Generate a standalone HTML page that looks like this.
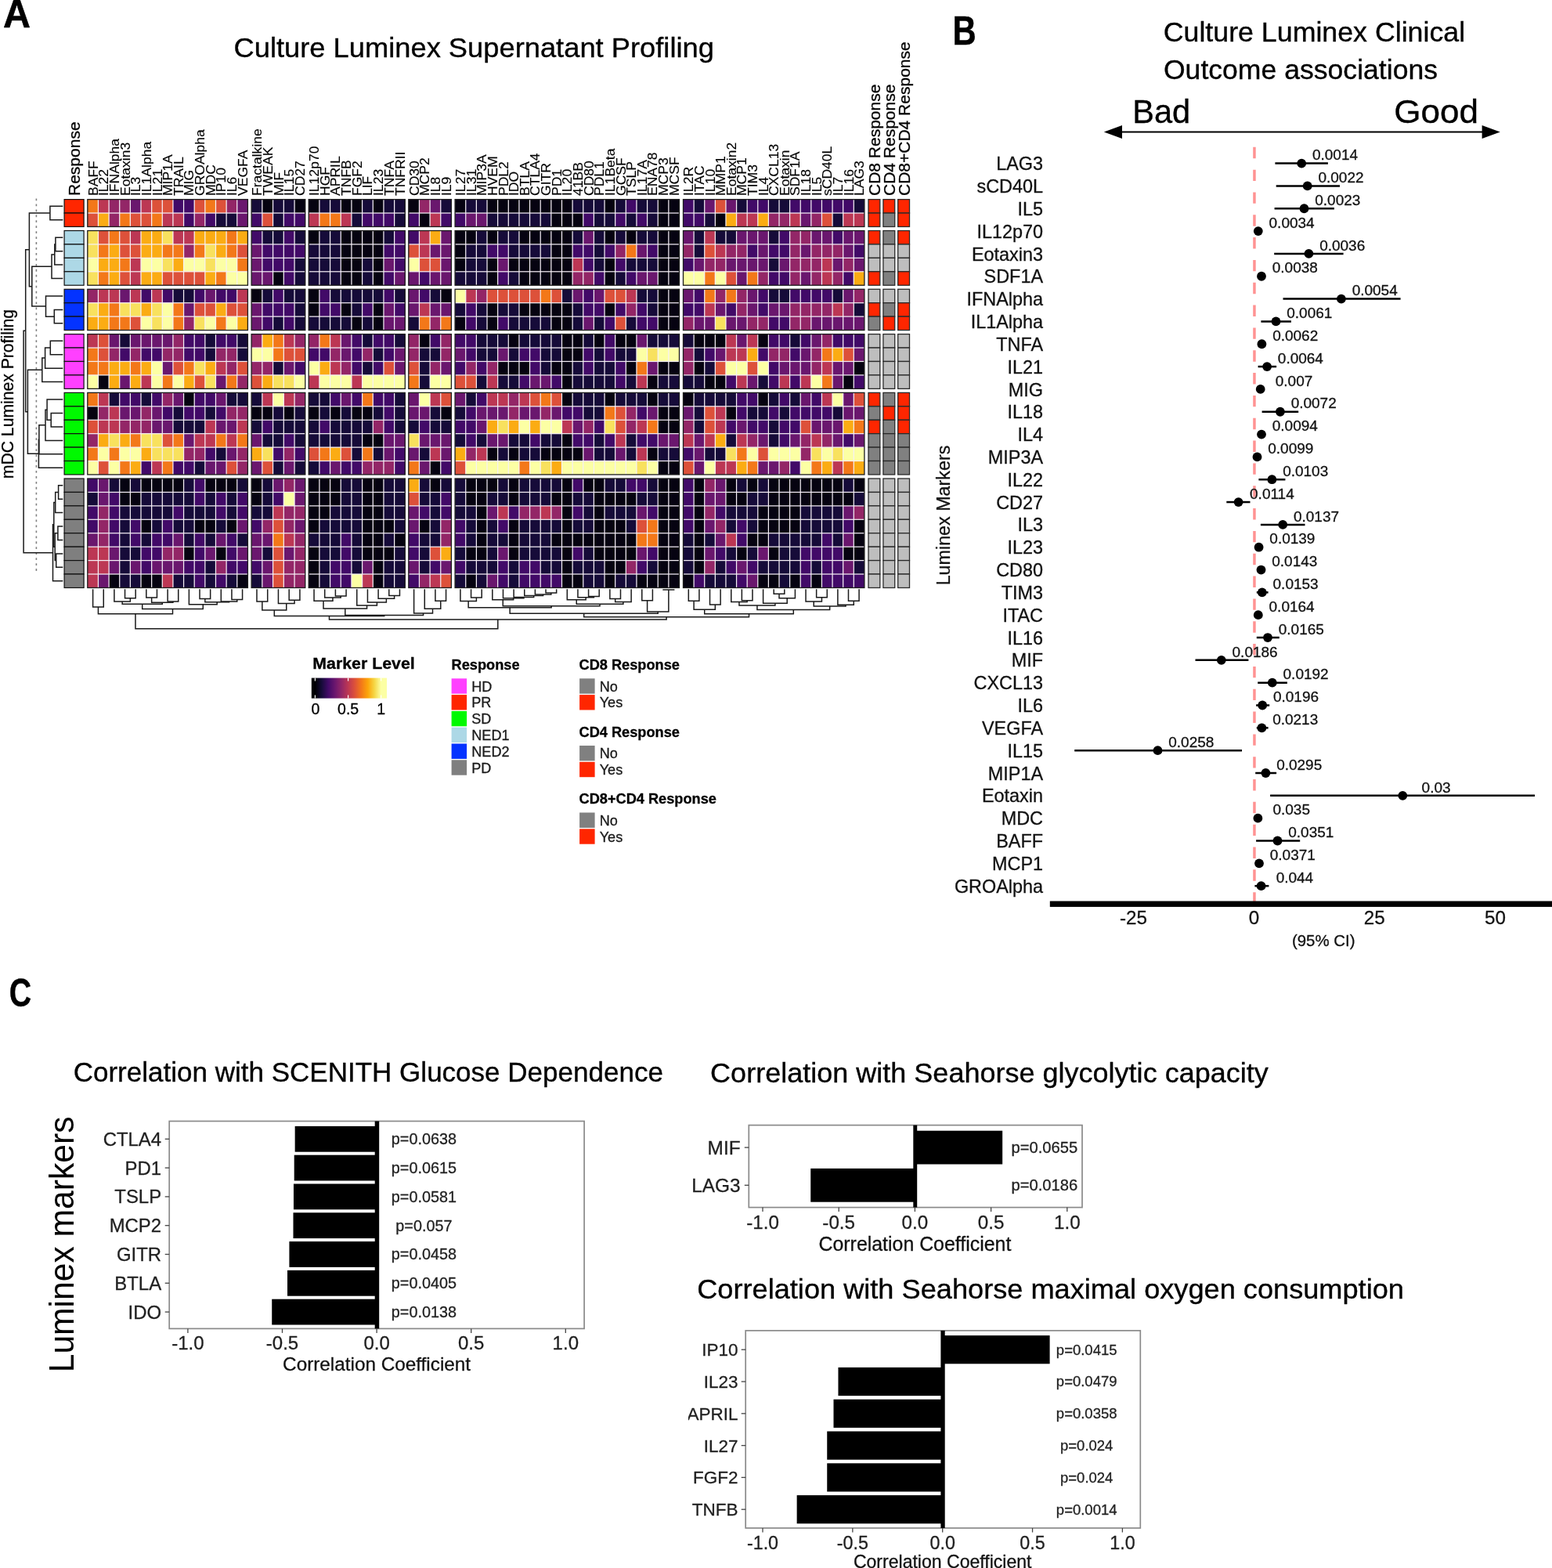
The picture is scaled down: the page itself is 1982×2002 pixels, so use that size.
<!DOCTYPE html>
<html lang="en">
<head>
<meta charset="utf-8">
<title>Culture Luminex Profiling Figure</title>
<style>
html,body{margin:0;padding:0;background:#fff;}
body{width:1982px;height:2002px;overflow:hidden;}
svg{display:block;font-family:"Liberation Sans", Arial, Helvetica, sans-serif;}
.t{font-family:"Liberation Sans", Arial, Helvetica, sans-serif;}
</style>
</head>
<body>
<svg width="1982" height="2002" viewBox="0 0 1982 2002">
<rect x="0" y="0" width="1982" height="2002" fill="#ffffff"/>
<g id="panelA">
<text font-size="50.5" transform="translate(3.99 34.8) scale(0.9605 1)" font-weight="bold" stroke="#000" stroke-width="0.5">A</text>
<text font-size="35.3" transform="translate(298.48 73) scale(1.0287 1)" stroke="#000" stroke-width="0.35">Culture Luminex Supernatant Profiling</text>
<text font-size="21.3" transform="rotate(-90 16.8 609.8) translate(15.42 609.8) scale(0.9938 1)" stroke="#000" stroke-width="0.3">mDC Luminex Profiling</text>
<g id="heatmap" shape-rendering="auto">
<rect x="111.8" y="254.6" width="204.6" height="34.86" fill="#f6f0f6"/>
<rect x="111.8" y="254.6" width="13.02" height="16.81" fill="#f37819"/>
<rect x="126.06" y="254.6" width="12.4" height="16.81" fill="#bc3754"/>
<rect x="139.7" y="254.6" width="12.4" height="16.81" fill="#932667"/>
<rect x="153.34" y="254.6" width="12.4" height="16.81" fill="#932667"/>
<rect x="166.98" y="254.6" width="12.4" height="16.81" fill="#6a176e"/>
<rect x="180.62" y="254.6" width="12.4" height="16.81" fill="#bc3754"/>
<rect x="194.26" y="254.6" width="12.4" height="16.81" fill="#dd513a"/>
<rect x="207.9" y="254.6" width="12.4" height="16.81" fill="#dd513a"/>
<rect x="221.54" y="254.6" width="12.4" height="16.81" fill="#420a68"/>
<rect x="235.18" y="254.6" width="12.4" height="16.81" fill="#420a68"/>
<rect x="248.82" y="254.6" width="12.4" height="16.81" fill="#dd513a"/>
<rect x="262.46" y="254.6" width="12.4" height="16.81" fill="#f37819"/>
<rect x="276.1" y="254.6" width="12.4" height="16.81" fill="#dd513a"/>
<rect x="289.74" y="254.6" width="12.4" height="16.81" fill="#932667"/>
<rect x="303.38" y="254.6" width="13.02" height="16.81" fill="#6a176e"/>
<rect x="111.8" y="272.65" width="13.02" height="16.81" fill="#dd513a"/>
<rect x="126.06" y="272.65" width="12.4" height="16.81" fill="#fbac13"/>
<rect x="139.7" y="272.65" width="12.4" height="16.81" fill="#932667"/>
<rect x="153.34" y="272.65" width="12.4" height="16.81" fill="#f37819"/>
<rect x="166.98" y="272.65" width="12.4" height="16.81" fill="#dd513a"/>
<rect x="180.62" y="272.65" width="12.4" height="16.81" fill="#dd513a"/>
<rect x="194.26" y="272.65" width="12.4" height="16.81" fill="#f37819"/>
<rect x="207.9" y="272.65" width="12.4" height="16.81" fill="#bc3754"/>
<rect x="221.54" y="272.65" width="12.4" height="16.81" fill="#bc3754"/>
<rect x="235.18" y="272.65" width="12.4" height="16.81" fill="#420a68"/>
<rect x="248.82" y="272.65" width="12.4" height="16.81" fill="#932667"/>
<rect x="262.46" y="272.65" width="12.4" height="16.81" fill="#420a68"/>
<rect x="276.1" y="272.65" width="12.4" height="16.81" fill="#160b39"/>
<rect x="289.74" y="272.65" width="12.4" height="16.81" fill="#160b39"/>
<rect x="303.38" y="272.65" width="13.02" height="16.81" fill="#6a176e"/>
<rect x="111.8" y="254.6" width="204.6" height="34.86" fill="none" stroke="#1c1c1c" stroke-width="1.3"/>
<rect x="321.1" y="254.6" width="68.7" height="34.86" fill="#f6f0f6"/>
<rect x="321.1" y="254.6" width="13.12" height="16.81" fill="#160b39"/>
<rect x="335.46" y="254.6" width="12.5" height="16.81" fill="#060311"/>
<rect x="349.2" y="254.6" width="12.5" height="16.81" fill="#160b39"/>
<rect x="362.94" y="254.6" width="12.5" height="16.81" fill="#160b39"/>
<rect x="376.68" y="254.6" width="13.12" height="16.81" fill="#060311"/>
<rect x="321.1" y="272.65" width="13.12" height="16.81" fill="#420a68"/>
<rect x="335.46" y="272.65" width="12.5" height="16.81" fill="#dd513a"/>
<rect x="349.2" y="272.65" width="12.5" height="16.81" fill="#160b39"/>
<rect x="362.94" y="272.65" width="12.5" height="16.81" fill="#420a68"/>
<rect x="376.68" y="272.65" width="13.12" height="16.81" fill="#420a68"/>
<rect x="321.1" y="254.6" width="68.7" height="34.86" fill="none" stroke="#1c1c1c" stroke-width="1.3"/>
<rect x="394.2" y="254.6" width="123.1" height="34.86" fill="#f6f0f6"/>
<rect x="394.2" y="254.6" width="13.06" height="16.81" fill="#060311"/>
<rect x="408.5" y="254.6" width="12.44" height="16.81" fill="#160b39"/>
<rect x="422.18" y="254.6" width="12.44" height="16.81" fill="#160b39"/>
<rect x="435.85" y="254.6" width="12.44" height="16.81" fill="#060311"/>
<rect x="449.53" y="254.6" width="12.44" height="16.81" fill="#060311"/>
<rect x="463.21" y="254.6" width="12.44" height="16.81" fill="#160b39"/>
<rect x="476.89" y="254.6" width="12.44" height="16.81" fill="#060311"/>
<rect x="490.56" y="254.6" width="12.44" height="16.81" fill="#160b39"/>
<rect x="504.24" y="254.6" width="13.06" height="16.81" fill="#160b39"/>
<rect x="394.2" y="272.65" width="13.06" height="16.81" fill="#bc3754"/>
<rect x="408.5" y="272.65" width="12.44" height="16.81" fill="#f37819"/>
<rect x="422.18" y="272.65" width="12.44" height="16.81" fill="#f37819"/>
<rect x="435.85" y="272.65" width="12.44" height="16.81" fill="#bc3754"/>
<rect x="449.53" y="272.65" width="12.44" height="16.81" fill="#160b39"/>
<rect x="463.21" y="272.65" width="12.44" height="16.81" fill="#420a68"/>
<rect x="476.89" y="272.65" width="12.44" height="16.81" fill="#420a68"/>
<rect x="490.56" y="272.65" width="12.44" height="16.81" fill="#420a68"/>
<rect x="504.24" y="272.65" width="13.06" height="16.81" fill="#160b39"/>
<rect x="394.2" y="254.6" width="123.1" height="34.86" fill="none" stroke="#1c1c1c" stroke-width="1.3"/>
<rect x="521.8" y="254.6" width="54.6" height="34.86" fill="#f6f0f6"/>
<rect x="521.8" y="254.6" width="13.03" height="16.81" fill="#060311"/>
<rect x="536.07" y="254.6" width="12.41" height="16.81" fill="#932667"/>
<rect x="549.72" y="254.6" width="12.41" height="16.81" fill="#6a176e"/>
<rect x="563.37" y="254.6" width="13.03" height="16.81" fill="#160b39"/>
<rect x="521.8" y="272.65" width="13.03" height="16.81" fill="#420a68"/>
<rect x="536.07" y="272.65" width="12.41" height="16.81" fill="#060311"/>
<rect x="549.72" y="272.65" width="12.41" height="16.81" fill="#bc3754"/>
<rect x="563.37" y="272.65" width="13.03" height="16.81" fill="#420a68"/>
<rect x="521.8" y="254.6" width="54.6" height="34.86" fill="none" stroke="#1c1c1c" stroke-width="1.3"/>
<rect x="581.1" y="254.6" width="286.4" height="34.86" fill="#f6f0f6"/>
<rect x="581.1" y="254.6" width="13.02" height="16.81" fill="#060311"/>
<rect x="595.36" y="254.6" width="12.4" height="16.81" fill="#160b39"/>
<rect x="609" y="254.6" width="12.4" height="16.81" fill="#160b39"/>
<rect x="622.63" y="254.6" width="12.4" height="16.81" fill="#060311"/>
<rect x="636.27" y="254.6" width="12.4" height="16.81" fill="#060311"/>
<rect x="649.91" y="254.6" width="12.4" height="16.81" fill="#060311"/>
<rect x="663.55" y="254.6" width="12.4" height="16.81" fill="#060311"/>
<rect x="677.19" y="254.6" width="12.4" height="16.81" fill="#060311"/>
<rect x="690.82" y="254.6" width="12.4" height="16.81" fill="#060311"/>
<rect x="704.46" y="254.6" width="12.4" height="16.81" fill="#060311"/>
<rect x="718.1" y="254.6" width="12.4" height="16.81" fill="#060311"/>
<rect x="731.74" y="254.6" width="12.4" height="16.81" fill="#160b39"/>
<rect x="745.38" y="254.6" width="12.4" height="16.81" fill="#160b39"/>
<rect x="759.02" y="254.6" width="12.4" height="16.81" fill="#160b39"/>
<rect x="772.65" y="254.6" width="12.4" height="16.81" fill="#060311"/>
<rect x="786.29" y="254.6" width="12.4" height="16.81" fill="#160b39"/>
<rect x="799.93" y="254.6" width="12.4" height="16.81" fill="#420a68"/>
<rect x="813.57" y="254.6" width="12.4" height="16.81" fill="#160b39"/>
<rect x="827.21" y="254.6" width="12.4" height="16.81" fill="#160b39"/>
<rect x="840.84" y="254.6" width="12.4" height="16.81" fill="#060311"/>
<rect x="854.48" y="254.6" width="13.02" height="16.81" fill="#060311"/>
<rect x="581.1" y="272.65" width="13.02" height="16.81" fill="#420a68"/>
<rect x="595.36" y="272.65" width="12.4" height="16.81" fill="#6a176e"/>
<rect x="609" y="272.65" width="12.4" height="16.81" fill="#6a176e"/>
<rect x="622.63" y="272.65" width="12.4" height="16.81" fill="#160b39"/>
<rect x="636.27" y="272.65" width="12.4" height="16.81" fill="#160b39"/>
<rect x="649.91" y="272.65" width="12.4" height="16.81" fill="#160b39"/>
<rect x="663.55" y="272.65" width="12.4" height="16.81" fill="#160b39"/>
<rect x="677.19" y="272.65" width="12.4" height="16.81" fill="#160b39"/>
<rect x="690.82" y="272.65" width="12.4" height="16.81" fill="#160b39"/>
<rect x="704.46" y="272.65" width="12.4" height="16.81" fill="#060311"/>
<rect x="718.1" y="272.65" width="12.4" height="16.81" fill="#060311"/>
<rect x="731.74" y="272.65" width="12.4" height="16.81" fill="#060311"/>
<rect x="745.38" y="272.65" width="12.4" height="16.81" fill="#420a68"/>
<rect x="759.02" y="272.65" width="12.4" height="16.81" fill="#160b39"/>
<rect x="772.65" y="272.65" width="12.4" height="16.81" fill="#160b39"/>
<rect x="786.29" y="272.65" width="12.4" height="16.81" fill="#420a68"/>
<rect x="799.93" y="272.65" width="12.4" height="16.81" fill="#160b39"/>
<rect x="813.57" y="272.65" width="12.4" height="16.81" fill="#420a68"/>
<rect x="827.21" y="272.65" width="12.4" height="16.81" fill="#160b39"/>
<rect x="840.84" y="272.65" width="12.4" height="16.81" fill="#060311"/>
<rect x="854.48" y="272.65" width="13.02" height="16.81" fill="#060311"/>
<rect x="581.1" y="254.6" width="286.4" height="34.86" fill="none" stroke="#1c1c1c" stroke-width="1.3"/>
<rect x="872.5" y="254.6" width="231.4" height="34.86" fill="#f6f0f6"/>
<rect x="872.5" y="254.6" width="12.99" height="16.81" fill="#420a68"/>
<rect x="886.73" y="254.6" width="12.37" height="16.81" fill="#160b39"/>
<rect x="900.34" y="254.6" width="12.37" height="16.81" fill="#6a176e"/>
<rect x="913.96" y="254.6" width="12.37" height="16.81" fill="#dd513a"/>
<rect x="927.57" y="254.6" width="12.37" height="16.81" fill="#6a176e"/>
<rect x="941.18" y="254.6" width="12.37" height="16.81" fill="#160b39"/>
<rect x="954.79" y="254.6" width="12.37" height="16.81" fill="#420a68"/>
<rect x="968.4" y="254.6" width="12.37" height="16.81" fill="#420a68"/>
<rect x="982.01" y="254.6" width="12.37" height="16.81" fill="#160b39"/>
<rect x="995.63" y="254.6" width="12.37" height="16.81" fill="#160b39"/>
<rect x="1009.24" y="254.6" width="12.37" height="16.81" fill="#420a68"/>
<rect x="1022.85" y="254.6" width="12.37" height="16.81" fill="#420a68"/>
<rect x="1036.46" y="254.6" width="12.37" height="16.81" fill="#420a68"/>
<rect x="1050.07" y="254.6" width="12.37" height="16.81" fill="#420a68"/>
<rect x="1063.68" y="254.6" width="12.37" height="16.81" fill="#420a68"/>
<rect x="1077.3" y="254.6" width="12.37" height="16.81" fill="#420a68"/>
<rect x="1090.91" y="254.6" width="12.99" height="16.81" fill="#160b39"/>
<rect x="872.5" y="272.65" width="12.99" height="16.81" fill="#420a68"/>
<rect x="886.73" y="272.65" width="12.37" height="16.81" fill="#420a68"/>
<rect x="900.34" y="272.65" width="12.37" height="16.81" fill="#160b39"/>
<rect x="913.96" y="272.65" width="12.37" height="16.81" fill="#060311"/>
<rect x="927.57" y="272.65" width="12.37" height="16.81" fill="#fbac13"/>
<rect x="941.18" y="272.65" width="12.37" height="16.81" fill="#bc3754"/>
<rect x="954.79" y="272.65" width="12.37" height="16.81" fill="#bc3754"/>
<rect x="968.4" y="272.65" width="12.37" height="16.81" fill="#fbac13"/>
<rect x="982.01" y="272.65" width="12.37" height="16.81" fill="#932667"/>
<rect x="995.63" y="272.65" width="12.37" height="16.81" fill="#932667"/>
<rect x="1009.24" y="272.65" width="12.37" height="16.81" fill="#bc3754"/>
<rect x="1022.85" y="272.65" width="12.37" height="16.81" fill="#6a176e"/>
<rect x="1036.46" y="272.65" width="12.37" height="16.81" fill="#932667"/>
<rect x="1050.07" y="272.65" width="12.37" height="16.81" fill="#dd513a"/>
<rect x="1063.68" y="272.65" width="12.37" height="16.81" fill="#160b39"/>
<rect x="1077.3" y="272.65" width="12.37" height="16.81" fill="#bc3754"/>
<rect x="1090.91" y="272.65" width="12.99" height="16.81" fill="#bc3754"/>
<rect x="872.5" y="254.6" width="231.4" height="34.86" fill="none" stroke="#1c1c1c" stroke-width="1.3"/>
<rect x="111.8" y="294.51" width="204.6" height="69.72" fill="#f6f0f6"/>
<rect x="111.8" y="294.51" width="13.02" height="16.81" fill="#f8e15e"/>
<rect x="126.06" y="294.51" width="12.4" height="16.81" fill="#dd513a"/>
<rect x="139.7" y="294.51" width="12.4" height="16.81" fill="#f37819"/>
<rect x="153.34" y="294.51" width="12.4" height="16.81" fill="#dd513a"/>
<rect x="166.98" y="294.51" width="12.4" height="16.81" fill="#bc3754"/>
<rect x="180.62" y="294.51" width="12.4" height="16.81" fill="#fbac13"/>
<rect x="194.26" y="294.51" width="12.4" height="16.81" fill="#fbac13"/>
<rect x="207.9" y="294.51" width="12.4" height="16.81" fill="#f8e15e"/>
<rect x="221.54" y="294.51" width="12.4" height="16.81" fill="#bc3754"/>
<rect x="235.18" y="294.51" width="12.4" height="16.81" fill="#bc3754"/>
<rect x="248.82" y="294.51" width="12.4" height="16.81" fill="#fbac13"/>
<rect x="262.46" y="294.51" width="12.4" height="16.81" fill="#fbac13"/>
<rect x="276.1" y="294.51" width="12.4" height="16.81" fill="#fbac13"/>
<rect x="289.74" y="294.51" width="12.4" height="16.81" fill="#f37819"/>
<rect x="303.38" y="294.51" width="13.02" height="16.81" fill="#fbac13"/>
<rect x="111.8" y="312.56" width="13.02" height="16.19" fill="#f8e15e"/>
<rect x="126.06" y="312.56" width="12.4" height="16.19" fill="#f37819"/>
<rect x="139.7" y="312.56" width="12.4" height="16.19" fill="#fbac13"/>
<rect x="153.34" y="312.56" width="12.4" height="16.19" fill="#dd513a"/>
<rect x="166.98" y="312.56" width="12.4" height="16.19" fill="#dd513a"/>
<rect x="180.62" y="312.56" width="12.4" height="16.19" fill="#fbac13"/>
<rect x="194.26" y="312.56" width="12.4" height="16.19" fill="#fbac13"/>
<rect x="207.9" y="312.56" width="12.4" height="16.19" fill="#f37819"/>
<rect x="221.54" y="312.56" width="12.4" height="16.19" fill="#f37819"/>
<rect x="235.18" y="312.56" width="12.4" height="16.19" fill="#932667"/>
<rect x="248.82" y="312.56" width="12.4" height="16.19" fill="#f37819"/>
<rect x="262.46" y="312.56" width="12.4" height="16.19" fill="#f8e15e"/>
<rect x="276.1" y="312.56" width="12.4" height="16.19" fill="#fbac13"/>
<rect x="289.74" y="312.56" width="12.4" height="16.19" fill="#f37819"/>
<rect x="303.38" y="312.56" width="13.02" height="16.19" fill="#dd513a"/>
<rect x="111.8" y="329.99" width="13.02" height="16.19" fill="#fcffa4"/>
<rect x="126.06" y="329.99" width="12.4" height="16.19" fill="#fbac13"/>
<rect x="139.7" y="329.99" width="12.4" height="16.19" fill="#fbac13"/>
<rect x="153.34" y="329.99" width="12.4" height="16.19" fill="#f37819"/>
<rect x="166.98" y="329.99" width="12.4" height="16.19" fill="#bc3754"/>
<rect x="180.62" y="329.99" width="12.4" height="16.19" fill="#fcffa4"/>
<rect x="194.26" y="329.99" width="12.4" height="16.19" fill="#fcffa4"/>
<rect x="207.9" y="329.99" width="12.4" height="16.19" fill="#f8e15e"/>
<rect x="221.54" y="329.99" width="12.4" height="16.19" fill="#fbac13"/>
<rect x="235.18" y="329.99" width="12.4" height="16.19" fill="#fcffa4"/>
<rect x="248.82" y="329.99" width="12.4" height="16.19" fill="#fcffa4"/>
<rect x="262.46" y="329.99" width="12.4" height="16.19" fill="#f8e15e"/>
<rect x="276.1" y="329.99" width="12.4" height="16.19" fill="#fcffa4"/>
<rect x="289.74" y="329.99" width="12.4" height="16.19" fill="#fcffa4"/>
<rect x="303.38" y="329.99" width="13.02" height="16.19" fill="#f37819"/>
<rect x="111.8" y="347.42" width="13.02" height="16.81" fill="#f8e15e"/>
<rect x="126.06" y="347.42" width="12.4" height="16.81" fill="#f37819"/>
<rect x="139.7" y="347.42" width="12.4" height="16.81" fill="#fbac13"/>
<rect x="153.34" y="347.42" width="12.4" height="16.81" fill="#dd513a"/>
<rect x="166.98" y="347.42" width="12.4" height="16.81" fill="#bc3754"/>
<rect x="180.62" y="347.42" width="12.4" height="16.81" fill="#fbac13"/>
<rect x="194.26" y="347.42" width="12.4" height="16.81" fill="#fbac13"/>
<rect x="207.9" y="347.42" width="12.4" height="16.81" fill="#dd513a"/>
<rect x="221.54" y="347.42" width="12.4" height="16.81" fill="#dd513a"/>
<rect x="235.18" y="347.42" width="12.4" height="16.81" fill="#dd513a"/>
<rect x="248.82" y="347.42" width="12.4" height="16.81" fill="#dd513a"/>
<rect x="262.46" y="347.42" width="12.4" height="16.81" fill="#fbac13"/>
<rect x="276.1" y="347.42" width="12.4" height="16.81" fill="#f37819"/>
<rect x="289.74" y="347.42" width="12.4" height="16.81" fill="#fcffa4"/>
<rect x="303.38" y="347.42" width="13.02" height="16.81" fill="#fcffa4"/>
<rect x="111.8" y="294.51" width="204.6" height="69.72" fill="none" stroke="#1c1c1c" stroke-width="1.3"/>
<rect x="321.1" y="294.51" width="68.7" height="69.72" fill="#f6f0f6"/>
<rect x="321.1" y="294.51" width="13.12" height="16.81" fill="#420a68"/>
<rect x="335.46" y="294.51" width="12.5" height="16.81" fill="#160b39"/>
<rect x="349.2" y="294.51" width="12.5" height="16.81" fill="#160b39"/>
<rect x="362.94" y="294.51" width="12.5" height="16.81" fill="#420a68"/>
<rect x="376.68" y="294.51" width="13.12" height="16.81" fill="#160b39"/>
<rect x="321.1" y="312.56" width="13.12" height="16.19" fill="#6a176e"/>
<rect x="335.46" y="312.56" width="12.5" height="16.19" fill="#420a68"/>
<rect x="349.2" y="312.56" width="12.5" height="16.19" fill="#420a68"/>
<rect x="362.94" y="312.56" width="12.5" height="16.19" fill="#420a68"/>
<rect x="376.68" y="312.56" width="13.12" height="16.19" fill="#420a68"/>
<rect x="321.1" y="329.99" width="13.12" height="16.19" fill="#6a176e"/>
<rect x="335.46" y="329.99" width="12.5" height="16.19" fill="#420a68"/>
<rect x="349.2" y="329.99" width="12.5" height="16.19" fill="#420a68"/>
<rect x="362.94" y="329.99" width="12.5" height="16.19" fill="#420a68"/>
<rect x="376.68" y="329.99" width="13.12" height="16.19" fill="#160b39"/>
<rect x="321.1" y="347.42" width="13.12" height="16.81" fill="#6a176e"/>
<rect x="335.46" y="347.42" width="12.5" height="16.81" fill="#6a176e"/>
<rect x="349.2" y="347.42" width="12.5" height="16.81" fill="#060311"/>
<rect x="362.94" y="347.42" width="12.5" height="16.81" fill="#420a68"/>
<rect x="376.68" y="347.42" width="13.12" height="16.81" fill="#160b39"/>
<rect x="321.1" y="294.51" width="68.7" height="69.72" fill="none" stroke="#1c1c1c" stroke-width="1.3"/>
<rect x="394.2" y="294.51" width="123.1" height="69.72" fill="#f6f0f6"/>
<rect x="394.2" y="294.51" width="13.06" height="16.81" fill="#060311"/>
<rect x="408.5" y="294.51" width="12.44" height="16.81" fill="#160b39"/>
<rect x="422.18" y="294.51" width="12.44" height="16.81" fill="#160b39"/>
<rect x="435.85" y="294.51" width="12.44" height="16.81" fill="#060311"/>
<rect x="449.53" y="294.51" width="12.44" height="16.81" fill="#060311"/>
<rect x="463.21" y="294.51" width="12.44" height="16.81" fill="#060311"/>
<rect x="476.89" y="294.51" width="12.44" height="16.81" fill="#060311"/>
<rect x="490.56" y="294.51" width="12.44" height="16.81" fill="#160b39"/>
<rect x="504.24" y="294.51" width="13.06" height="16.81" fill="#420a68"/>
<rect x="394.2" y="312.56" width="13.06" height="16.19" fill="#160b39"/>
<rect x="408.5" y="312.56" width="12.44" height="16.19" fill="#160b39"/>
<rect x="422.18" y="312.56" width="12.44" height="16.19" fill="#160b39"/>
<rect x="435.85" y="312.56" width="12.44" height="16.19" fill="#060311"/>
<rect x="449.53" y="312.56" width="12.44" height="16.19" fill="#060311"/>
<rect x="463.21" y="312.56" width="12.44" height="16.19" fill="#060311"/>
<rect x="476.89" y="312.56" width="12.44" height="16.19" fill="#060311"/>
<rect x="490.56" y="312.56" width="12.44" height="16.19" fill="#420a68"/>
<rect x="504.24" y="312.56" width="13.06" height="16.19" fill="#420a68"/>
<rect x="394.2" y="329.99" width="13.06" height="16.19" fill="#160b39"/>
<rect x="408.5" y="329.99" width="12.44" height="16.19" fill="#160b39"/>
<rect x="422.18" y="329.99" width="12.44" height="16.19" fill="#160b39"/>
<rect x="435.85" y="329.99" width="12.44" height="16.19" fill="#060311"/>
<rect x="449.53" y="329.99" width="12.44" height="16.19" fill="#060311"/>
<rect x="463.21" y="329.99" width="12.44" height="16.19" fill="#160b39"/>
<rect x="476.89" y="329.99" width="12.44" height="16.19" fill="#060311"/>
<rect x="490.56" y="329.99" width="12.44" height="16.19" fill="#6a176e"/>
<rect x="504.24" y="329.99" width="13.06" height="16.19" fill="#420a68"/>
<rect x="394.2" y="347.42" width="13.06" height="16.81" fill="#160b39"/>
<rect x="408.5" y="347.42" width="12.44" height="16.81" fill="#160b39"/>
<rect x="422.18" y="347.42" width="12.44" height="16.81" fill="#160b39"/>
<rect x="435.85" y="347.42" width="12.44" height="16.81" fill="#060311"/>
<rect x="449.53" y="347.42" width="12.44" height="16.81" fill="#060311"/>
<rect x="463.21" y="347.42" width="12.44" height="16.81" fill="#160b39"/>
<rect x="476.89" y="347.42" width="12.44" height="16.81" fill="#060311"/>
<rect x="490.56" y="347.42" width="12.44" height="16.81" fill="#420a68"/>
<rect x="504.24" y="347.42" width="13.06" height="16.81" fill="#6a176e"/>
<rect x="394.2" y="294.51" width="123.1" height="69.72" fill="none" stroke="#1c1c1c" stroke-width="1.3"/>
<rect x="521.8" y="294.51" width="54.6" height="69.72" fill="#f6f0f6"/>
<rect x="521.8" y="294.51" width="13.03" height="16.81" fill="#420a68"/>
<rect x="536.07" y="294.51" width="12.41" height="16.81" fill="#bc3754"/>
<rect x="549.72" y="294.51" width="12.41" height="16.81" fill="#fbac13"/>
<rect x="563.37" y="294.51" width="13.03" height="16.81" fill="#6a176e"/>
<rect x="521.8" y="312.56" width="13.03" height="16.19" fill="#dd513a"/>
<rect x="536.07" y="312.56" width="12.41" height="16.19" fill="#bc3754"/>
<rect x="549.72" y="312.56" width="12.41" height="16.19" fill="#6a176e"/>
<rect x="563.37" y="312.56" width="13.03" height="16.19" fill="#6a176e"/>
<rect x="521.8" y="329.99" width="13.03" height="16.19" fill="#fcffa4"/>
<rect x="536.07" y="329.99" width="12.41" height="16.19" fill="#dd513a"/>
<rect x="549.72" y="329.99" width="12.41" height="16.19" fill="#dd513a"/>
<rect x="563.37" y="329.99" width="13.03" height="16.19" fill="#6a176e"/>
<rect x="521.8" y="347.42" width="13.03" height="16.81" fill="#6a176e"/>
<rect x="536.07" y="347.42" width="12.41" height="16.81" fill="#420a68"/>
<rect x="549.72" y="347.42" width="12.41" height="16.81" fill="#6a176e"/>
<rect x="563.37" y="347.42" width="13.03" height="16.81" fill="#6a176e"/>
<rect x="521.8" y="294.51" width="54.6" height="69.72" fill="none" stroke="#1c1c1c" stroke-width="1.3"/>
<rect x="581.1" y="294.51" width="286.4" height="69.72" fill="#f6f0f6"/>
<rect x="581.1" y="294.51" width="13.02" height="16.81" fill="#060311"/>
<rect x="595.36" y="294.51" width="12.4" height="16.81" fill="#060311"/>
<rect x="609" y="294.51" width="12.4" height="16.81" fill="#160b39"/>
<rect x="622.63" y="294.51" width="12.4" height="16.81" fill="#060311"/>
<rect x="636.27" y="294.51" width="12.4" height="16.81" fill="#160b39"/>
<rect x="649.91" y="294.51" width="12.4" height="16.81" fill="#160b39"/>
<rect x="663.55" y="294.51" width="12.4" height="16.81" fill="#060311"/>
<rect x="677.19" y="294.51" width="12.4" height="16.81" fill="#060311"/>
<rect x="690.82" y="294.51" width="12.4" height="16.81" fill="#060311"/>
<rect x="704.46" y="294.51" width="12.4" height="16.81" fill="#060311"/>
<rect x="718.1" y="294.51" width="12.4" height="16.81" fill="#060311"/>
<rect x="731.74" y="294.51" width="12.4" height="16.81" fill="#160b39"/>
<rect x="745.38" y="294.51" width="12.4" height="16.81" fill="#6a176e"/>
<rect x="759.02" y="294.51" width="12.4" height="16.81" fill="#160b39"/>
<rect x="772.65" y="294.51" width="12.4" height="16.81" fill="#060311"/>
<rect x="786.29" y="294.51" width="12.4" height="16.81" fill="#160b39"/>
<rect x="799.93" y="294.51" width="12.4" height="16.81" fill="#060311"/>
<rect x="813.57" y="294.51" width="12.4" height="16.81" fill="#160b39"/>
<rect x="827.21" y="294.51" width="12.4" height="16.81" fill="#160b39"/>
<rect x="840.84" y="294.51" width="12.4" height="16.81" fill="#060311"/>
<rect x="854.48" y="294.51" width="13.02" height="16.81" fill="#060311"/>
<rect x="581.1" y="312.56" width="13.02" height="16.19" fill="#060311"/>
<rect x="595.36" y="312.56" width="12.4" height="16.19" fill="#160b39"/>
<rect x="609" y="312.56" width="12.4" height="16.19" fill="#160b39"/>
<rect x="622.63" y="312.56" width="12.4" height="16.19" fill="#420a68"/>
<rect x="636.27" y="312.56" width="12.4" height="16.19" fill="#420a68"/>
<rect x="649.91" y="312.56" width="12.4" height="16.19" fill="#160b39"/>
<rect x="663.55" y="312.56" width="12.4" height="16.19" fill="#160b39"/>
<rect x="677.19" y="312.56" width="12.4" height="16.19" fill="#160b39"/>
<rect x="690.82" y="312.56" width="12.4" height="16.19" fill="#160b39"/>
<rect x="704.46" y="312.56" width="12.4" height="16.19" fill="#060311"/>
<rect x="718.1" y="312.56" width="12.4" height="16.19" fill="#060311"/>
<rect x="731.74" y="312.56" width="12.4" height="16.19" fill="#420a68"/>
<rect x="745.38" y="312.56" width="12.4" height="16.19" fill="#420a68"/>
<rect x="759.02" y="312.56" width="12.4" height="16.19" fill="#160b39"/>
<rect x="772.65" y="312.56" width="12.4" height="16.19" fill="#420a68"/>
<rect x="786.29" y="312.56" width="12.4" height="16.19" fill="#932667"/>
<rect x="799.93" y="312.56" width="12.4" height="16.19" fill="#f37819"/>
<rect x="813.57" y="312.56" width="12.4" height="16.19" fill="#6a176e"/>
<rect x="827.21" y="312.56" width="12.4" height="16.19" fill="#420a68"/>
<rect x="840.84" y="312.56" width="12.4" height="16.19" fill="#060311"/>
<rect x="854.48" y="312.56" width="13.02" height="16.19" fill="#060311"/>
<rect x="581.1" y="329.99" width="13.02" height="16.19" fill="#060311"/>
<rect x="595.36" y="329.99" width="12.4" height="16.19" fill="#160b39"/>
<rect x="609" y="329.99" width="12.4" height="16.19" fill="#160b39"/>
<rect x="622.63" y="329.99" width="12.4" height="16.19" fill="#060311"/>
<rect x="636.27" y="329.99" width="12.4" height="16.19" fill="#6a176e"/>
<rect x="649.91" y="329.99" width="12.4" height="16.19" fill="#060311"/>
<rect x="663.55" y="329.99" width="12.4" height="16.19" fill="#060311"/>
<rect x="677.19" y="329.99" width="12.4" height="16.19" fill="#060311"/>
<rect x="690.82" y="329.99" width="12.4" height="16.19" fill="#060311"/>
<rect x="704.46" y="329.99" width="12.4" height="16.19" fill="#060311"/>
<rect x="718.1" y="329.99" width="12.4" height="16.19" fill="#060311"/>
<rect x="731.74" y="329.99" width="12.4" height="16.19" fill="#bc3754"/>
<rect x="745.38" y="329.99" width="12.4" height="16.19" fill="#420a68"/>
<rect x="759.02" y="329.99" width="12.4" height="16.19" fill="#160b39"/>
<rect x="772.65" y="329.99" width="12.4" height="16.19" fill="#060311"/>
<rect x="786.29" y="329.99" width="12.4" height="16.19" fill="#420a68"/>
<rect x="799.93" y="329.99" width="12.4" height="16.19" fill="#160b39"/>
<rect x="813.57" y="329.99" width="12.4" height="16.19" fill="#160b39"/>
<rect x="827.21" y="329.99" width="12.4" height="16.19" fill="#160b39"/>
<rect x="840.84" y="329.99" width="12.4" height="16.19" fill="#060311"/>
<rect x="854.48" y="329.99" width="13.02" height="16.19" fill="#060311"/>
<rect x="581.1" y="347.42" width="13.02" height="16.81" fill="#160b39"/>
<rect x="595.36" y="347.42" width="12.4" height="16.81" fill="#160b39"/>
<rect x="609" y="347.42" width="12.4" height="16.81" fill="#160b39"/>
<rect x="622.63" y="347.42" width="12.4" height="16.81" fill="#060311"/>
<rect x="636.27" y="347.42" width="12.4" height="16.81" fill="#420a68"/>
<rect x="649.91" y="347.42" width="12.4" height="16.81" fill="#160b39"/>
<rect x="663.55" y="347.42" width="12.4" height="16.81" fill="#060311"/>
<rect x="677.19" y="347.42" width="12.4" height="16.81" fill="#060311"/>
<rect x="690.82" y="347.42" width="12.4" height="16.81" fill="#060311"/>
<rect x="704.46" y="347.42" width="12.4" height="16.81" fill="#060311"/>
<rect x="718.1" y="347.42" width="12.4" height="16.81" fill="#060311"/>
<rect x="731.74" y="347.42" width="12.4" height="16.81" fill="#932667"/>
<rect x="745.38" y="347.42" width="12.4" height="16.81" fill="#932667"/>
<rect x="759.02" y="347.42" width="12.4" height="16.81" fill="#420a68"/>
<rect x="772.65" y="347.42" width="12.4" height="16.81" fill="#060311"/>
<rect x="786.29" y="347.42" width="12.4" height="16.81" fill="#160b39"/>
<rect x="799.93" y="347.42" width="12.4" height="16.81" fill="#420a68"/>
<rect x="813.57" y="347.42" width="12.4" height="16.81" fill="#6a176e"/>
<rect x="827.21" y="347.42" width="12.4" height="16.81" fill="#6a176e"/>
<rect x="840.84" y="347.42" width="12.4" height="16.81" fill="#060311"/>
<rect x="854.48" y="347.42" width="13.02" height="16.81" fill="#060311"/>
<rect x="581.1" y="294.51" width="286.4" height="69.72" fill="none" stroke="#1c1c1c" stroke-width="1.3"/>
<rect x="872.5" y="294.51" width="231.4" height="69.72" fill="#f6f0f6"/>
<rect x="872.5" y="294.51" width="12.99" height="16.81" fill="#6a176e"/>
<rect x="886.73" y="294.51" width="12.37" height="16.81" fill="#160b39"/>
<rect x="900.34" y="294.51" width="12.37" height="16.81" fill="#bc3754"/>
<rect x="913.96" y="294.51" width="12.37" height="16.81" fill="#160b39"/>
<rect x="927.57" y="294.51" width="12.37" height="16.81" fill="#160b39"/>
<rect x="941.18" y="294.51" width="12.37" height="16.81" fill="#6a176e"/>
<rect x="954.79" y="294.51" width="12.37" height="16.81" fill="#6a176e"/>
<rect x="968.4" y="294.51" width="12.37" height="16.81" fill="#6a176e"/>
<rect x="982.01" y="294.51" width="12.37" height="16.81" fill="#160b39"/>
<rect x="995.63" y="294.51" width="12.37" height="16.81" fill="#420a68"/>
<rect x="1009.24" y="294.51" width="12.37" height="16.81" fill="#932667"/>
<rect x="1022.85" y="294.51" width="12.37" height="16.81" fill="#932667"/>
<rect x="1036.46" y="294.51" width="12.37" height="16.81" fill="#6a176e"/>
<rect x="1050.07" y="294.51" width="12.37" height="16.81" fill="#6a176e"/>
<rect x="1063.68" y="294.51" width="12.37" height="16.81" fill="#420a68"/>
<rect x="1077.3" y="294.51" width="12.37" height="16.81" fill="#6a176e"/>
<rect x="1090.91" y="294.51" width="12.99" height="16.81" fill="#6a176e"/>
<rect x="872.5" y="312.56" width="12.99" height="16.19" fill="#932667"/>
<rect x="886.73" y="312.56" width="12.37" height="16.19" fill="#160b39"/>
<rect x="900.34" y="312.56" width="12.37" height="16.19" fill="#dd513a"/>
<rect x="913.96" y="312.56" width="12.37" height="16.19" fill="#bc3754"/>
<rect x="927.57" y="312.56" width="12.37" height="16.19" fill="#932667"/>
<rect x="941.18" y="312.56" width="12.37" height="16.19" fill="#932667"/>
<rect x="954.79" y="312.56" width="12.37" height="16.19" fill="#420a68"/>
<rect x="968.4" y="312.56" width="12.37" height="16.19" fill="#6a176e"/>
<rect x="982.01" y="312.56" width="12.37" height="16.19" fill="#420a68"/>
<rect x="995.63" y="312.56" width="12.37" height="16.19" fill="#420a68"/>
<rect x="1009.24" y="312.56" width="12.37" height="16.19" fill="#932667"/>
<rect x="1022.85" y="312.56" width="12.37" height="16.19" fill="#6a176e"/>
<rect x="1036.46" y="312.56" width="12.37" height="16.19" fill="#932667"/>
<rect x="1050.07" y="312.56" width="12.37" height="16.19" fill="#932667"/>
<rect x="1063.68" y="312.56" width="12.37" height="16.19" fill="#932667"/>
<rect x="1077.3" y="312.56" width="12.37" height="16.19" fill="#6a176e"/>
<rect x="1090.91" y="312.56" width="12.99" height="16.19" fill="#420a68"/>
<rect x="872.5" y="329.99" width="12.99" height="16.19" fill="#420a68"/>
<rect x="886.73" y="329.99" width="12.37" height="16.19" fill="#6a176e"/>
<rect x="900.34" y="329.99" width="12.37" height="16.19" fill="#932667"/>
<rect x="913.96" y="329.99" width="12.37" height="16.19" fill="#932667"/>
<rect x="927.57" y="329.99" width="12.37" height="16.19" fill="#6a176e"/>
<rect x="941.18" y="329.99" width="12.37" height="16.19" fill="#6a176e"/>
<rect x="954.79" y="329.99" width="12.37" height="16.19" fill="#6a176e"/>
<rect x="968.4" y="329.99" width="12.37" height="16.19" fill="#6a176e"/>
<rect x="982.01" y="329.99" width="12.37" height="16.19" fill="#160b39"/>
<rect x="995.63" y="329.99" width="12.37" height="16.19" fill="#6a176e"/>
<rect x="1009.24" y="329.99" width="12.37" height="16.19" fill="#932667"/>
<rect x="1022.85" y="329.99" width="12.37" height="16.19" fill="#932667"/>
<rect x="1036.46" y="329.99" width="12.37" height="16.19" fill="#932667"/>
<rect x="1050.07" y="329.99" width="12.37" height="16.19" fill="#bc3754"/>
<rect x="1063.68" y="329.99" width="12.37" height="16.19" fill="#6a176e"/>
<rect x="1077.3" y="329.99" width="12.37" height="16.19" fill="#932667"/>
<rect x="1090.91" y="329.99" width="12.99" height="16.19" fill="#6a176e"/>
<rect x="872.5" y="347.42" width="12.99" height="16.81" fill="#fcffa4"/>
<rect x="886.73" y="347.42" width="12.37" height="16.81" fill="#fcffa4"/>
<rect x="900.34" y="347.42" width="12.37" height="16.81" fill="#f37819"/>
<rect x="913.96" y="347.42" width="12.37" height="16.81" fill="#fcffa4"/>
<rect x="927.57" y="347.42" width="12.37" height="16.81" fill="#dd513a"/>
<rect x="941.18" y="347.42" width="12.37" height="16.81" fill="#6a176e"/>
<rect x="954.79" y="347.42" width="12.37" height="16.81" fill="#f37819"/>
<rect x="968.4" y="347.42" width="12.37" height="16.81" fill="#932667"/>
<rect x="982.01" y="347.42" width="12.37" height="16.81" fill="#420a68"/>
<rect x="995.63" y="347.42" width="12.37" height="16.81" fill="#420a68"/>
<rect x="1009.24" y="347.42" width="12.37" height="16.81" fill="#932667"/>
<rect x="1022.85" y="347.42" width="12.37" height="16.81" fill="#6a176e"/>
<rect x="1036.46" y="347.42" width="12.37" height="16.81" fill="#932667"/>
<rect x="1050.07" y="347.42" width="12.37" height="16.81" fill="#bc3754"/>
<rect x="1063.68" y="347.42" width="12.37" height="16.81" fill="#932667"/>
<rect x="1077.3" y="347.42" width="12.37" height="16.81" fill="#420a68"/>
<rect x="1090.91" y="347.42" width="12.99" height="16.81" fill="#fbac13"/>
<rect x="872.5" y="294.51" width="231.4" height="69.72" fill="none" stroke="#1c1c1c" stroke-width="1.3"/>
<rect x="111.8" y="369.28" width="204.6" height="52.29" fill="#f6f0f6"/>
<rect x="111.8" y="369.28" width="13.02" height="16.81" fill="#932667"/>
<rect x="126.06" y="369.28" width="12.4" height="16.81" fill="#bc3754"/>
<rect x="139.7" y="369.28" width="12.4" height="16.81" fill="#bc3754"/>
<rect x="153.34" y="369.28" width="12.4" height="16.81" fill="#6a176e"/>
<rect x="166.98" y="369.28" width="12.4" height="16.81" fill="#bc3754"/>
<rect x="180.62" y="369.28" width="12.4" height="16.81" fill="#420a68"/>
<rect x="194.26" y="369.28" width="12.4" height="16.81" fill="#bc3754"/>
<rect x="207.9" y="369.28" width="12.4" height="16.81" fill="#420a68"/>
<rect x="221.54" y="369.28" width="12.4" height="16.81" fill="#160b39"/>
<rect x="235.18" y="369.28" width="12.4" height="16.81" fill="#160b39"/>
<rect x="248.82" y="369.28" width="12.4" height="16.81" fill="#420a68"/>
<rect x="262.46" y="369.28" width="12.4" height="16.81" fill="#6a176e"/>
<rect x="276.1" y="369.28" width="12.4" height="16.81" fill="#420a68"/>
<rect x="289.74" y="369.28" width="12.4" height="16.81" fill="#420a68"/>
<rect x="303.38" y="369.28" width="13.02" height="16.81" fill="#bc3754"/>
<rect x="111.8" y="387.33" width="13.02" height="16.19" fill="#f8e15e"/>
<rect x="126.06" y="387.33" width="12.4" height="16.19" fill="#fbac13"/>
<rect x="139.7" y="387.33" width="12.4" height="16.19" fill="#f37819"/>
<rect x="153.34" y="387.33" width="12.4" height="16.19" fill="#f8e15e"/>
<rect x="166.98" y="387.33" width="12.4" height="16.19" fill="#f8e15e"/>
<rect x="180.62" y="387.33" width="12.4" height="16.19" fill="#fbac13"/>
<rect x="194.26" y="387.33" width="12.4" height="16.19" fill="#f8e15e"/>
<rect x="207.9" y="387.33" width="12.4" height="16.19" fill="#fcffa4"/>
<rect x="221.54" y="387.33" width="12.4" height="16.19" fill="#f37819"/>
<rect x="235.18" y="387.33" width="12.4" height="16.19" fill="#6a176e"/>
<rect x="248.82" y="387.33" width="12.4" height="16.19" fill="#dd513a"/>
<rect x="262.46" y="387.33" width="12.4" height="16.19" fill="#dd513a"/>
<rect x="276.1" y="387.33" width="12.4" height="16.19" fill="#fbac13"/>
<rect x="289.74" y="387.33" width="12.4" height="16.19" fill="#dd513a"/>
<rect x="303.38" y="387.33" width="13.02" height="16.19" fill="#dd513a"/>
<rect x="111.8" y="404.76" width="13.02" height="16.81" fill="#fbac13"/>
<rect x="126.06" y="404.76" width="12.4" height="16.81" fill="#fbac13"/>
<rect x="139.7" y="404.76" width="12.4" height="16.81" fill="#f37819"/>
<rect x="153.34" y="404.76" width="12.4" height="16.81" fill="#f37819"/>
<rect x="166.98" y="404.76" width="12.4" height="16.81" fill="#dd513a"/>
<rect x="180.62" y="404.76" width="12.4" height="16.81" fill="#fcffa4"/>
<rect x="194.26" y="404.76" width="12.4" height="16.81" fill="#f8e15e"/>
<rect x="207.9" y="404.76" width="12.4" height="16.81" fill="#fcffa4"/>
<rect x="221.54" y="404.76" width="12.4" height="16.81" fill="#f37819"/>
<rect x="235.18" y="404.76" width="12.4" height="16.81" fill="#932667"/>
<rect x="248.82" y="404.76" width="12.4" height="16.81" fill="#f8e15e"/>
<rect x="262.46" y="404.76" width="12.4" height="16.81" fill="#fcffa4"/>
<rect x="276.1" y="404.76" width="12.4" height="16.81" fill="#f37819"/>
<rect x="289.74" y="404.76" width="12.4" height="16.81" fill="#fcffa4"/>
<rect x="303.38" y="404.76" width="13.02" height="16.81" fill="#fbac13"/>
<rect x="111.8" y="369.28" width="204.6" height="52.29" fill="none" stroke="#1c1c1c" stroke-width="1.3"/>
<rect x="321.1" y="369.28" width="68.7" height="52.29" fill="#f6f0f6"/>
<rect x="321.1" y="369.28" width="13.12" height="16.81" fill="#060311"/>
<rect x="335.46" y="369.28" width="12.5" height="16.81" fill="#160b39"/>
<rect x="349.2" y="369.28" width="12.5" height="16.81" fill="#420a68"/>
<rect x="362.94" y="369.28" width="12.5" height="16.81" fill="#160b39"/>
<rect x="376.68" y="369.28" width="13.12" height="16.81" fill="#160b39"/>
<rect x="321.1" y="387.33" width="13.12" height="16.19" fill="#6a176e"/>
<rect x="335.46" y="387.33" width="12.5" height="16.19" fill="#420a68"/>
<rect x="349.2" y="387.33" width="12.5" height="16.19" fill="#420a68"/>
<rect x="362.94" y="387.33" width="12.5" height="16.19" fill="#420a68"/>
<rect x="376.68" y="387.33" width="13.12" height="16.19" fill="#160b39"/>
<rect x="321.1" y="404.76" width="13.12" height="16.81" fill="#6a176e"/>
<rect x="335.46" y="404.76" width="12.5" height="16.81" fill="#420a68"/>
<rect x="349.2" y="404.76" width="12.5" height="16.81" fill="#160b39"/>
<rect x="362.94" y="404.76" width="12.5" height="16.81" fill="#420a68"/>
<rect x="376.68" y="404.76" width="13.12" height="16.81" fill="#160b39"/>
<rect x="321.1" y="369.28" width="68.7" height="52.29" fill="none" stroke="#1c1c1c" stroke-width="1.3"/>
<rect x="394.2" y="369.28" width="123.1" height="52.29" fill="#f6f0f6"/>
<rect x="394.2" y="369.28" width="13.06" height="16.81" fill="#060311"/>
<rect x="408.5" y="369.28" width="12.44" height="16.81" fill="#420a68"/>
<rect x="422.18" y="369.28" width="12.44" height="16.81" fill="#160b39"/>
<rect x="435.85" y="369.28" width="12.44" height="16.81" fill="#160b39"/>
<rect x="449.53" y="369.28" width="12.44" height="16.81" fill="#160b39"/>
<rect x="463.21" y="369.28" width="12.44" height="16.81" fill="#160b39"/>
<rect x="476.89" y="369.28" width="12.44" height="16.81" fill="#160b39"/>
<rect x="490.56" y="369.28" width="12.44" height="16.81" fill="#420a68"/>
<rect x="504.24" y="369.28" width="13.06" height="16.81" fill="#160b39"/>
<rect x="394.2" y="387.33" width="13.06" height="16.19" fill="#060311"/>
<rect x="408.5" y="387.33" width="12.44" height="16.19" fill="#420a68"/>
<rect x="422.18" y="387.33" width="12.44" height="16.19" fill="#420a68"/>
<rect x="435.85" y="387.33" width="12.44" height="16.19" fill="#060311"/>
<rect x="449.53" y="387.33" width="12.44" height="16.19" fill="#160b39"/>
<rect x="463.21" y="387.33" width="12.44" height="16.19" fill="#420a68"/>
<rect x="476.89" y="387.33" width="12.44" height="16.19" fill="#060311"/>
<rect x="490.56" y="387.33" width="12.44" height="16.19" fill="#6a176e"/>
<rect x="504.24" y="387.33" width="13.06" height="16.19" fill="#420a68"/>
<rect x="394.2" y="404.76" width="13.06" height="16.81" fill="#160b39"/>
<rect x="408.5" y="404.76" width="12.44" height="16.81" fill="#160b39"/>
<rect x="422.18" y="404.76" width="12.44" height="16.81" fill="#160b39"/>
<rect x="435.85" y="404.76" width="12.44" height="16.81" fill="#160b39"/>
<rect x="449.53" y="404.76" width="12.44" height="16.81" fill="#060311"/>
<rect x="463.21" y="404.76" width="12.44" height="16.81" fill="#160b39"/>
<rect x="476.89" y="404.76" width="12.44" height="16.81" fill="#060311"/>
<rect x="490.56" y="404.76" width="12.44" height="16.81" fill="#6a176e"/>
<rect x="504.24" y="404.76" width="13.06" height="16.81" fill="#6a176e"/>
<rect x="394.2" y="369.28" width="123.1" height="52.29" fill="none" stroke="#1c1c1c" stroke-width="1.3"/>
<rect x="521.8" y="369.28" width="54.6" height="52.29" fill="#f6f0f6"/>
<rect x="521.8" y="369.28" width="13.03" height="16.81" fill="#6a176e"/>
<rect x="536.07" y="369.28" width="12.41" height="16.81" fill="#420a68"/>
<rect x="549.72" y="369.28" width="12.41" height="16.81" fill="#160b39"/>
<rect x="563.37" y="369.28" width="13.03" height="16.81" fill="#060311"/>
<rect x="521.8" y="387.33" width="13.03" height="16.19" fill="#6a176e"/>
<rect x="536.07" y="387.33" width="12.41" height="16.19" fill="#bc3754"/>
<rect x="549.72" y="387.33" width="12.41" height="16.19" fill="#6a176e"/>
<rect x="563.37" y="387.33" width="13.03" height="16.19" fill="#6a176e"/>
<rect x="521.8" y="404.76" width="13.03" height="16.81" fill="#160b39"/>
<rect x="536.07" y="404.76" width="12.41" height="16.81" fill="#f37819"/>
<rect x="549.72" y="404.76" width="12.41" height="16.81" fill="#932667"/>
<rect x="563.37" y="404.76" width="13.03" height="16.81" fill="#f37819"/>
<rect x="521.8" y="369.28" width="54.6" height="52.29" fill="none" stroke="#1c1c1c" stroke-width="1.3"/>
<rect x="581.1" y="369.28" width="286.4" height="52.29" fill="#f6f0f6"/>
<rect x="581.1" y="369.28" width="13.02" height="16.81" fill="#fcffa4"/>
<rect x="595.36" y="369.28" width="12.4" height="16.81" fill="#bc3754"/>
<rect x="609" y="369.28" width="12.4" height="16.81" fill="#932667"/>
<rect x="622.63" y="369.28" width="12.4" height="16.81" fill="#dd513a"/>
<rect x="636.27" y="369.28" width="12.4" height="16.81" fill="#dd513a"/>
<rect x="649.91" y="369.28" width="12.4" height="16.81" fill="#dd513a"/>
<rect x="663.55" y="369.28" width="12.4" height="16.81" fill="#dd513a"/>
<rect x="677.19" y="369.28" width="12.4" height="16.81" fill="#dd513a"/>
<rect x="690.82" y="369.28" width="12.4" height="16.81" fill="#f37819"/>
<rect x="704.46" y="369.28" width="12.4" height="16.81" fill="#dd513a"/>
<rect x="718.1" y="369.28" width="12.4" height="16.81" fill="#160b39"/>
<rect x="731.74" y="369.28" width="12.4" height="16.81" fill="#6a176e"/>
<rect x="745.38" y="369.28" width="12.4" height="16.81" fill="#420a68"/>
<rect x="759.02" y="369.28" width="12.4" height="16.81" fill="#6a176e"/>
<rect x="772.65" y="369.28" width="12.4" height="16.81" fill="#dd513a"/>
<rect x="786.29" y="369.28" width="12.4" height="16.81" fill="#dd513a"/>
<rect x="799.93" y="369.28" width="12.4" height="16.81" fill="#bc3754"/>
<rect x="813.57" y="369.28" width="12.4" height="16.81" fill="#160b39"/>
<rect x="827.21" y="369.28" width="12.4" height="16.81" fill="#160b39"/>
<rect x="840.84" y="369.28" width="12.4" height="16.81" fill="#060311"/>
<rect x="854.48" y="369.28" width="13.02" height="16.81" fill="#060311"/>
<rect x="581.1" y="387.33" width="13.02" height="16.19" fill="#160b39"/>
<rect x="595.36" y="387.33" width="12.4" height="16.19" fill="#420a68"/>
<rect x="609" y="387.33" width="12.4" height="16.19" fill="#160b39"/>
<rect x="622.63" y="387.33" width="12.4" height="16.19" fill="#060311"/>
<rect x="636.27" y="387.33" width="12.4" height="16.19" fill="#160b39"/>
<rect x="649.91" y="387.33" width="12.4" height="16.19" fill="#160b39"/>
<rect x="663.55" y="387.33" width="12.4" height="16.19" fill="#060311"/>
<rect x="677.19" y="387.33" width="12.4" height="16.19" fill="#060311"/>
<rect x="690.82" y="387.33" width="12.4" height="16.19" fill="#060311"/>
<rect x="704.46" y="387.33" width="12.4" height="16.19" fill="#060311"/>
<rect x="718.1" y="387.33" width="12.4" height="16.19" fill="#060311"/>
<rect x="731.74" y="387.33" width="12.4" height="16.19" fill="#160b39"/>
<rect x="745.38" y="387.33" width="12.4" height="16.19" fill="#420a68"/>
<rect x="759.02" y="387.33" width="12.4" height="16.19" fill="#420a68"/>
<rect x="772.65" y="387.33" width="12.4" height="16.19" fill="#060311"/>
<rect x="786.29" y="387.33" width="12.4" height="16.19" fill="#420a68"/>
<rect x="799.93" y="387.33" width="12.4" height="16.19" fill="#932667"/>
<rect x="813.57" y="387.33" width="12.4" height="16.19" fill="#420a68"/>
<rect x="827.21" y="387.33" width="12.4" height="16.19" fill="#160b39"/>
<rect x="840.84" y="387.33" width="12.4" height="16.19" fill="#060311"/>
<rect x="854.48" y="387.33" width="13.02" height="16.19" fill="#060311"/>
<rect x="581.1" y="404.76" width="13.02" height="16.81" fill="#060311"/>
<rect x="595.36" y="404.76" width="12.4" height="16.81" fill="#420a68"/>
<rect x="609" y="404.76" width="12.4" height="16.81" fill="#160b39"/>
<rect x="622.63" y="404.76" width="12.4" height="16.81" fill="#060311"/>
<rect x="636.27" y="404.76" width="12.4" height="16.81" fill="#420a68"/>
<rect x="649.91" y="404.76" width="12.4" height="16.81" fill="#160b39"/>
<rect x="663.55" y="404.76" width="12.4" height="16.81" fill="#160b39"/>
<rect x="677.19" y="404.76" width="12.4" height="16.81" fill="#160b39"/>
<rect x="690.82" y="404.76" width="12.4" height="16.81" fill="#160b39"/>
<rect x="704.46" y="404.76" width="12.4" height="16.81" fill="#060311"/>
<rect x="718.1" y="404.76" width="12.4" height="16.81" fill="#060311"/>
<rect x="731.74" y="404.76" width="12.4" height="16.81" fill="#160b39"/>
<rect x="745.38" y="404.76" width="12.4" height="16.81" fill="#6a176e"/>
<rect x="759.02" y="404.76" width="12.4" height="16.81" fill="#160b39"/>
<rect x="772.65" y="404.76" width="12.4" height="16.81" fill="#420a68"/>
<rect x="786.29" y="404.76" width="12.4" height="16.81" fill="#dd513a"/>
<rect x="799.93" y="404.76" width="12.4" height="16.81" fill="#160b39"/>
<rect x="813.57" y="404.76" width="12.4" height="16.81" fill="#420a68"/>
<rect x="827.21" y="404.76" width="12.4" height="16.81" fill="#420a68"/>
<rect x="840.84" y="404.76" width="12.4" height="16.81" fill="#060311"/>
<rect x="854.48" y="404.76" width="13.02" height="16.81" fill="#060311"/>
<rect x="581.1" y="369.28" width="286.4" height="52.29" fill="none" stroke="#1c1c1c" stroke-width="1.3"/>
<rect x="872.5" y="369.28" width="231.4" height="52.29" fill="#f6f0f6"/>
<rect x="872.5" y="369.28" width="12.99" height="16.81" fill="#6a176e"/>
<rect x="886.73" y="369.28" width="12.37" height="16.81" fill="#420a68"/>
<rect x="900.34" y="369.28" width="12.37" height="16.81" fill="#f37819"/>
<rect x="913.96" y="369.28" width="12.37" height="16.81" fill="#932667"/>
<rect x="927.57" y="369.28" width="12.37" height="16.81" fill="#f37819"/>
<rect x="941.18" y="369.28" width="12.37" height="16.81" fill="#932667"/>
<rect x="954.79" y="369.28" width="12.37" height="16.81" fill="#6a176e"/>
<rect x="968.4" y="369.28" width="12.37" height="16.81" fill="#420a68"/>
<rect x="982.01" y="369.28" width="12.37" height="16.81" fill="#160b39"/>
<rect x="995.63" y="369.28" width="12.37" height="16.81" fill="#160b39"/>
<rect x="1009.24" y="369.28" width="12.37" height="16.81" fill="#420a68"/>
<rect x="1022.85" y="369.28" width="12.37" height="16.81" fill="#420a68"/>
<rect x="1036.46" y="369.28" width="12.37" height="16.81" fill="#420a68"/>
<rect x="1050.07" y="369.28" width="12.37" height="16.81" fill="#420a68"/>
<rect x="1063.68" y="369.28" width="12.37" height="16.81" fill="#160b39"/>
<rect x="1077.3" y="369.28" width="12.37" height="16.81" fill="#6a176e"/>
<rect x="1090.91" y="369.28" width="12.99" height="16.81" fill="#932667"/>
<rect x="872.5" y="387.33" width="12.99" height="16.19" fill="#420a68"/>
<rect x="886.73" y="387.33" width="12.37" height="16.19" fill="#420a68"/>
<rect x="900.34" y="387.33" width="12.37" height="16.19" fill="#bc3754"/>
<rect x="913.96" y="387.33" width="12.37" height="16.19" fill="#6a176e"/>
<rect x="927.57" y="387.33" width="12.37" height="16.19" fill="#420a68"/>
<rect x="941.18" y="387.33" width="12.37" height="16.19" fill="#932667"/>
<rect x="954.79" y="387.33" width="12.37" height="16.19" fill="#6a176e"/>
<rect x="968.4" y="387.33" width="12.37" height="16.19" fill="#420a68"/>
<rect x="982.01" y="387.33" width="12.37" height="16.19" fill="#6a176e"/>
<rect x="995.63" y="387.33" width="12.37" height="16.19" fill="#6a176e"/>
<rect x="1009.24" y="387.33" width="12.37" height="16.19" fill="#932667"/>
<rect x="1022.85" y="387.33" width="12.37" height="16.19" fill="#932667"/>
<rect x="1036.46" y="387.33" width="12.37" height="16.19" fill="#932667"/>
<rect x="1050.07" y="387.33" width="12.37" height="16.19" fill="#932667"/>
<rect x="1063.68" y="387.33" width="12.37" height="16.19" fill="#bc3754"/>
<rect x="1077.3" y="387.33" width="12.37" height="16.19" fill="#932667"/>
<rect x="1090.91" y="387.33" width="12.99" height="16.19" fill="#160b39"/>
<rect x="872.5" y="404.76" width="12.99" height="16.81" fill="#932667"/>
<rect x="886.73" y="404.76" width="12.37" height="16.81" fill="#6a176e"/>
<rect x="900.34" y="404.76" width="12.37" height="16.81" fill="#6a176e"/>
<rect x="913.96" y="404.76" width="12.37" height="16.81" fill="#f8e15e"/>
<rect x="927.57" y="404.76" width="12.37" height="16.81" fill="#6a176e"/>
<rect x="941.18" y="404.76" width="12.37" height="16.81" fill="#6a176e"/>
<rect x="954.79" y="404.76" width="12.37" height="16.81" fill="#932667"/>
<rect x="968.4" y="404.76" width="12.37" height="16.81" fill="#932667"/>
<rect x="982.01" y="404.76" width="12.37" height="16.81" fill="#420a68"/>
<rect x="995.63" y="404.76" width="12.37" height="16.81" fill="#420a68"/>
<rect x="1009.24" y="404.76" width="12.37" height="16.81" fill="#932667"/>
<rect x="1022.85" y="404.76" width="12.37" height="16.81" fill="#932667"/>
<rect x="1036.46" y="404.76" width="12.37" height="16.81" fill="#6a176e"/>
<rect x="1050.07" y="404.76" width="12.37" height="16.81" fill="#6a176e"/>
<rect x="1063.68" y="404.76" width="12.37" height="16.81" fill="#6a176e"/>
<rect x="1077.3" y="404.76" width="12.37" height="16.81" fill="#6a176e"/>
<rect x="1090.91" y="404.76" width="12.99" height="16.81" fill="#6a176e"/>
<rect x="872.5" y="369.28" width="231.4" height="52.29" fill="none" stroke="#1c1c1c" stroke-width="1.3"/>
<rect x="111.8" y="426.62" width="204.6" height="69.72" fill="#f6f0f6"/>
<rect x="111.8" y="426.62" width="13.02" height="16.81" fill="#bc3754"/>
<rect x="126.06" y="426.62" width="12.4" height="16.81" fill="#dd513a"/>
<rect x="139.7" y="426.62" width="12.4" height="16.81" fill="#6a176e"/>
<rect x="153.34" y="426.62" width="12.4" height="16.81" fill="#160b39"/>
<rect x="166.98" y="426.62" width="12.4" height="16.81" fill="#6a176e"/>
<rect x="180.62" y="426.62" width="12.4" height="16.81" fill="#6a176e"/>
<rect x="194.26" y="426.62" width="12.4" height="16.81" fill="#6a176e"/>
<rect x="207.9" y="426.62" width="12.4" height="16.81" fill="#6a176e"/>
<rect x="221.54" y="426.62" width="12.4" height="16.81" fill="#932667"/>
<rect x="235.18" y="426.62" width="12.4" height="16.81" fill="#420a68"/>
<rect x="248.82" y="426.62" width="12.4" height="16.81" fill="#420a68"/>
<rect x="262.46" y="426.62" width="12.4" height="16.81" fill="#160b39"/>
<rect x="276.1" y="426.62" width="12.4" height="16.81" fill="#420a68"/>
<rect x="289.74" y="426.62" width="12.4" height="16.81" fill="#420a68"/>
<rect x="303.38" y="426.62" width="13.02" height="16.81" fill="#160b39"/>
<rect x="111.8" y="444.67" width="13.02" height="16.19" fill="#f37819"/>
<rect x="126.06" y="444.67" width="12.4" height="16.19" fill="#dd513a"/>
<rect x="139.7" y="444.67" width="12.4" height="16.19" fill="#932667"/>
<rect x="153.34" y="444.67" width="12.4" height="16.19" fill="#420a68"/>
<rect x="166.98" y="444.67" width="12.4" height="16.19" fill="#932667"/>
<rect x="180.62" y="444.67" width="12.4" height="16.19" fill="#420a68"/>
<rect x="194.26" y="444.67" width="12.4" height="16.19" fill="#420a68"/>
<rect x="207.9" y="444.67" width="12.4" height="16.19" fill="#932667"/>
<rect x="221.54" y="444.67" width="12.4" height="16.19" fill="#932667"/>
<rect x="235.18" y="444.67" width="12.4" height="16.19" fill="#420a68"/>
<rect x="248.82" y="444.67" width="12.4" height="16.19" fill="#420a68"/>
<rect x="262.46" y="444.67" width="12.4" height="16.19" fill="#160b39"/>
<rect x="276.1" y="444.67" width="12.4" height="16.19" fill="#932667"/>
<rect x="289.74" y="444.67" width="12.4" height="16.19" fill="#932667"/>
<rect x="303.38" y="444.67" width="13.02" height="16.19" fill="#160b39"/>
<rect x="111.8" y="462.1" width="13.02" height="16.19" fill="#f37819"/>
<rect x="126.06" y="462.1" width="12.4" height="16.19" fill="#f37819"/>
<rect x="139.7" y="462.1" width="12.4" height="16.19" fill="#fbac13"/>
<rect x="153.34" y="462.1" width="12.4" height="16.19" fill="#fbac13"/>
<rect x="166.98" y="462.1" width="12.4" height="16.19" fill="#f37819"/>
<rect x="180.62" y="462.1" width="12.4" height="16.19" fill="#fbac13"/>
<rect x="194.26" y="462.1" width="12.4" height="16.19" fill="#fcffa4"/>
<rect x="207.9" y="462.1" width="12.4" height="16.19" fill="#6a176e"/>
<rect x="221.54" y="462.1" width="12.4" height="16.19" fill="#dd513a"/>
<rect x="235.18" y="462.1" width="12.4" height="16.19" fill="#f37819"/>
<rect x="248.82" y="462.1" width="12.4" height="16.19" fill="#f8e15e"/>
<rect x="262.46" y="462.1" width="12.4" height="16.19" fill="#fbac13"/>
<rect x="276.1" y="462.1" width="12.4" height="16.19" fill="#bc3754"/>
<rect x="289.74" y="462.1" width="12.4" height="16.19" fill="#932667"/>
<rect x="303.38" y="462.1" width="13.02" height="16.19" fill="#dd513a"/>
<rect x="111.8" y="479.53" width="13.02" height="16.81" fill="#fcffa4"/>
<rect x="126.06" y="479.53" width="12.4" height="16.81" fill="#060311"/>
<rect x="139.7" y="479.53" width="12.4" height="16.81" fill="#fbac13"/>
<rect x="153.34" y="479.53" width="12.4" height="16.81" fill="#6a176e"/>
<rect x="166.98" y="479.53" width="12.4" height="16.81" fill="#fbac13"/>
<rect x="180.62" y="479.53" width="12.4" height="16.81" fill="#bc3754"/>
<rect x="194.26" y="479.53" width="12.4" height="16.81" fill="#fcffa4"/>
<rect x="207.9" y="479.53" width="12.4" height="16.81" fill="#f37819"/>
<rect x="221.54" y="479.53" width="12.4" height="16.81" fill="#fcffa4"/>
<rect x="235.18" y="479.53" width="12.4" height="16.81" fill="#fbac13"/>
<rect x="248.82" y="479.53" width="12.4" height="16.81" fill="#dd513a"/>
<rect x="262.46" y="479.53" width="12.4" height="16.81" fill="#f8e15e"/>
<rect x="276.1" y="479.53" width="12.4" height="16.81" fill="#6a176e"/>
<rect x="289.74" y="479.53" width="12.4" height="16.81" fill="#f37819"/>
<rect x="303.38" y="479.53" width="13.02" height="16.81" fill="#932667"/>
<rect x="111.8" y="426.62" width="204.6" height="69.72" fill="none" stroke="#1c1c1c" stroke-width="1.3"/>
<rect x="321.1" y="426.62" width="68.7" height="69.72" fill="#f6f0f6"/>
<rect x="321.1" y="426.62" width="13.12" height="16.81" fill="#932667"/>
<rect x="335.46" y="426.62" width="12.5" height="16.81" fill="#fbac13"/>
<rect x="349.2" y="426.62" width="12.5" height="16.81" fill="#f37819"/>
<rect x="362.94" y="426.62" width="12.5" height="16.81" fill="#bc3754"/>
<rect x="376.68" y="426.62" width="13.12" height="16.81" fill="#932667"/>
<rect x="321.1" y="444.67" width="13.12" height="16.19" fill="#fcffa4"/>
<rect x="335.46" y="444.67" width="12.5" height="16.19" fill="#fcffa4"/>
<rect x="349.2" y="444.67" width="12.5" height="16.19" fill="#f37819"/>
<rect x="362.94" y="444.67" width="12.5" height="16.19" fill="#dd513a"/>
<rect x="376.68" y="444.67" width="13.12" height="16.19" fill="#dd513a"/>
<rect x="321.1" y="462.1" width="13.12" height="16.19" fill="#932667"/>
<rect x="335.46" y="462.1" width="12.5" height="16.19" fill="#932667"/>
<rect x="349.2" y="462.1" width="12.5" height="16.19" fill="#160b39"/>
<rect x="362.94" y="462.1" width="12.5" height="16.19" fill="#6a176e"/>
<rect x="376.68" y="462.1" width="13.12" height="16.19" fill="#420a68"/>
<rect x="321.1" y="479.53" width="13.12" height="16.81" fill="#dd513a"/>
<rect x="335.46" y="479.53" width="12.5" height="16.81" fill="#fbac13"/>
<rect x="349.2" y="479.53" width="12.5" height="16.81" fill="#f8e15e"/>
<rect x="362.94" y="479.53" width="12.5" height="16.81" fill="#f8e15e"/>
<rect x="376.68" y="479.53" width="13.12" height="16.81" fill="#fcffa4"/>
<rect x="321.1" y="426.62" width="68.7" height="69.72" fill="none" stroke="#1c1c1c" stroke-width="1.3"/>
<rect x="394.2" y="426.62" width="123.1" height="69.72" fill="#f6f0f6"/>
<rect x="394.2" y="426.62" width="13.06" height="16.81" fill="#932667"/>
<rect x="408.5" y="426.62" width="12.44" height="16.81" fill="#f37819"/>
<rect x="422.18" y="426.62" width="12.44" height="16.81" fill="#bc3754"/>
<rect x="435.85" y="426.62" width="12.44" height="16.81" fill="#6a176e"/>
<rect x="449.53" y="426.62" width="12.44" height="16.81" fill="#420a68"/>
<rect x="463.21" y="426.62" width="12.44" height="16.81" fill="#160b39"/>
<rect x="476.89" y="426.62" width="12.44" height="16.81" fill="#420a68"/>
<rect x="490.56" y="426.62" width="12.44" height="16.81" fill="#420a68"/>
<rect x="504.24" y="426.62" width="13.06" height="16.81" fill="#160b39"/>
<rect x="394.2" y="444.67" width="13.06" height="16.19" fill="#420a68"/>
<rect x="408.5" y="444.67" width="12.44" height="16.19" fill="#420a68"/>
<rect x="422.18" y="444.67" width="12.44" height="16.19" fill="#932667"/>
<rect x="435.85" y="444.67" width="12.44" height="16.19" fill="#6a176e"/>
<rect x="449.53" y="444.67" width="12.44" height="16.19" fill="#420a68"/>
<rect x="463.21" y="444.67" width="12.44" height="16.19" fill="#932667"/>
<rect x="476.89" y="444.67" width="12.44" height="16.19" fill="#160b39"/>
<rect x="490.56" y="444.67" width="12.44" height="16.19" fill="#420a68"/>
<rect x="504.24" y="444.67" width="13.06" height="16.19" fill="#6a176e"/>
<rect x="394.2" y="462.1" width="13.06" height="16.19" fill="#fcffa4"/>
<rect x="408.5" y="462.1" width="12.44" height="16.19" fill="#fbac13"/>
<rect x="422.18" y="462.1" width="12.44" height="16.19" fill="#bc3754"/>
<rect x="435.85" y="462.1" width="12.44" height="16.19" fill="#932667"/>
<rect x="449.53" y="462.1" width="12.44" height="16.19" fill="#420a68"/>
<rect x="463.21" y="462.1" width="12.44" height="16.19" fill="#160b39"/>
<rect x="476.89" y="462.1" width="12.44" height="16.19" fill="#420a68"/>
<rect x="490.56" y="462.1" width="12.44" height="16.19" fill="#dd513a"/>
<rect x="504.24" y="462.1" width="13.06" height="16.19" fill="#6a176e"/>
<rect x="394.2" y="479.53" width="13.06" height="16.81" fill="#bc3754"/>
<rect x="408.5" y="479.53" width="12.44" height="16.81" fill="#fcffa4"/>
<rect x="422.18" y="479.53" width="12.44" height="16.81" fill="#fcffa4"/>
<rect x="435.85" y="479.53" width="12.44" height="16.81" fill="#fcffa4"/>
<rect x="449.53" y="479.53" width="12.44" height="16.81" fill="#bc3754"/>
<rect x="463.21" y="479.53" width="12.44" height="16.81" fill="#fcffa4"/>
<rect x="476.89" y="479.53" width="12.44" height="16.81" fill="#fcffa4"/>
<rect x="490.56" y="479.53" width="12.44" height="16.81" fill="#fcffa4"/>
<rect x="504.24" y="479.53" width="13.06" height="16.81" fill="#fcffa4"/>
<rect x="394.2" y="426.62" width="123.1" height="69.72" fill="none" stroke="#1c1c1c" stroke-width="1.3"/>
<rect x="521.8" y="426.62" width="54.6" height="69.72" fill="#f6f0f6"/>
<rect x="521.8" y="426.62" width="13.03" height="16.81" fill="#932667"/>
<rect x="536.07" y="426.62" width="12.41" height="16.81" fill="#060311"/>
<rect x="549.72" y="426.62" width="12.41" height="16.81" fill="#420a68"/>
<rect x="563.37" y="426.62" width="13.03" height="16.81" fill="#932667"/>
<rect x="521.8" y="444.67" width="13.03" height="16.19" fill="#932667"/>
<rect x="536.07" y="444.67" width="12.41" height="16.19" fill="#160b39"/>
<rect x="549.72" y="444.67" width="12.41" height="16.19" fill="#160b39"/>
<rect x="563.37" y="444.67" width="13.03" height="16.19" fill="#932667"/>
<rect x="521.8" y="462.1" width="13.03" height="16.19" fill="#dd513a"/>
<rect x="536.07" y="462.1" width="12.41" height="16.19" fill="#160b39"/>
<rect x="549.72" y="462.1" width="12.41" height="16.19" fill="#932667"/>
<rect x="563.37" y="462.1" width="13.03" height="16.19" fill="#6a176e"/>
<rect x="521.8" y="479.53" width="13.03" height="16.81" fill="#f37819"/>
<rect x="536.07" y="479.53" width="12.41" height="16.81" fill="#160b39"/>
<rect x="549.72" y="479.53" width="12.41" height="16.81" fill="#fcffa4"/>
<rect x="563.37" y="479.53" width="13.03" height="16.81" fill="#fcffa4"/>
<rect x="521.8" y="426.62" width="54.6" height="69.72" fill="none" stroke="#1c1c1c" stroke-width="1.3"/>
<rect x="581.1" y="426.62" width="286.4" height="69.72" fill="#f6f0f6"/>
<rect x="581.1" y="426.62" width="13.02" height="16.81" fill="#420a68"/>
<rect x="595.36" y="426.62" width="12.4" height="16.81" fill="#420a68"/>
<rect x="609" y="426.62" width="12.4" height="16.81" fill="#160b39"/>
<rect x="622.63" y="426.62" width="12.4" height="16.81" fill="#160b39"/>
<rect x="636.27" y="426.62" width="12.4" height="16.81" fill="#160b39"/>
<rect x="649.91" y="426.62" width="12.4" height="16.81" fill="#060311"/>
<rect x="663.55" y="426.62" width="12.4" height="16.81" fill="#160b39"/>
<rect x="677.19" y="426.62" width="12.4" height="16.81" fill="#160b39"/>
<rect x="690.82" y="426.62" width="12.4" height="16.81" fill="#160b39"/>
<rect x="704.46" y="426.62" width="12.4" height="16.81" fill="#160b39"/>
<rect x="718.1" y="426.62" width="12.4" height="16.81" fill="#060311"/>
<rect x="731.74" y="426.62" width="12.4" height="16.81" fill="#060311"/>
<rect x="745.38" y="426.62" width="12.4" height="16.81" fill="#160b39"/>
<rect x="759.02" y="426.62" width="12.4" height="16.81" fill="#060311"/>
<rect x="772.65" y="426.62" width="12.4" height="16.81" fill="#420a68"/>
<rect x="786.29" y="426.62" width="12.4" height="16.81" fill="#060311"/>
<rect x="799.93" y="426.62" width="12.4" height="16.81" fill="#060311"/>
<rect x="813.57" y="426.62" width="12.4" height="16.81" fill="#6a176e"/>
<rect x="827.21" y="426.62" width="12.4" height="16.81" fill="#160b39"/>
<rect x="840.84" y="426.62" width="12.4" height="16.81" fill="#160b39"/>
<rect x="854.48" y="426.62" width="13.02" height="16.81" fill="#160b39"/>
<rect x="581.1" y="444.67" width="13.02" height="16.19" fill="#6a176e"/>
<rect x="595.36" y="444.67" width="12.4" height="16.19" fill="#420a68"/>
<rect x="609" y="444.67" width="12.4" height="16.19" fill="#160b39"/>
<rect x="622.63" y="444.67" width="12.4" height="16.19" fill="#160b39"/>
<rect x="636.27" y="444.67" width="12.4" height="16.19" fill="#6a176e"/>
<rect x="649.91" y="444.67" width="12.4" height="16.19" fill="#160b39"/>
<rect x="663.55" y="444.67" width="12.4" height="16.19" fill="#420a68"/>
<rect x="677.19" y="444.67" width="12.4" height="16.19" fill="#420a68"/>
<rect x="690.82" y="444.67" width="12.4" height="16.19" fill="#160b39"/>
<rect x="704.46" y="444.67" width="12.4" height="16.19" fill="#160b39"/>
<rect x="718.1" y="444.67" width="12.4" height="16.19" fill="#060311"/>
<rect x="731.74" y="444.67" width="12.4" height="16.19" fill="#060311"/>
<rect x="745.38" y="444.67" width="12.4" height="16.19" fill="#420a68"/>
<rect x="759.02" y="444.67" width="12.4" height="16.19" fill="#160b39"/>
<rect x="772.65" y="444.67" width="12.4" height="16.19" fill="#420a68"/>
<rect x="786.29" y="444.67" width="12.4" height="16.19" fill="#160b39"/>
<rect x="799.93" y="444.67" width="12.4" height="16.19" fill="#160b39"/>
<rect x="813.57" y="444.67" width="12.4" height="16.19" fill="#fcffa4"/>
<rect x="827.21" y="444.67" width="12.4" height="16.19" fill="#f8e15e"/>
<rect x="840.84" y="444.67" width="12.4" height="16.19" fill="#fcffa4"/>
<rect x="854.48" y="444.67" width="13.02" height="16.19" fill="#fcffa4"/>
<rect x="581.1" y="462.1" width="13.02" height="16.19" fill="#420a68"/>
<rect x="595.36" y="462.1" width="12.4" height="16.19" fill="#932667"/>
<rect x="609" y="462.1" width="12.4" height="16.19" fill="#420a68"/>
<rect x="622.63" y="462.1" width="12.4" height="16.19" fill="#932667"/>
<rect x="636.27" y="462.1" width="12.4" height="16.19" fill="#060311"/>
<rect x="649.91" y="462.1" width="12.4" height="16.19" fill="#060311"/>
<rect x="663.55" y="462.1" width="12.4" height="16.19" fill="#060311"/>
<rect x="677.19" y="462.1" width="12.4" height="16.19" fill="#420a68"/>
<rect x="690.82" y="462.1" width="12.4" height="16.19" fill="#160b39"/>
<rect x="704.46" y="462.1" width="12.4" height="16.19" fill="#060311"/>
<rect x="718.1" y="462.1" width="12.4" height="16.19" fill="#060311"/>
<rect x="731.74" y="462.1" width="12.4" height="16.19" fill="#160b39"/>
<rect x="745.38" y="462.1" width="12.4" height="16.19" fill="#420a68"/>
<rect x="759.02" y="462.1" width="12.4" height="16.19" fill="#160b39"/>
<rect x="772.65" y="462.1" width="12.4" height="16.19" fill="#160b39"/>
<rect x="786.29" y="462.1" width="12.4" height="16.19" fill="#420a68"/>
<rect x="799.93" y="462.1" width="12.4" height="16.19" fill="#060311"/>
<rect x="813.57" y="462.1" width="12.4" height="16.19" fill="#f37819"/>
<rect x="827.21" y="462.1" width="12.4" height="16.19" fill="#6a176e"/>
<rect x="840.84" y="462.1" width="12.4" height="16.19" fill="#060311"/>
<rect x="854.48" y="462.1" width="13.02" height="16.19" fill="#060311"/>
<rect x="581.1" y="479.53" width="13.02" height="16.81" fill="#dd513a"/>
<rect x="595.36" y="479.53" width="12.4" height="16.81" fill="#dd513a"/>
<rect x="609" y="479.53" width="12.4" height="16.81" fill="#160b39"/>
<rect x="622.63" y="479.53" width="12.4" height="16.81" fill="#bc3754"/>
<rect x="636.27" y="479.53" width="12.4" height="16.81" fill="#160b39"/>
<rect x="649.91" y="479.53" width="12.4" height="16.81" fill="#160b39"/>
<rect x="663.55" y="479.53" width="12.4" height="16.81" fill="#420a68"/>
<rect x="677.19" y="479.53" width="12.4" height="16.81" fill="#6a176e"/>
<rect x="690.82" y="479.53" width="12.4" height="16.81" fill="#6a176e"/>
<rect x="704.46" y="479.53" width="12.4" height="16.81" fill="#420a68"/>
<rect x="718.1" y="479.53" width="12.4" height="16.81" fill="#060311"/>
<rect x="731.74" y="479.53" width="12.4" height="16.81" fill="#160b39"/>
<rect x="745.38" y="479.53" width="12.4" height="16.81" fill="#160b39"/>
<rect x="759.02" y="479.53" width="12.4" height="16.81" fill="#160b39"/>
<rect x="772.65" y="479.53" width="12.4" height="16.81" fill="#160b39"/>
<rect x="786.29" y="479.53" width="12.4" height="16.81" fill="#420a68"/>
<rect x="799.93" y="479.53" width="12.4" height="16.81" fill="#160b39"/>
<rect x="813.57" y="479.53" width="12.4" height="16.81" fill="#bc3754"/>
<rect x="827.21" y="479.53" width="12.4" height="16.81" fill="#060311"/>
<rect x="840.84" y="479.53" width="12.4" height="16.81" fill="#160b39"/>
<rect x="854.48" y="479.53" width="13.02" height="16.81" fill="#160b39"/>
<rect x="581.1" y="426.62" width="286.4" height="69.72" fill="none" stroke="#1c1c1c" stroke-width="1.3"/>
<rect x="872.5" y="426.62" width="231.4" height="69.72" fill="#f6f0f6"/>
<rect x="872.5" y="426.62" width="12.99" height="16.81" fill="#160b39"/>
<rect x="886.73" y="426.62" width="12.37" height="16.81" fill="#060311"/>
<rect x="900.34" y="426.62" width="12.37" height="16.81" fill="#060311"/>
<rect x="913.96" y="426.62" width="12.37" height="16.81" fill="#060311"/>
<rect x="927.57" y="426.62" width="12.37" height="16.81" fill="#bc3754"/>
<rect x="941.18" y="426.62" width="12.37" height="16.81" fill="#6a176e"/>
<rect x="954.79" y="426.62" width="12.37" height="16.81" fill="#bc3754"/>
<rect x="968.4" y="426.62" width="12.37" height="16.81" fill="#060311"/>
<rect x="982.01" y="426.62" width="12.37" height="16.81" fill="#420a68"/>
<rect x="995.63" y="426.62" width="12.37" height="16.81" fill="#420a68"/>
<rect x="1009.24" y="426.62" width="12.37" height="16.81" fill="#160b39"/>
<rect x="1022.85" y="426.62" width="12.37" height="16.81" fill="#420a68"/>
<rect x="1036.46" y="426.62" width="12.37" height="16.81" fill="#6a176e"/>
<rect x="1050.07" y="426.62" width="12.37" height="16.81" fill="#932667"/>
<rect x="1063.68" y="426.62" width="12.37" height="16.81" fill="#420a68"/>
<rect x="1077.3" y="426.62" width="12.37" height="16.81" fill="#420a68"/>
<rect x="1090.91" y="426.62" width="12.99" height="16.81" fill="#420a68"/>
<rect x="872.5" y="444.67" width="12.99" height="16.19" fill="#932667"/>
<rect x="886.73" y="444.67" width="12.37" height="16.19" fill="#160b39"/>
<rect x="900.34" y="444.67" width="12.37" height="16.19" fill="#420a68"/>
<rect x="913.96" y="444.67" width="12.37" height="16.19" fill="#6a176e"/>
<rect x="927.57" y="444.67" width="12.37" height="16.19" fill="#bc3754"/>
<rect x="941.18" y="444.67" width="12.37" height="16.19" fill="#bc3754"/>
<rect x="954.79" y="444.67" width="12.37" height="16.19" fill="#fbac13"/>
<rect x="968.4" y="444.67" width="12.37" height="16.19" fill="#420a68"/>
<rect x="982.01" y="444.67" width="12.37" height="16.19" fill="#932667"/>
<rect x="995.63" y="444.67" width="12.37" height="16.19" fill="#932667"/>
<rect x="1009.24" y="444.67" width="12.37" height="16.19" fill="#420a68"/>
<rect x="1022.85" y="444.67" width="12.37" height="16.19" fill="#6a176e"/>
<rect x="1036.46" y="444.67" width="12.37" height="16.19" fill="#932667"/>
<rect x="1050.07" y="444.67" width="12.37" height="16.19" fill="#f37819"/>
<rect x="1063.68" y="444.67" width="12.37" height="16.19" fill="#fbac13"/>
<rect x="1077.3" y="444.67" width="12.37" height="16.19" fill="#dd513a"/>
<rect x="1090.91" y="444.67" width="12.99" height="16.19" fill="#6a176e"/>
<rect x="872.5" y="462.1" width="12.99" height="16.19" fill="#932667"/>
<rect x="886.73" y="462.1" width="12.37" height="16.19" fill="#060311"/>
<rect x="900.34" y="462.1" width="12.37" height="16.19" fill="#160b39"/>
<rect x="913.96" y="462.1" width="12.37" height="16.19" fill="#dd513a"/>
<rect x="927.57" y="462.1" width="12.37" height="16.19" fill="#fcffa4"/>
<rect x="941.18" y="462.1" width="12.37" height="16.19" fill="#fcffa4"/>
<rect x="954.79" y="462.1" width="12.37" height="16.19" fill="#dd513a"/>
<rect x="968.4" y="462.1" width="12.37" height="16.19" fill="#fcffa4"/>
<rect x="982.01" y="462.1" width="12.37" height="16.19" fill="#420a68"/>
<rect x="995.63" y="462.1" width="12.37" height="16.19" fill="#6a176e"/>
<rect x="1009.24" y="462.1" width="12.37" height="16.19" fill="#6a176e"/>
<rect x="1022.85" y="462.1" width="12.37" height="16.19" fill="#6a176e"/>
<rect x="1036.46" y="462.1" width="12.37" height="16.19" fill="#932667"/>
<rect x="1050.07" y="462.1" width="12.37" height="16.19" fill="#bc3754"/>
<rect x="1063.68" y="462.1" width="12.37" height="16.19" fill="#6a176e"/>
<rect x="1077.3" y="462.1" width="12.37" height="16.19" fill="#6a176e"/>
<rect x="1090.91" y="462.1" width="12.99" height="16.19" fill="#060311"/>
<rect x="872.5" y="479.53" width="12.99" height="16.81" fill="#160b39"/>
<rect x="886.73" y="479.53" width="12.37" height="16.81" fill="#160b39"/>
<rect x="900.34" y="479.53" width="12.37" height="16.81" fill="#060311"/>
<rect x="913.96" y="479.53" width="12.37" height="16.81" fill="#060311"/>
<rect x="927.57" y="479.53" width="12.37" height="16.81" fill="#420a68"/>
<rect x="941.18" y="479.53" width="12.37" height="16.81" fill="#bc3754"/>
<rect x="954.79" y="479.53" width="12.37" height="16.81" fill="#6a176e"/>
<rect x="968.4" y="479.53" width="12.37" height="16.81" fill="#160b39"/>
<rect x="982.01" y="479.53" width="12.37" height="16.81" fill="#420a68"/>
<rect x="995.63" y="479.53" width="12.37" height="16.81" fill="#bc3754"/>
<rect x="1009.24" y="479.53" width="12.37" height="16.81" fill="#420a68"/>
<rect x="1022.85" y="479.53" width="12.37" height="16.81" fill="#bc3754"/>
<rect x="1036.46" y="479.53" width="12.37" height="16.81" fill="#fcffa4"/>
<rect x="1050.07" y="479.53" width="12.37" height="16.81" fill="#f37819"/>
<rect x="1063.68" y="479.53" width="12.37" height="16.81" fill="#6a176e"/>
<rect x="1077.3" y="479.53" width="12.37" height="16.81" fill="#060311"/>
<rect x="1090.91" y="479.53" width="12.99" height="16.81" fill="#420a68"/>
<rect x="872.5" y="426.62" width="231.4" height="69.72" fill="none" stroke="#1c1c1c" stroke-width="1.3"/>
<rect x="111.8" y="501.39" width="204.6" height="104.58" fill="#f6f0f6"/>
<rect x="111.8" y="501.39" width="13.02" height="16.81" fill="#f37819"/>
<rect x="126.06" y="501.39" width="12.4" height="16.81" fill="#bc3754"/>
<rect x="139.7" y="501.39" width="12.4" height="16.81" fill="#160b39"/>
<rect x="153.34" y="501.39" width="12.4" height="16.81" fill="#420a68"/>
<rect x="166.98" y="501.39" width="12.4" height="16.81" fill="#420a68"/>
<rect x="180.62" y="501.39" width="12.4" height="16.81" fill="#160b39"/>
<rect x="194.26" y="501.39" width="12.4" height="16.81" fill="#420a68"/>
<rect x="207.9" y="501.39" width="12.4" height="16.81" fill="#932667"/>
<rect x="221.54" y="501.39" width="12.4" height="16.81" fill="#6a176e"/>
<rect x="235.18" y="501.39" width="12.4" height="16.81" fill="#060311"/>
<rect x="248.82" y="501.39" width="12.4" height="16.81" fill="#420a68"/>
<rect x="262.46" y="501.39" width="12.4" height="16.81" fill="#420a68"/>
<rect x="276.1" y="501.39" width="12.4" height="16.81" fill="#6a176e"/>
<rect x="289.74" y="501.39" width="12.4" height="16.81" fill="#160b39"/>
<rect x="303.38" y="501.39" width="13.02" height="16.81" fill="#160b39"/>
<rect x="111.8" y="519.44" width="13.02" height="16.19" fill="#060311"/>
<rect x="126.06" y="519.44" width="12.4" height="16.19" fill="#932667"/>
<rect x="139.7" y="519.44" width="12.4" height="16.19" fill="#bc3754"/>
<rect x="153.34" y="519.44" width="12.4" height="16.19" fill="#6a176e"/>
<rect x="166.98" y="519.44" width="12.4" height="16.19" fill="#6a176e"/>
<rect x="180.62" y="519.44" width="12.4" height="16.19" fill="#932667"/>
<rect x="194.26" y="519.44" width="12.4" height="16.19" fill="#6a176e"/>
<rect x="207.9" y="519.44" width="12.4" height="16.19" fill="#420a68"/>
<rect x="221.54" y="519.44" width="12.4" height="16.19" fill="#160b39"/>
<rect x="235.18" y="519.44" width="12.4" height="16.19" fill="#420a68"/>
<rect x="248.82" y="519.44" width="12.4" height="16.19" fill="#420a68"/>
<rect x="262.46" y="519.44" width="12.4" height="16.19" fill="#160b39"/>
<rect x="276.1" y="519.44" width="12.4" height="16.19" fill="#420a68"/>
<rect x="289.74" y="519.44" width="12.4" height="16.19" fill="#932667"/>
<rect x="303.38" y="519.44" width="13.02" height="16.19" fill="#932667"/>
<rect x="111.8" y="536.87" width="13.02" height="16.19" fill="#dd513a"/>
<rect x="126.06" y="536.87" width="12.4" height="16.19" fill="#bc3754"/>
<rect x="139.7" y="536.87" width="12.4" height="16.19" fill="#bc3754"/>
<rect x="153.34" y="536.87" width="12.4" height="16.19" fill="#932667"/>
<rect x="166.98" y="536.87" width="12.4" height="16.19" fill="#932667"/>
<rect x="180.62" y="536.87" width="12.4" height="16.19" fill="#932667"/>
<rect x="194.26" y="536.87" width="12.4" height="16.19" fill="#6a176e"/>
<rect x="207.9" y="536.87" width="12.4" height="16.19" fill="#6a176e"/>
<rect x="221.54" y="536.87" width="12.4" height="16.19" fill="#160b39"/>
<rect x="235.18" y="536.87" width="12.4" height="16.19" fill="#160b39"/>
<rect x="248.82" y="536.87" width="12.4" height="16.19" fill="#160b39"/>
<rect x="262.46" y="536.87" width="12.4" height="16.19" fill="#bc3754"/>
<rect x="276.1" y="536.87" width="12.4" height="16.19" fill="#6a176e"/>
<rect x="289.74" y="536.87" width="12.4" height="16.19" fill="#6a176e"/>
<rect x="303.38" y="536.87" width="13.02" height="16.19" fill="#bc3754"/>
<rect x="111.8" y="554.3" width="13.02" height="16.19" fill="#932667"/>
<rect x="126.06" y="554.3" width="12.4" height="16.19" fill="#fbac13"/>
<rect x="139.7" y="554.3" width="12.4" height="16.19" fill="#f8e15e"/>
<rect x="153.34" y="554.3" width="12.4" height="16.19" fill="#fbac13"/>
<rect x="166.98" y="554.3" width="12.4" height="16.19" fill="#f37819"/>
<rect x="180.62" y="554.3" width="12.4" height="16.19" fill="#f8e15e"/>
<rect x="194.26" y="554.3" width="12.4" height="16.19" fill="#f8e15e"/>
<rect x="207.9" y="554.3" width="12.4" height="16.19" fill="#dd513a"/>
<rect x="221.54" y="554.3" width="12.4" height="16.19" fill="#f37819"/>
<rect x="235.18" y="554.3" width="12.4" height="16.19" fill="#6a176e"/>
<rect x="248.82" y="554.3" width="12.4" height="16.19" fill="#bc3754"/>
<rect x="262.46" y="554.3" width="12.4" height="16.19" fill="#bc3754"/>
<rect x="276.1" y="554.3" width="12.4" height="16.19" fill="#f37819"/>
<rect x="289.74" y="554.3" width="12.4" height="16.19" fill="#bc3754"/>
<rect x="303.38" y="554.3" width="13.02" height="16.19" fill="#f37819"/>
<rect x="111.8" y="571.73" width="13.02" height="16.19" fill="#f37819"/>
<rect x="126.06" y="571.73" width="12.4" height="16.19" fill="#fcffa4"/>
<rect x="139.7" y="571.73" width="12.4" height="16.19" fill="#f37819"/>
<rect x="153.34" y="571.73" width="12.4" height="16.19" fill="#fcffa4"/>
<rect x="166.98" y="571.73" width="12.4" height="16.19" fill="#fcffa4"/>
<rect x="180.62" y="571.73" width="12.4" height="16.19" fill="#fbac13"/>
<rect x="194.26" y="571.73" width="12.4" height="16.19" fill="#f8e15e"/>
<rect x="207.9" y="571.73" width="12.4" height="16.19" fill="#f8e15e"/>
<rect x="221.54" y="571.73" width="12.4" height="16.19" fill="#f8e15e"/>
<rect x="235.18" y="571.73" width="12.4" height="16.19" fill="#932667"/>
<rect x="248.82" y="571.73" width="12.4" height="16.19" fill="#932667"/>
<rect x="262.46" y="571.73" width="12.4" height="16.19" fill="#420a68"/>
<rect x="276.1" y="571.73" width="12.4" height="16.19" fill="#160b39"/>
<rect x="289.74" y="571.73" width="12.4" height="16.19" fill="#6a176e"/>
<rect x="303.38" y="571.73" width="13.02" height="16.19" fill="#932667"/>
<rect x="111.8" y="589.16" width="13.02" height="16.81" fill="#fcffa4"/>
<rect x="126.06" y="589.16" width="12.4" height="16.81" fill="#dd513a"/>
<rect x="139.7" y="589.16" width="12.4" height="16.81" fill="#fcffa4"/>
<rect x="153.34" y="589.16" width="12.4" height="16.81" fill="#f37819"/>
<rect x="166.98" y="589.16" width="12.4" height="16.81" fill="#fbac13"/>
<rect x="180.62" y="589.16" width="12.4" height="16.81" fill="#420a68"/>
<rect x="194.26" y="589.16" width="12.4" height="16.81" fill="#bc3754"/>
<rect x="207.9" y="589.16" width="12.4" height="16.81" fill="#f37819"/>
<rect x="221.54" y="589.16" width="12.4" height="16.81" fill="#420a68"/>
<rect x="235.18" y="589.16" width="12.4" height="16.81" fill="#420a68"/>
<rect x="248.82" y="589.16" width="12.4" height="16.81" fill="#160b39"/>
<rect x="262.46" y="589.16" width="12.4" height="16.81" fill="#6a176e"/>
<rect x="276.1" y="589.16" width="12.4" height="16.81" fill="#6a176e"/>
<rect x="289.74" y="589.16" width="12.4" height="16.81" fill="#dd513a"/>
<rect x="303.38" y="589.16" width="13.02" height="16.81" fill="#932667"/>
<rect x="111.8" y="501.39" width="204.6" height="104.58" fill="none" stroke="#1c1c1c" stroke-width="1.3"/>
<rect x="321.1" y="501.39" width="68.7" height="104.58" fill="#f6f0f6"/>
<rect x="321.1" y="501.39" width="13.12" height="16.81" fill="#160b39"/>
<rect x="335.46" y="501.39" width="12.5" height="16.81" fill="#bc3754"/>
<rect x="349.2" y="501.39" width="12.5" height="16.81" fill="#fcffa4"/>
<rect x="362.94" y="501.39" width="12.5" height="16.81" fill="#bc3754"/>
<rect x="376.68" y="501.39" width="13.12" height="16.81" fill="#932667"/>
<rect x="321.1" y="519.44" width="13.12" height="16.19" fill="#060311"/>
<rect x="335.46" y="519.44" width="12.5" height="16.19" fill="#060311"/>
<rect x="349.2" y="519.44" width="12.5" height="16.19" fill="#160b39"/>
<rect x="362.94" y="519.44" width="12.5" height="16.19" fill="#060311"/>
<rect x="376.68" y="519.44" width="13.12" height="16.19" fill="#160b39"/>
<rect x="321.1" y="536.87" width="13.12" height="16.19" fill="#160b39"/>
<rect x="335.46" y="536.87" width="12.5" height="16.19" fill="#420a68"/>
<rect x="349.2" y="536.87" width="12.5" height="16.19" fill="#160b39"/>
<rect x="362.94" y="536.87" width="12.5" height="16.19" fill="#160b39"/>
<rect x="376.68" y="536.87" width="13.12" height="16.19" fill="#160b39"/>
<rect x="321.1" y="554.3" width="13.12" height="16.19" fill="#6a176e"/>
<rect x="335.46" y="554.3" width="12.5" height="16.19" fill="#160b39"/>
<rect x="349.2" y="554.3" width="12.5" height="16.19" fill="#160b39"/>
<rect x="362.94" y="554.3" width="12.5" height="16.19" fill="#420a68"/>
<rect x="376.68" y="554.3" width="13.12" height="16.19" fill="#160b39"/>
<rect x="321.1" y="571.73" width="13.12" height="16.19" fill="#fbac13"/>
<rect x="335.46" y="571.73" width="12.5" height="16.19" fill="#f8e15e"/>
<rect x="349.2" y="571.73" width="12.5" height="16.19" fill="#420a68"/>
<rect x="362.94" y="571.73" width="12.5" height="16.19" fill="#932667"/>
<rect x="376.68" y="571.73" width="13.12" height="16.19" fill="#420a68"/>
<rect x="321.1" y="589.16" width="13.12" height="16.81" fill="#6a176e"/>
<rect x="335.46" y="589.16" width="12.5" height="16.81" fill="#dd513a"/>
<rect x="349.2" y="589.16" width="12.5" height="16.81" fill="#160b39"/>
<rect x="362.94" y="589.16" width="12.5" height="16.81" fill="#6a176e"/>
<rect x="376.68" y="589.16" width="13.12" height="16.81" fill="#160b39"/>
<rect x="321.1" y="501.39" width="68.7" height="104.58" fill="none" stroke="#1c1c1c" stroke-width="1.3"/>
<rect x="394.2" y="501.39" width="123.1" height="104.58" fill="#f6f0f6"/>
<rect x="394.2" y="501.39" width="13.06" height="16.81" fill="#160b39"/>
<rect x="408.5" y="501.39" width="12.44" height="16.81" fill="#160b39"/>
<rect x="422.18" y="501.39" width="12.44" height="16.81" fill="#420a68"/>
<rect x="435.85" y="501.39" width="12.44" height="16.81" fill="#6a176e"/>
<rect x="449.53" y="501.39" width="12.44" height="16.81" fill="#420a68"/>
<rect x="463.21" y="501.39" width="12.44" height="16.81" fill="#f37819"/>
<rect x="476.89" y="501.39" width="12.44" height="16.81" fill="#420a68"/>
<rect x="490.56" y="501.39" width="12.44" height="16.81" fill="#420a68"/>
<rect x="504.24" y="501.39" width="13.06" height="16.81" fill="#160b39"/>
<rect x="394.2" y="519.44" width="13.06" height="16.19" fill="#060311"/>
<rect x="408.5" y="519.44" width="12.44" height="16.19" fill="#160b39"/>
<rect x="422.18" y="519.44" width="12.44" height="16.19" fill="#060311"/>
<rect x="435.85" y="519.44" width="12.44" height="16.19" fill="#160b39"/>
<rect x="449.53" y="519.44" width="12.44" height="16.19" fill="#060311"/>
<rect x="463.21" y="519.44" width="12.44" height="16.19" fill="#060311"/>
<rect x="476.89" y="519.44" width="12.44" height="16.19" fill="#160b39"/>
<rect x="490.56" y="519.44" width="12.44" height="16.19" fill="#420a68"/>
<rect x="504.24" y="519.44" width="13.06" height="16.19" fill="#160b39"/>
<rect x="394.2" y="536.87" width="13.06" height="16.19" fill="#160b39"/>
<rect x="408.5" y="536.87" width="12.44" height="16.19" fill="#420a68"/>
<rect x="422.18" y="536.87" width="12.44" height="16.19" fill="#160b39"/>
<rect x="435.85" y="536.87" width="12.44" height="16.19" fill="#160b39"/>
<rect x="449.53" y="536.87" width="12.44" height="16.19" fill="#160b39"/>
<rect x="463.21" y="536.87" width="12.44" height="16.19" fill="#160b39"/>
<rect x="476.89" y="536.87" width="12.44" height="16.19" fill="#932667"/>
<rect x="490.56" y="536.87" width="12.44" height="16.19" fill="#420a68"/>
<rect x="504.24" y="536.87" width="13.06" height="16.19" fill="#160b39"/>
<rect x="394.2" y="554.3" width="13.06" height="16.19" fill="#160b39"/>
<rect x="408.5" y="554.3" width="12.44" height="16.19" fill="#160b39"/>
<rect x="422.18" y="554.3" width="12.44" height="16.19" fill="#160b39"/>
<rect x="435.85" y="554.3" width="12.44" height="16.19" fill="#160b39"/>
<rect x="449.53" y="554.3" width="12.44" height="16.19" fill="#160b39"/>
<rect x="463.21" y="554.3" width="12.44" height="16.19" fill="#060311"/>
<rect x="476.89" y="554.3" width="12.44" height="16.19" fill="#060311"/>
<rect x="490.56" y="554.3" width="12.44" height="16.19" fill="#6a176e"/>
<rect x="504.24" y="554.3" width="13.06" height="16.19" fill="#6a176e"/>
<rect x="394.2" y="571.73" width="13.06" height="16.19" fill="#dd513a"/>
<rect x="408.5" y="571.73" width="12.44" height="16.19" fill="#f37819"/>
<rect x="422.18" y="571.73" width="12.44" height="16.19" fill="#fbac13"/>
<rect x="435.85" y="571.73" width="12.44" height="16.19" fill="#dd513a"/>
<rect x="449.53" y="571.73" width="12.44" height="16.19" fill="#160b39"/>
<rect x="463.21" y="571.73" width="12.44" height="16.19" fill="#f37819"/>
<rect x="476.89" y="571.73" width="12.44" height="16.19" fill="#160b39"/>
<rect x="490.56" y="571.73" width="12.44" height="16.19" fill="#6a176e"/>
<rect x="504.24" y="571.73" width="13.06" height="16.19" fill="#420a68"/>
<rect x="394.2" y="589.16" width="13.06" height="16.81" fill="#160b39"/>
<rect x="408.5" y="589.16" width="12.44" height="16.81" fill="#420a68"/>
<rect x="422.18" y="589.16" width="12.44" height="16.81" fill="#6a176e"/>
<rect x="435.85" y="589.16" width="12.44" height="16.81" fill="#420a68"/>
<rect x="449.53" y="589.16" width="12.44" height="16.81" fill="#420a68"/>
<rect x="463.21" y="589.16" width="12.44" height="16.81" fill="#932667"/>
<rect x="476.89" y="589.16" width="12.44" height="16.81" fill="#932667"/>
<rect x="490.56" y="589.16" width="12.44" height="16.81" fill="#932667"/>
<rect x="504.24" y="589.16" width="13.06" height="16.81" fill="#420a68"/>
<rect x="394.2" y="501.39" width="123.1" height="104.58" fill="none" stroke="#1c1c1c" stroke-width="1.3"/>
<rect x="521.8" y="501.39" width="54.6" height="104.58" fill="#f6f0f6"/>
<rect x="521.8" y="501.39" width="13.03" height="16.81" fill="#6a176e"/>
<rect x="536.07" y="501.39" width="12.41" height="16.81" fill="#fcffa4"/>
<rect x="549.72" y="501.39" width="12.41" height="16.81" fill="#bc3754"/>
<rect x="563.37" y="501.39" width="13.03" height="16.81" fill="#dd513a"/>
<rect x="521.8" y="519.44" width="13.03" height="16.19" fill="#6a176e"/>
<rect x="536.07" y="519.44" width="12.41" height="16.19" fill="#6a176e"/>
<rect x="549.72" y="519.44" width="12.41" height="16.19" fill="#160b39"/>
<rect x="563.37" y="519.44" width="13.03" height="16.19" fill="#060311"/>
<rect x="521.8" y="536.87" width="13.03" height="16.19" fill="#160b39"/>
<rect x="536.07" y="536.87" width="12.41" height="16.19" fill="#420a68"/>
<rect x="549.72" y="536.87" width="12.41" height="16.19" fill="#160b39"/>
<rect x="563.37" y="536.87" width="13.03" height="16.19" fill="#160b39"/>
<rect x="521.8" y="554.3" width="13.03" height="16.19" fill="#f8e15e"/>
<rect x="536.07" y="554.3" width="12.41" height="16.19" fill="#6a176e"/>
<rect x="549.72" y="554.3" width="12.41" height="16.19" fill="#6a176e"/>
<rect x="563.37" y="554.3" width="13.03" height="16.19" fill="#6a176e"/>
<rect x="521.8" y="571.73" width="13.03" height="16.19" fill="#6a176e"/>
<rect x="536.07" y="571.73" width="12.41" height="16.19" fill="#160b39"/>
<rect x="549.72" y="571.73" width="12.41" height="16.19" fill="#bc3754"/>
<rect x="563.37" y="571.73" width="13.03" height="16.19" fill="#6a176e"/>
<rect x="521.8" y="589.16" width="13.03" height="16.81" fill="#f37819"/>
<rect x="536.07" y="589.16" width="12.41" height="16.81" fill="#6a176e"/>
<rect x="549.72" y="589.16" width="12.41" height="16.81" fill="#060311"/>
<rect x="563.37" y="589.16" width="13.03" height="16.81" fill="#420a68"/>
<rect x="521.8" y="501.39" width="54.6" height="104.58" fill="none" stroke="#1c1c1c" stroke-width="1.3"/>
<rect x="581.1" y="501.39" width="286.4" height="104.58" fill="#f6f0f6"/>
<rect x="581.1" y="501.39" width="13.02" height="16.81" fill="#6a176e"/>
<rect x="595.36" y="501.39" width="12.4" height="16.81" fill="#160b39"/>
<rect x="609" y="501.39" width="12.4" height="16.81" fill="#420a68"/>
<rect x="622.63" y="501.39" width="12.4" height="16.81" fill="#bc3754"/>
<rect x="636.27" y="501.39" width="12.4" height="16.81" fill="#bc3754"/>
<rect x="649.91" y="501.39" width="12.4" height="16.81" fill="#932667"/>
<rect x="663.55" y="501.39" width="12.4" height="16.81" fill="#bc3754"/>
<rect x="677.19" y="501.39" width="12.4" height="16.81" fill="#dd513a"/>
<rect x="690.82" y="501.39" width="12.4" height="16.81" fill="#f37819"/>
<rect x="704.46" y="501.39" width="12.4" height="16.81" fill="#dd513a"/>
<rect x="718.1" y="501.39" width="12.4" height="16.81" fill="#060311"/>
<rect x="731.74" y="501.39" width="12.4" height="16.81" fill="#160b39"/>
<rect x="745.38" y="501.39" width="12.4" height="16.81" fill="#160b39"/>
<rect x="759.02" y="501.39" width="12.4" height="16.81" fill="#160b39"/>
<rect x="772.65" y="501.39" width="12.4" height="16.81" fill="#060311"/>
<rect x="786.29" y="501.39" width="12.4" height="16.81" fill="#160b39"/>
<rect x="799.93" y="501.39" width="12.4" height="16.81" fill="#160b39"/>
<rect x="813.57" y="501.39" width="12.4" height="16.81" fill="#160b39"/>
<rect x="827.21" y="501.39" width="12.4" height="16.81" fill="#060311"/>
<rect x="840.84" y="501.39" width="12.4" height="16.81" fill="#160b39"/>
<rect x="854.48" y="501.39" width="13.02" height="16.81" fill="#160b39"/>
<rect x="581.1" y="519.44" width="13.02" height="16.19" fill="#160b39"/>
<rect x="595.36" y="519.44" width="12.4" height="16.19" fill="#420a68"/>
<rect x="609" y="519.44" width="12.4" height="16.19" fill="#6a176e"/>
<rect x="622.63" y="519.44" width="12.4" height="16.19" fill="#6a176e"/>
<rect x="636.27" y="519.44" width="12.4" height="16.19" fill="#6a176e"/>
<rect x="649.91" y="519.44" width="12.4" height="16.19" fill="#932667"/>
<rect x="663.55" y="519.44" width="12.4" height="16.19" fill="#6a176e"/>
<rect x="677.19" y="519.44" width="12.4" height="16.19" fill="#6a176e"/>
<rect x="690.82" y="519.44" width="12.4" height="16.19" fill="#932667"/>
<rect x="704.46" y="519.44" width="12.4" height="16.19" fill="#6a176e"/>
<rect x="718.1" y="519.44" width="12.4" height="16.19" fill="#420a68"/>
<rect x="731.74" y="519.44" width="12.4" height="16.19" fill="#420a68"/>
<rect x="745.38" y="519.44" width="12.4" height="16.19" fill="#160b39"/>
<rect x="759.02" y="519.44" width="12.4" height="16.19" fill="#160b39"/>
<rect x="772.65" y="519.44" width="12.4" height="16.19" fill="#f37819"/>
<rect x="786.29" y="519.44" width="12.4" height="16.19" fill="#dd513a"/>
<rect x="799.93" y="519.44" width="12.4" height="16.19" fill="#932667"/>
<rect x="813.57" y="519.44" width="12.4" height="16.19" fill="#420a68"/>
<rect x="827.21" y="519.44" width="12.4" height="16.19" fill="#6a176e"/>
<rect x="840.84" y="519.44" width="12.4" height="16.19" fill="#060311"/>
<rect x="854.48" y="519.44" width="13.02" height="16.19" fill="#060311"/>
<rect x="581.1" y="536.87" width="13.02" height="16.19" fill="#420a68"/>
<rect x="595.36" y="536.87" width="12.4" height="16.19" fill="#420a68"/>
<rect x="609" y="536.87" width="12.4" height="16.19" fill="#6a176e"/>
<rect x="622.63" y="536.87" width="12.4" height="16.19" fill="#fbac13"/>
<rect x="636.27" y="536.87" width="12.4" height="16.19" fill="#f8e15e"/>
<rect x="649.91" y="536.87" width="12.4" height="16.19" fill="#fbac13"/>
<rect x="663.55" y="536.87" width="12.4" height="16.19" fill="#fcffa4"/>
<rect x="677.19" y="536.87" width="12.4" height="16.19" fill="#fbac13"/>
<rect x="690.82" y="536.87" width="12.4" height="16.19" fill="#fcffa4"/>
<rect x="704.46" y="536.87" width="12.4" height="16.19" fill="#fcffa4"/>
<rect x="718.1" y="536.87" width="12.4" height="16.19" fill="#bc3754"/>
<rect x="731.74" y="536.87" width="12.4" height="16.19" fill="#6a176e"/>
<rect x="745.38" y="536.87" width="12.4" height="16.19" fill="#932667"/>
<rect x="759.02" y="536.87" width="12.4" height="16.19" fill="#420a68"/>
<rect x="772.65" y="536.87" width="12.4" height="16.19" fill="#f8e15e"/>
<rect x="786.29" y="536.87" width="12.4" height="16.19" fill="#dd513a"/>
<rect x="799.93" y="536.87" width="12.4" height="16.19" fill="#932667"/>
<rect x="813.57" y="536.87" width="12.4" height="16.19" fill="#bc3754"/>
<rect x="827.21" y="536.87" width="12.4" height="16.19" fill="#f37819"/>
<rect x="840.84" y="536.87" width="12.4" height="16.19" fill="#060311"/>
<rect x="854.48" y="536.87" width="13.02" height="16.19" fill="#060311"/>
<rect x="581.1" y="554.3" width="13.02" height="16.19" fill="#160b39"/>
<rect x="595.36" y="554.3" width="12.4" height="16.19" fill="#420a68"/>
<rect x="609" y="554.3" width="12.4" height="16.19" fill="#160b39"/>
<rect x="622.63" y="554.3" width="12.4" height="16.19" fill="#6a176e"/>
<rect x="636.27" y="554.3" width="12.4" height="16.19" fill="#6a176e"/>
<rect x="649.91" y="554.3" width="12.4" height="16.19" fill="#160b39"/>
<rect x="663.55" y="554.3" width="12.4" height="16.19" fill="#160b39"/>
<rect x="677.19" y="554.3" width="12.4" height="16.19" fill="#420a68"/>
<rect x="690.82" y="554.3" width="12.4" height="16.19" fill="#160b39"/>
<rect x="704.46" y="554.3" width="12.4" height="16.19" fill="#160b39"/>
<rect x="718.1" y="554.3" width="12.4" height="16.19" fill="#060311"/>
<rect x="731.74" y="554.3" width="12.4" height="16.19" fill="#420a68"/>
<rect x="745.38" y="554.3" width="12.4" height="16.19" fill="#420a68"/>
<rect x="759.02" y="554.3" width="12.4" height="16.19" fill="#160b39"/>
<rect x="772.65" y="554.3" width="12.4" height="16.19" fill="#420a68"/>
<rect x="786.29" y="554.3" width="12.4" height="16.19" fill="#bc3754"/>
<rect x="799.93" y="554.3" width="12.4" height="16.19" fill="#160b39"/>
<rect x="813.57" y="554.3" width="12.4" height="16.19" fill="#420a68"/>
<rect x="827.21" y="554.3" width="12.4" height="16.19" fill="#420a68"/>
<rect x="840.84" y="554.3" width="12.4" height="16.19" fill="#6a176e"/>
<rect x="854.48" y="554.3" width="13.02" height="16.19" fill="#6a176e"/>
<rect x="581.1" y="571.73" width="13.02" height="16.19" fill="#fbac13"/>
<rect x="595.36" y="571.73" width="12.4" height="16.19" fill="#932667"/>
<rect x="609" y="571.73" width="12.4" height="16.19" fill="#bc3754"/>
<rect x="622.63" y="571.73" width="12.4" height="16.19" fill="#060311"/>
<rect x="636.27" y="571.73" width="12.4" height="16.19" fill="#160b39"/>
<rect x="649.91" y="571.73" width="12.4" height="16.19" fill="#060311"/>
<rect x="663.55" y="571.73" width="12.4" height="16.19" fill="#160b39"/>
<rect x="677.19" y="571.73" width="12.4" height="16.19" fill="#160b39"/>
<rect x="690.82" y="571.73" width="12.4" height="16.19" fill="#060311"/>
<rect x="704.46" y="571.73" width="12.4" height="16.19" fill="#060311"/>
<rect x="718.1" y="571.73" width="12.4" height="16.19" fill="#060311"/>
<rect x="731.74" y="571.73" width="12.4" height="16.19" fill="#060311"/>
<rect x="745.38" y="571.73" width="12.4" height="16.19" fill="#6a176e"/>
<rect x="759.02" y="571.73" width="12.4" height="16.19" fill="#160b39"/>
<rect x="772.65" y="571.73" width="12.4" height="16.19" fill="#160b39"/>
<rect x="786.29" y="571.73" width="12.4" height="16.19" fill="#6a176e"/>
<rect x="799.93" y="571.73" width="12.4" height="16.19" fill="#160b39"/>
<rect x="813.57" y="571.73" width="12.4" height="16.19" fill="#bc3754"/>
<rect x="827.21" y="571.73" width="12.4" height="16.19" fill="#060311"/>
<rect x="840.84" y="571.73" width="12.4" height="16.19" fill="#160b39"/>
<rect x="854.48" y="571.73" width="13.02" height="16.19" fill="#160b39"/>
<rect x="581.1" y="589.16" width="13.02" height="16.81" fill="#dd513a"/>
<rect x="595.36" y="589.16" width="12.4" height="16.81" fill="#fcffa4"/>
<rect x="609" y="589.16" width="12.4" height="16.81" fill="#fcffa4"/>
<rect x="622.63" y="589.16" width="12.4" height="16.81" fill="#fcffa4"/>
<rect x="636.27" y="589.16" width="12.4" height="16.81" fill="#fcffa4"/>
<rect x="649.91" y="589.16" width="12.4" height="16.81" fill="#fcffa4"/>
<rect x="663.55" y="589.16" width="12.4" height="16.81" fill="#f37819"/>
<rect x="677.19" y="589.16" width="12.4" height="16.81" fill="#fcffa4"/>
<rect x="690.82" y="589.16" width="12.4" height="16.81" fill="#f8e15e"/>
<rect x="704.46" y="589.16" width="12.4" height="16.81" fill="#fbac13"/>
<rect x="718.1" y="589.16" width="12.4" height="16.81" fill="#fcffa4"/>
<rect x="731.74" y="589.16" width="12.4" height="16.81" fill="#fcffa4"/>
<rect x="745.38" y="589.16" width="12.4" height="16.81" fill="#fcffa4"/>
<rect x="759.02" y="589.16" width="12.4" height="16.81" fill="#fcffa4"/>
<rect x="772.65" y="589.16" width="12.4" height="16.81" fill="#fcffa4"/>
<rect x="786.29" y="589.16" width="12.4" height="16.81" fill="#fcffa4"/>
<rect x="799.93" y="589.16" width="12.4" height="16.81" fill="#fcffa4"/>
<rect x="813.57" y="589.16" width="12.4" height="16.81" fill="#f8e15e"/>
<rect x="827.21" y="589.16" width="12.4" height="16.81" fill="#fcffa4"/>
<rect x="840.84" y="589.16" width="12.4" height="16.81" fill="#060311"/>
<rect x="854.48" y="589.16" width="13.02" height="16.81" fill="#060311"/>
<rect x="581.1" y="501.39" width="286.4" height="104.58" fill="none" stroke="#1c1c1c" stroke-width="1.3"/>
<rect x="872.5" y="501.39" width="231.4" height="104.58" fill="#f6f0f6"/>
<rect x="872.5" y="501.39" width="12.99" height="16.81" fill="#060311"/>
<rect x="886.73" y="501.39" width="12.37" height="16.81" fill="#160b39"/>
<rect x="900.34" y="501.39" width="12.37" height="16.81" fill="#160b39"/>
<rect x="913.96" y="501.39" width="12.37" height="16.81" fill="#160b39"/>
<rect x="927.57" y="501.39" width="12.37" height="16.81" fill="#160b39"/>
<rect x="941.18" y="501.39" width="12.37" height="16.81" fill="#420a68"/>
<rect x="954.79" y="501.39" width="12.37" height="16.81" fill="#420a68"/>
<rect x="968.4" y="501.39" width="12.37" height="16.81" fill="#060311"/>
<rect x="982.01" y="501.39" width="12.37" height="16.81" fill="#160b39"/>
<rect x="995.63" y="501.39" width="12.37" height="16.81" fill="#420a68"/>
<rect x="1009.24" y="501.39" width="12.37" height="16.81" fill="#160b39"/>
<rect x="1022.85" y="501.39" width="12.37" height="16.81" fill="#6a176e"/>
<rect x="1036.46" y="501.39" width="12.37" height="16.81" fill="#420a68"/>
<rect x="1050.07" y="501.39" width="12.37" height="16.81" fill="#bc3754"/>
<rect x="1063.68" y="501.39" width="12.37" height="16.81" fill="#fcffa4"/>
<rect x="1077.3" y="501.39" width="12.37" height="16.81" fill="#6a176e"/>
<rect x="1090.91" y="501.39" width="12.99" height="16.81" fill="#dd513a"/>
<rect x="872.5" y="519.44" width="12.99" height="16.19" fill="#6a176e"/>
<rect x="886.73" y="519.44" width="12.37" height="16.19" fill="#160b39"/>
<rect x="900.34" y="519.44" width="12.37" height="16.19" fill="#dd513a"/>
<rect x="913.96" y="519.44" width="12.37" height="16.19" fill="#bc3754"/>
<rect x="927.57" y="519.44" width="12.37" height="16.19" fill="#060311"/>
<rect x="941.18" y="519.44" width="12.37" height="16.19" fill="#420a68"/>
<rect x="954.79" y="519.44" width="12.37" height="16.19" fill="#160b39"/>
<rect x="968.4" y="519.44" width="12.37" height="16.19" fill="#160b39"/>
<rect x="982.01" y="519.44" width="12.37" height="16.19" fill="#420a68"/>
<rect x="995.63" y="519.44" width="12.37" height="16.19" fill="#160b39"/>
<rect x="1009.24" y="519.44" width="12.37" height="16.19" fill="#420a68"/>
<rect x="1022.85" y="519.44" width="12.37" height="16.19" fill="#420a68"/>
<rect x="1036.46" y="519.44" width="12.37" height="16.19" fill="#420a68"/>
<rect x="1050.07" y="519.44" width="12.37" height="16.19" fill="#420a68"/>
<rect x="1063.68" y="519.44" width="12.37" height="16.19" fill="#160b39"/>
<rect x="1077.3" y="519.44" width="12.37" height="16.19" fill="#6a176e"/>
<rect x="1090.91" y="519.44" width="12.99" height="16.19" fill="#6a176e"/>
<rect x="872.5" y="536.87" width="12.99" height="16.19" fill="#932667"/>
<rect x="886.73" y="536.87" width="12.37" height="16.19" fill="#160b39"/>
<rect x="900.34" y="536.87" width="12.37" height="16.19" fill="#dd513a"/>
<rect x="913.96" y="536.87" width="12.37" height="16.19" fill="#bc3754"/>
<rect x="927.57" y="536.87" width="12.37" height="16.19" fill="#420a68"/>
<rect x="941.18" y="536.87" width="12.37" height="16.19" fill="#6a176e"/>
<rect x="954.79" y="536.87" width="12.37" height="16.19" fill="#420a68"/>
<rect x="968.4" y="536.87" width="12.37" height="16.19" fill="#420a68"/>
<rect x="982.01" y="536.87" width="12.37" height="16.19" fill="#160b39"/>
<rect x="995.63" y="536.87" width="12.37" height="16.19" fill="#420a68"/>
<rect x="1009.24" y="536.87" width="12.37" height="16.19" fill="#420a68"/>
<rect x="1022.85" y="536.87" width="12.37" height="16.19" fill="#dd513a"/>
<rect x="1036.46" y="536.87" width="12.37" height="16.19" fill="#6a176e"/>
<rect x="1050.07" y="536.87" width="12.37" height="16.19" fill="#6a176e"/>
<rect x="1063.68" y="536.87" width="12.37" height="16.19" fill="#6a176e"/>
<rect x="1077.3" y="536.87" width="12.37" height="16.19" fill="#fbac13"/>
<rect x="1090.91" y="536.87" width="12.99" height="16.19" fill="#f37819"/>
<rect x="872.5" y="554.3" width="12.99" height="16.19" fill="#bc3754"/>
<rect x="886.73" y="554.3" width="12.37" height="16.19" fill="#6a176e"/>
<rect x="900.34" y="554.3" width="12.37" height="16.19" fill="#bc3754"/>
<rect x="913.96" y="554.3" width="12.37" height="16.19" fill="#fbac13"/>
<rect x="927.57" y="554.3" width="12.37" height="16.19" fill="#160b39"/>
<rect x="941.18" y="554.3" width="12.37" height="16.19" fill="#bc3754"/>
<rect x="954.79" y="554.3" width="12.37" height="16.19" fill="#932667"/>
<rect x="968.4" y="554.3" width="12.37" height="16.19" fill="#6a176e"/>
<rect x="982.01" y="554.3" width="12.37" height="16.19" fill="#160b39"/>
<rect x="995.63" y="554.3" width="12.37" height="16.19" fill="#420a68"/>
<rect x="1009.24" y="554.3" width="12.37" height="16.19" fill="#6a176e"/>
<rect x="1022.85" y="554.3" width="12.37" height="16.19" fill="#932667"/>
<rect x="1036.46" y="554.3" width="12.37" height="16.19" fill="#bc3754"/>
<rect x="1050.07" y="554.3" width="12.37" height="16.19" fill="#932667"/>
<rect x="1063.68" y="554.3" width="12.37" height="16.19" fill="#6a176e"/>
<rect x="1077.3" y="554.3" width="12.37" height="16.19" fill="#420a68"/>
<rect x="1090.91" y="554.3" width="12.99" height="16.19" fill="#6a176e"/>
<rect x="872.5" y="571.73" width="12.99" height="16.19" fill="#420a68"/>
<rect x="886.73" y="571.73" width="12.37" height="16.19" fill="#6a176e"/>
<rect x="900.34" y="571.73" width="12.37" height="16.19" fill="#160b39"/>
<rect x="913.96" y="571.73" width="12.37" height="16.19" fill="#160b39"/>
<rect x="927.57" y="571.73" width="12.37" height="16.19" fill="#f8e15e"/>
<rect x="941.18" y="571.73" width="12.37" height="16.19" fill="#f37819"/>
<rect x="954.79" y="571.73" width="12.37" height="16.19" fill="#fcffa4"/>
<rect x="968.4" y="571.73" width="12.37" height="16.19" fill="#dd513a"/>
<rect x="982.01" y="571.73" width="12.37" height="16.19" fill="#fcffa4"/>
<rect x="995.63" y="571.73" width="12.37" height="16.19" fill="#fcffa4"/>
<rect x="1009.24" y="571.73" width="12.37" height="16.19" fill="#fcffa4"/>
<rect x="1022.85" y="571.73" width="12.37" height="16.19" fill="#932667"/>
<rect x="1036.46" y="571.73" width="12.37" height="16.19" fill="#f8e15e"/>
<rect x="1050.07" y="571.73" width="12.37" height="16.19" fill="#fcffa4"/>
<rect x="1063.68" y="571.73" width="12.37" height="16.19" fill="#f8e15e"/>
<rect x="1077.3" y="571.73" width="12.37" height="16.19" fill="#fcffa4"/>
<rect x="1090.91" y="571.73" width="12.99" height="16.19" fill="#fcffa4"/>
<rect x="872.5" y="589.16" width="12.99" height="16.81" fill="#dd513a"/>
<rect x="886.73" y="589.16" width="12.37" height="16.81" fill="#6a176e"/>
<rect x="900.34" y="589.16" width="12.37" height="16.81" fill="#fcffa4"/>
<rect x="913.96" y="589.16" width="12.37" height="16.81" fill="#bc3754"/>
<rect x="927.57" y="589.16" width="12.37" height="16.81" fill="#bc3754"/>
<rect x="941.18" y="589.16" width="12.37" height="16.81" fill="#fbac13"/>
<rect x="954.79" y="589.16" width="12.37" height="16.81" fill="#f37819"/>
<rect x="968.4" y="589.16" width="12.37" height="16.81" fill="#6a176e"/>
<rect x="982.01" y="589.16" width="12.37" height="16.81" fill="#6a176e"/>
<rect x="995.63" y="589.16" width="12.37" height="16.81" fill="#932667"/>
<rect x="1009.24" y="589.16" width="12.37" height="16.81" fill="#420a68"/>
<rect x="1022.85" y="589.16" width="12.37" height="16.81" fill="#fcffa4"/>
<rect x="1036.46" y="589.16" width="12.37" height="16.81" fill="#f37819"/>
<rect x="1050.07" y="589.16" width="12.37" height="16.81" fill="#fbac13"/>
<rect x="1063.68" y="589.16" width="12.37" height="16.81" fill="#bc3754"/>
<rect x="1077.3" y="589.16" width="12.37" height="16.81" fill="#f37819"/>
<rect x="1090.91" y="589.16" width="12.99" height="16.81" fill="#fbac13"/>
<rect x="872.5" y="501.39" width="231.4" height="104.58" fill="none" stroke="#1c1c1c" stroke-width="1.3"/>
<rect x="111.8" y="611.02" width="204.6" height="139.44" fill="#f6f0f6"/>
<rect x="111.8" y="611.02" width="13.02" height="16.81" fill="#420a68"/>
<rect x="126.06" y="611.02" width="12.4" height="16.81" fill="#6a176e"/>
<rect x="139.7" y="611.02" width="12.4" height="16.81" fill="#160b39"/>
<rect x="153.34" y="611.02" width="12.4" height="16.81" fill="#060311"/>
<rect x="166.98" y="611.02" width="12.4" height="16.81" fill="#160b39"/>
<rect x="180.62" y="611.02" width="12.4" height="16.81" fill="#060311"/>
<rect x="194.26" y="611.02" width="12.4" height="16.81" fill="#060311"/>
<rect x="207.9" y="611.02" width="12.4" height="16.81" fill="#060311"/>
<rect x="221.54" y="611.02" width="12.4" height="16.81" fill="#060311"/>
<rect x="235.18" y="611.02" width="12.4" height="16.81" fill="#160b39"/>
<rect x="248.82" y="611.02" width="12.4" height="16.81" fill="#420a68"/>
<rect x="262.46" y="611.02" width="12.4" height="16.81" fill="#060311"/>
<rect x="276.1" y="611.02" width="12.4" height="16.81" fill="#060311"/>
<rect x="289.74" y="611.02" width="12.4" height="16.81" fill="#060311"/>
<rect x="303.38" y="611.02" width="13.02" height="16.81" fill="#160b39"/>
<rect x="111.8" y="629.07" width="13.02" height="16.19" fill="#160b39"/>
<rect x="126.06" y="629.07" width="12.4" height="16.19" fill="#6a176e"/>
<rect x="139.7" y="629.07" width="12.4" height="16.19" fill="#420a68"/>
<rect x="153.34" y="629.07" width="12.4" height="16.19" fill="#060311"/>
<rect x="166.98" y="629.07" width="12.4" height="16.19" fill="#060311"/>
<rect x="180.62" y="629.07" width="12.4" height="16.19" fill="#160b39"/>
<rect x="194.26" y="629.07" width="12.4" height="16.19" fill="#160b39"/>
<rect x="207.9" y="629.07" width="12.4" height="16.19" fill="#160b39"/>
<rect x="221.54" y="629.07" width="12.4" height="16.19" fill="#160b39"/>
<rect x="235.18" y="629.07" width="12.4" height="16.19" fill="#160b39"/>
<rect x="248.82" y="629.07" width="12.4" height="16.19" fill="#420a68"/>
<rect x="262.46" y="629.07" width="12.4" height="16.19" fill="#160b39"/>
<rect x="276.1" y="629.07" width="12.4" height="16.19" fill="#420a68"/>
<rect x="289.74" y="629.07" width="12.4" height="16.19" fill="#160b39"/>
<rect x="303.38" y="629.07" width="13.02" height="16.19" fill="#420a68"/>
<rect x="111.8" y="646.5" width="13.02" height="16.19" fill="#420a68"/>
<rect x="126.06" y="646.5" width="12.4" height="16.19" fill="#932667"/>
<rect x="139.7" y="646.5" width="12.4" height="16.19" fill="#420a68"/>
<rect x="153.34" y="646.5" width="12.4" height="16.19" fill="#160b39"/>
<rect x="166.98" y="646.5" width="12.4" height="16.19" fill="#160b39"/>
<rect x="180.62" y="646.5" width="12.4" height="16.19" fill="#160b39"/>
<rect x="194.26" y="646.5" width="12.4" height="16.19" fill="#160b39"/>
<rect x="207.9" y="646.5" width="12.4" height="16.19" fill="#160b39"/>
<rect x="221.54" y="646.5" width="12.4" height="16.19" fill="#420a68"/>
<rect x="235.18" y="646.5" width="12.4" height="16.19" fill="#160b39"/>
<rect x="248.82" y="646.5" width="12.4" height="16.19" fill="#160b39"/>
<rect x="262.46" y="646.5" width="12.4" height="16.19" fill="#160b39"/>
<rect x="276.1" y="646.5" width="12.4" height="16.19" fill="#420a68"/>
<rect x="289.74" y="646.5" width="12.4" height="16.19" fill="#160b39"/>
<rect x="303.38" y="646.5" width="13.02" height="16.19" fill="#420a68"/>
<rect x="111.8" y="663.93" width="13.02" height="16.19" fill="#420a68"/>
<rect x="126.06" y="663.93" width="12.4" height="16.19" fill="#932667"/>
<rect x="139.7" y="663.93" width="12.4" height="16.19" fill="#420a68"/>
<rect x="153.34" y="663.93" width="12.4" height="16.19" fill="#160b39"/>
<rect x="166.98" y="663.93" width="12.4" height="16.19" fill="#420a68"/>
<rect x="180.62" y="663.93" width="12.4" height="16.19" fill="#060311"/>
<rect x="194.26" y="663.93" width="12.4" height="16.19" fill="#160b39"/>
<rect x="207.9" y="663.93" width="12.4" height="16.19" fill="#420a68"/>
<rect x="221.54" y="663.93" width="12.4" height="16.19" fill="#160b39"/>
<rect x="235.18" y="663.93" width="12.4" height="16.19" fill="#160b39"/>
<rect x="248.82" y="663.93" width="12.4" height="16.19" fill="#060311"/>
<rect x="262.46" y="663.93" width="12.4" height="16.19" fill="#060311"/>
<rect x="276.1" y="663.93" width="12.4" height="16.19" fill="#160b39"/>
<rect x="289.74" y="663.93" width="12.4" height="16.19" fill="#060311"/>
<rect x="303.38" y="663.93" width="13.02" height="16.19" fill="#6a176e"/>
<rect x="111.8" y="681.36" width="13.02" height="16.19" fill="#6a176e"/>
<rect x="126.06" y="681.36" width="12.4" height="16.19" fill="#932667"/>
<rect x="139.7" y="681.36" width="12.4" height="16.19" fill="#420a68"/>
<rect x="153.34" y="681.36" width="12.4" height="16.19" fill="#160b39"/>
<rect x="166.98" y="681.36" width="12.4" height="16.19" fill="#420a68"/>
<rect x="180.62" y="681.36" width="12.4" height="16.19" fill="#160b39"/>
<rect x="194.26" y="681.36" width="12.4" height="16.19" fill="#420a68"/>
<rect x="207.9" y="681.36" width="12.4" height="16.19" fill="#420a68"/>
<rect x="221.54" y="681.36" width="12.4" height="16.19" fill="#6a176e"/>
<rect x="235.18" y="681.36" width="12.4" height="16.19" fill="#160b39"/>
<rect x="248.82" y="681.36" width="12.4" height="16.19" fill="#420a68"/>
<rect x="262.46" y="681.36" width="12.4" height="16.19" fill="#160b39"/>
<rect x="276.1" y="681.36" width="12.4" height="16.19" fill="#6a176e"/>
<rect x="289.74" y="681.36" width="12.4" height="16.19" fill="#420a68"/>
<rect x="303.38" y="681.36" width="13.02" height="16.19" fill="#160b39"/>
<rect x="111.8" y="698.79" width="13.02" height="16.19" fill="#bc3754"/>
<rect x="126.06" y="698.79" width="12.4" height="16.19" fill="#bc3754"/>
<rect x="139.7" y="698.79" width="12.4" height="16.19" fill="#6a176e"/>
<rect x="153.34" y="698.79" width="12.4" height="16.19" fill="#160b39"/>
<rect x="166.98" y="698.79" width="12.4" height="16.19" fill="#160b39"/>
<rect x="180.62" y="698.79" width="12.4" height="16.19" fill="#420a68"/>
<rect x="194.26" y="698.79" width="12.4" height="16.19" fill="#420a68"/>
<rect x="207.9" y="698.79" width="12.4" height="16.19" fill="#932667"/>
<rect x="221.54" y="698.79" width="12.4" height="16.19" fill="#932667"/>
<rect x="235.18" y="698.79" width="12.4" height="16.19" fill="#060311"/>
<rect x="248.82" y="698.79" width="12.4" height="16.19" fill="#420a68"/>
<rect x="262.46" y="698.79" width="12.4" height="16.19" fill="#6a176e"/>
<rect x="276.1" y="698.79" width="12.4" height="16.19" fill="#060311"/>
<rect x="289.74" y="698.79" width="12.4" height="16.19" fill="#420a68"/>
<rect x="303.38" y="698.79" width="13.02" height="16.19" fill="#6a176e"/>
<rect x="111.8" y="716.22" width="13.02" height="16.19" fill="#bc3754"/>
<rect x="126.06" y="716.22" width="12.4" height="16.19" fill="#bc3754"/>
<rect x="139.7" y="716.22" width="12.4" height="16.19" fill="#6a176e"/>
<rect x="153.34" y="716.22" width="12.4" height="16.19" fill="#160b39"/>
<rect x="166.98" y="716.22" width="12.4" height="16.19" fill="#6a176e"/>
<rect x="180.62" y="716.22" width="12.4" height="16.19" fill="#420a68"/>
<rect x="194.26" y="716.22" width="12.4" height="16.19" fill="#6a176e"/>
<rect x="207.9" y="716.22" width="12.4" height="16.19" fill="#6a176e"/>
<rect x="221.54" y="716.22" width="12.4" height="16.19" fill="#6a176e"/>
<rect x="235.18" y="716.22" width="12.4" height="16.19" fill="#420a68"/>
<rect x="248.82" y="716.22" width="12.4" height="16.19" fill="#420a68"/>
<rect x="262.46" y="716.22" width="12.4" height="16.19" fill="#160b39"/>
<rect x="276.1" y="716.22" width="12.4" height="16.19" fill="#932667"/>
<rect x="289.74" y="716.22" width="12.4" height="16.19" fill="#420a68"/>
<rect x="303.38" y="716.22" width="13.02" height="16.19" fill="#420a68"/>
<rect x="111.8" y="733.65" width="13.02" height="16.81" fill="#bc3754"/>
<rect x="126.06" y="733.65" width="12.4" height="16.81" fill="#6a176e"/>
<rect x="139.7" y="733.65" width="12.4" height="16.81" fill="#060311"/>
<rect x="153.34" y="733.65" width="12.4" height="16.81" fill="#160b39"/>
<rect x="166.98" y="733.65" width="12.4" height="16.81" fill="#160b39"/>
<rect x="180.62" y="733.65" width="12.4" height="16.81" fill="#060311"/>
<rect x="194.26" y="733.65" width="12.4" height="16.81" fill="#060311"/>
<rect x="207.9" y="733.65" width="12.4" height="16.81" fill="#bc3754"/>
<rect x="221.54" y="733.65" width="12.4" height="16.81" fill="#160b39"/>
<rect x="235.18" y="733.65" width="12.4" height="16.81" fill="#160b39"/>
<rect x="248.82" y="733.65" width="12.4" height="16.81" fill="#420a68"/>
<rect x="262.46" y="733.65" width="12.4" height="16.81" fill="#160b39"/>
<rect x="276.1" y="733.65" width="12.4" height="16.81" fill="#420a68"/>
<rect x="289.74" y="733.65" width="12.4" height="16.81" fill="#160b39"/>
<rect x="303.38" y="733.65" width="13.02" height="16.81" fill="#060311"/>
<rect x="111.8" y="611.02" width="204.6" height="139.44" fill="none" stroke="#1c1c1c" stroke-width="1.3"/>
<rect x="321.1" y="611.02" width="68.7" height="139.44" fill="#f6f0f6"/>
<rect x="321.1" y="611.02" width="13.12" height="16.81" fill="#060311"/>
<rect x="335.46" y="611.02" width="12.5" height="16.81" fill="#160b39"/>
<rect x="349.2" y="611.02" width="12.5" height="16.81" fill="#6a176e"/>
<rect x="362.94" y="611.02" width="12.5" height="16.81" fill="#932667"/>
<rect x="376.68" y="611.02" width="13.12" height="16.81" fill="#6a176e"/>
<rect x="321.1" y="629.07" width="13.12" height="16.19" fill="#060311"/>
<rect x="335.46" y="629.07" width="12.5" height="16.19" fill="#160b39"/>
<rect x="349.2" y="629.07" width="12.5" height="16.19" fill="#420a68"/>
<rect x="362.94" y="629.07" width="12.5" height="16.19" fill="#fcffa4"/>
<rect x="376.68" y="629.07" width="13.12" height="16.19" fill="#6a176e"/>
<rect x="321.1" y="646.5" width="13.12" height="16.19" fill="#160b39"/>
<rect x="335.46" y="646.5" width="12.5" height="16.19" fill="#160b39"/>
<rect x="349.2" y="646.5" width="12.5" height="16.19" fill="#bc3754"/>
<rect x="362.94" y="646.5" width="12.5" height="16.19" fill="#932667"/>
<rect x="376.68" y="646.5" width="13.12" height="16.19" fill="#932667"/>
<rect x="321.1" y="663.93" width="13.12" height="16.19" fill="#420a68"/>
<rect x="335.46" y="663.93" width="12.5" height="16.19" fill="#932667"/>
<rect x="349.2" y="663.93" width="12.5" height="16.19" fill="#dd513a"/>
<rect x="362.94" y="663.93" width="12.5" height="16.19" fill="#932667"/>
<rect x="376.68" y="663.93" width="13.12" height="16.19" fill="#6a176e"/>
<rect x="321.1" y="681.36" width="13.12" height="16.19" fill="#6a176e"/>
<rect x="335.46" y="681.36" width="12.5" height="16.19" fill="#6a176e"/>
<rect x="349.2" y="681.36" width="12.5" height="16.19" fill="#f37819"/>
<rect x="362.94" y="681.36" width="12.5" height="16.19" fill="#bc3754"/>
<rect x="376.68" y="681.36" width="13.12" height="16.19" fill="#932667"/>
<rect x="321.1" y="698.79" width="13.12" height="16.19" fill="#6a176e"/>
<rect x="335.46" y="698.79" width="12.5" height="16.19" fill="#160b39"/>
<rect x="349.2" y="698.79" width="12.5" height="16.19" fill="#dd513a"/>
<rect x="362.94" y="698.79" width="12.5" height="16.19" fill="#6a176e"/>
<rect x="376.68" y="698.79" width="13.12" height="16.19" fill="#932667"/>
<rect x="321.1" y="716.22" width="13.12" height="16.19" fill="#420a68"/>
<rect x="335.46" y="716.22" width="12.5" height="16.19" fill="#6a176e"/>
<rect x="349.2" y="716.22" width="12.5" height="16.19" fill="#dd513a"/>
<rect x="362.94" y="716.22" width="12.5" height="16.19" fill="#932667"/>
<rect x="376.68" y="716.22" width="13.12" height="16.19" fill="#932667"/>
<rect x="321.1" y="733.65" width="13.12" height="16.81" fill="#160b39"/>
<rect x="335.46" y="733.65" width="12.5" height="16.81" fill="#6a176e"/>
<rect x="349.2" y="733.65" width="12.5" height="16.81" fill="#dd513a"/>
<rect x="362.94" y="733.65" width="12.5" height="16.81" fill="#932667"/>
<rect x="376.68" y="733.65" width="13.12" height="16.81" fill="#932667"/>
<rect x="321.1" y="611.02" width="68.7" height="139.44" fill="none" stroke="#1c1c1c" stroke-width="1.3"/>
<rect x="394.2" y="611.02" width="123.1" height="139.44" fill="#f6f0f6"/>
<rect x="394.2" y="611.02" width="13.06" height="16.81" fill="#060311"/>
<rect x="408.5" y="611.02" width="12.44" height="16.81" fill="#060311"/>
<rect x="422.18" y="611.02" width="12.44" height="16.81" fill="#060311"/>
<rect x="435.85" y="611.02" width="12.44" height="16.81" fill="#160b39"/>
<rect x="449.53" y="611.02" width="12.44" height="16.81" fill="#160b39"/>
<rect x="463.21" y="611.02" width="12.44" height="16.81" fill="#060311"/>
<rect x="476.89" y="611.02" width="12.44" height="16.81" fill="#060311"/>
<rect x="490.56" y="611.02" width="12.44" height="16.81" fill="#160b39"/>
<rect x="504.24" y="611.02" width="13.06" height="16.81" fill="#160b39"/>
<rect x="394.2" y="629.07" width="13.06" height="16.19" fill="#060311"/>
<rect x="408.5" y="629.07" width="12.44" height="16.19" fill="#060311"/>
<rect x="422.18" y="629.07" width="12.44" height="16.19" fill="#060311"/>
<rect x="435.85" y="629.07" width="12.44" height="16.19" fill="#160b39"/>
<rect x="449.53" y="629.07" width="12.44" height="16.19" fill="#160b39"/>
<rect x="463.21" y="629.07" width="12.44" height="16.19" fill="#060311"/>
<rect x="476.89" y="629.07" width="12.44" height="16.19" fill="#060311"/>
<rect x="490.56" y="629.07" width="12.44" height="16.19" fill="#160b39"/>
<rect x="504.24" y="629.07" width="13.06" height="16.19" fill="#160b39"/>
<rect x="394.2" y="646.5" width="13.06" height="16.19" fill="#060311"/>
<rect x="408.5" y="646.5" width="12.44" height="16.19" fill="#060311"/>
<rect x="422.18" y="646.5" width="12.44" height="16.19" fill="#160b39"/>
<rect x="435.85" y="646.5" width="12.44" height="16.19" fill="#160b39"/>
<rect x="449.53" y="646.5" width="12.44" height="16.19" fill="#160b39"/>
<rect x="463.21" y="646.5" width="12.44" height="16.19" fill="#060311"/>
<rect x="476.89" y="646.5" width="12.44" height="16.19" fill="#060311"/>
<rect x="490.56" y="646.5" width="12.44" height="16.19" fill="#160b39"/>
<rect x="504.24" y="646.5" width="13.06" height="16.19" fill="#160b39"/>
<rect x="394.2" y="663.93" width="13.06" height="16.19" fill="#060311"/>
<rect x="408.5" y="663.93" width="12.44" height="16.19" fill="#160b39"/>
<rect x="422.18" y="663.93" width="12.44" height="16.19" fill="#160b39"/>
<rect x="435.85" y="663.93" width="12.44" height="16.19" fill="#160b39"/>
<rect x="449.53" y="663.93" width="12.44" height="16.19" fill="#160b39"/>
<rect x="463.21" y="663.93" width="12.44" height="16.19" fill="#060311"/>
<rect x="476.89" y="663.93" width="12.44" height="16.19" fill="#060311"/>
<rect x="490.56" y="663.93" width="12.44" height="16.19" fill="#060311"/>
<rect x="504.24" y="663.93" width="13.06" height="16.19" fill="#160b39"/>
<rect x="394.2" y="681.36" width="13.06" height="16.19" fill="#160b39"/>
<rect x="408.5" y="681.36" width="12.44" height="16.19" fill="#160b39"/>
<rect x="422.18" y="681.36" width="12.44" height="16.19" fill="#160b39"/>
<rect x="435.85" y="681.36" width="12.44" height="16.19" fill="#420a68"/>
<rect x="449.53" y="681.36" width="12.44" height="16.19" fill="#160b39"/>
<rect x="463.21" y="681.36" width="12.44" height="16.19" fill="#060311"/>
<rect x="476.89" y="681.36" width="12.44" height="16.19" fill="#060311"/>
<rect x="490.56" y="681.36" width="12.44" height="16.19" fill="#160b39"/>
<rect x="504.24" y="681.36" width="13.06" height="16.19" fill="#060311"/>
<rect x="394.2" y="698.79" width="13.06" height="16.19" fill="#060311"/>
<rect x="408.5" y="698.79" width="12.44" height="16.19" fill="#160b39"/>
<rect x="422.18" y="698.79" width="12.44" height="16.19" fill="#160b39"/>
<rect x="435.85" y="698.79" width="12.44" height="16.19" fill="#420a68"/>
<rect x="449.53" y="698.79" width="12.44" height="16.19" fill="#160b39"/>
<rect x="463.21" y="698.79" width="12.44" height="16.19" fill="#060311"/>
<rect x="476.89" y="698.79" width="12.44" height="16.19" fill="#060311"/>
<rect x="490.56" y="698.79" width="12.44" height="16.19" fill="#060311"/>
<rect x="504.24" y="698.79" width="13.06" height="16.19" fill="#160b39"/>
<rect x="394.2" y="716.22" width="13.06" height="16.19" fill="#060311"/>
<rect x="408.5" y="716.22" width="12.44" height="16.19" fill="#160b39"/>
<rect x="422.18" y="716.22" width="12.44" height="16.19" fill="#420a68"/>
<rect x="435.85" y="716.22" width="12.44" height="16.19" fill="#420a68"/>
<rect x="449.53" y="716.22" width="12.44" height="16.19" fill="#160b39"/>
<rect x="463.21" y="716.22" width="12.44" height="16.19" fill="#6a176e"/>
<rect x="476.89" y="716.22" width="12.44" height="16.19" fill="#060311"/>
<rect x="490.56" y="716.22" width="12.44" height="16.19" fill="#160b39"/>
<rect x="504.24" y="716.22" width="13.06" height="16.19" fill="#160b39"/>
<rect x="394.2" y="733.65" width="13.06" height="16.81" fill="#060311"/>
<rect x="408.5" y="733.65" width="12.44" height="16.81" fill="#160b39"/>
<rect x="422.18" y="733.65" width="12.44" height="16.81" fill="#420a68"/>
<rect x="435.85" y="733.65" width="12.44" height="16.81" fill="#420a68"/>
<rect x="449.53" y="733.65" width="12.44" height="16.81" fill="#fcffa4"/>
<rect x="463.21" y="733.65" width="12.44" height="16.81" fill="#bc3754"/>
<rect x="476.89" y="733.65" width="12.44" height="16.81" fill="#060311"/>
<rect x="490.56" y="733.65" width="12.44" height="16.81" fill="#160b39"/>
<rect x="504.24" y="733.65" width="13.06" height="16.81" fill="#160b39"/>
<rect x="394.2" y="611.02" width="123.1" height="139.44" fill="none" stroke="#1c1c1c" stroke-width="1.3"/>
<rect x="521.8" y="611.02" width="54.6" height="139.44" fill="#f6f0f6"/>
<rect x="521.8" y="611.02" width="13.03" height="16.81" fill="#fbac13"/>
<rect x="536.07" y="611.02" width="12.41" height="16.81" fill="#160b39"/>
<rect x="549.72" y="611.02" width="12.41" height="16.81" fill="#060311"/>
<rect x="563.37" y="611.02" width="13.03" height="16.81" fill="#160b39"/>
<rect x="521.8" y="629.07" width="13.03" height="16.19" fill="#dd513a"/>
<rect x="536.07" y="629.07" width="12.41" height="16.19" fill="#160b39"/>
<rect x="549.72" y="629.07" width="12.41" height="16.19" fill="#160b39"/>
<rect x="563.37" y="629.07" width="13.03" height="16.19" fill="#420a68"/>
<rect x="521.8" y="646.5" width="13.03" height="16.19" fill="#6a176e"/>
<rect x="536.07" y="646.5" width="12.41" height="16.19" fill="#420a68"/>
<rect x="549.72" y="646.5" width="12.41" height="16.19" fill="#160b39"/>
<rect x="563.37" y="646.5" width="13.03" height="16.19" fill="#420a68"/>
<rect x="521.8" y="663.93" width="13.03" height="16.19" fill="#6a176e"/>
<rect x="536.07" y="663.93" width="12.41" height="16.19" fill="#060311"/>
<rect x="549.72" y="663.93" width="12.41" height="16.19" fill="#160b39"/>
<rect x="563.37" y="663.93" width="13.03" height="16.19" fill="#932667"/>
<rect x="521.8" y="681.36" width="13.03" height="16.19" fill="#420a68"/>
<rect x="536.07" y="681.36" width="12.41" height="16.19" fill="#160b39"/>
<rect x="549.72" y="681.36" width="12.41" height="16.19" fill="#160b39"/>
<rect x="563.37" y="681.36" width="13.03" height="16.19" fill="#932667"/>
<rect x="521.8" y="698.79" width="13.03" height="16.19" fill="#420a68"/>
<rect x="536.07" y="698.79" width="12.41" height="16.19" fill="#160b39"/>
<rect x="549.72" y="698.79" width="12.41" height="16.19" fill="#dd513a"/>
<rect x="563.37" y="698.79" width="13.03" height="16.19" fill="#fbac13"/>
<rect x="521.8" y="716.22" width="13.03" height="16.19" fill="#6a176e"/>
<rect x="536.07" y="716.22" width="12.41" height="16.19" fill="#160b39"/>
<rect x="549.72" y="716.22" width="12.41" height="16.19" fill="#420a68"/>
<rect x="563.37" y="716.22" width="13.03" height="16.19" fill="#6a176e"/>
<rect x="521.8" y="733.65" width="13.03" height="16.81" fill="#420a68"/>
<rect x="536.07" y="733.65" width="12.41" height="16.81" fill="#932667"/>
<rect x="549.72" y="733.65" width="12.41" height="16.81" fill="#bc3754"/>
<rect x="563.37" y="733.65" width="13.03" height="16.81" fill="#dd513a"/>
<rect x="521.8" y="611.02" width="54.6" height="139.44" fill="none" stroke="#1c1c1c" stroke-width="1.3"/>
<rect x="581.1" y="611.02" width="286.4" height="139.44" fill="#f6f0f6"/>
<rect x="581.1" y="611.02" width="13.02" height="16.81" fill="#160b39"/>
<rect x="595.36" y="611.02" width="12.4" height="16.81" fill="#060311"/>
<rect x="609" y="611.02" width="12.4" height="16.81" fill="#060311"/>
<rect x="622.63" y="611.02" width="12.4" height="16.81" fill="#060311"/>
<rect x="636.27" y="611.02" width="12.4" height="16.81" fill="#160b39"/>
<rect x="649.91" y="611.02" width="12.4" height="16.81" fill="#060311"/>
<rect x="663.55" y="611.02" width="12.4" height="16.81" fill="#160b39"/>
<rect x="677.19" y="611.02" width="12.4" height="16.81" fill="#160b39"/>
<rect x="690.82" y="611.02" width="12.4" height="16.81" fill="#160b39"/>
<rect x="704.46" y="611.02" width="12.4" height="16.81" fill="#160b39"/>
<rect x="718.1" y="611.02" width="12.4" height="16.81" fill="#060311"/>
<rect x="731.74" y="611.02" width="12.4" height="16.81" fill="#420a68"/>
<rect x="745.38" y="611.02" width="12.4" height="16.81" fill="#060311"/>
<rect x="759.02" y="611.02" width="12.4" height="16.81" fill="#060311"/>
<rect x="772.65" y="611.02" width="12.4" height="16.81" fill="#160b39"/>
<rect x="786.29" y="611.02" width="12.4" height="16.81" fill="#160b39"/>
<rect x="799.93" y="611.02" width="12.4" height="16.81" fill="#420a68"/>
<rect x="813.57" y="611.02" width="12.4" height="16.81" fill="#420a68"/>
<rect x="827.21" y="611.02" width="12.4" height="16.81" fill="#160b39"/>
<rect x="840.84" y="611.02" width="12.4" height="16.81" fill="#060311"/>
<rect x="854.48" y="611.02" width="13.02" height="16.81" fill="#060311"/>
<rect x="581.1" y="629.07" width="13.02" height="16.19" fill="#160b39"/>
<rect x="595.36" y="629.07" width="12.4" height="16.19" fill="#060311"/>
<rect x="609" y="629.07" width="12.4" height="16.19" fill="#060311"/>
<rect x="622.63" y="629.07" width="12.4" height="16.19" fill="#160b39"/>
<rect x="636.27" y="629.07" width="12.4" height="16.19" fill="#160b39"/>
<rect x="649.91" y="629.07" width="12.4" height="16.19" fill="#060311"/>
<rect x="663.55" y="629.07" width="12.4" height="16.19" fill="#160b39"/>
<rect x="677.19" y="629.07" width="12.4" height="16.19" fill="#160b39"/>
<rect x="690.82" y="629.07" width="12.4" height="16.19" fill="#160b39"/>
<rect x="704.46" y="629.07" width="12.4" height="16.19" fill="#060311"/>
<rect x="718.1" y="629.07" width="12.4" height="16.19" fill="#060311"/>
<rect x="731.74" y="629.07" width="12.4" height="16.19" fill="#160b39"/>
<rect x="745.38" y="629.07" width="12.4" height="16.19" fill="#160b39"/>
<rect x="759.02" y="629.07" width="12.4" height="16.19" fill="#060311"/>
<rect x="772.65" y="629.07" width="12.4" height="16.19" fill="#060311"/>
<rect x="786.29" y="629.07" width="12.4" height="16.19" fill="#060311"/>
<rect x="799.93" y="629.07" width="12.4" height="16.19" fill="#060311"/>
<rect x="813.57" y="629.07" width="12.4" height="16.19" fill="#160b39"/>
<rect x="827.21" y="629.07" width="12.4" height="16.19" fill="#160b39"/>
<rect x="840.84" y="629.07" width="12.4" height="16.19" fill="#060311"/>
<rect x="854.48" y="629.07" width="13.02" height="16.19" fill="#060311"/>
<rect x="581.1" y="646.5" width="13.02" height="16.19" fill="#160b39"/>
<rect x="595.36" y="646.5" width="12.4" height="16.19" fill="#160b39"/>
<rect x="609" y="646.5" width="12.4" height="16.19" fill="#060311"/>
<rect x="622.63" y="646.5" width="12.4" height="16.19" fill="#6a176e"/>
<rect x="636.27" y="646.5" width="12.4" height="16.19" fill="#bc3754"/>
<rect x="649.91" y="646.5" width="12.4" height="16.19" fill="#420a68"/>
<rect x="663.55" y="646.5" width="12.4" height="16.19" fill="#932667"/>
<rect x="677.19" y="646.5" width="12.4" height="16.19" fill="#932667"/>
<rect x="690.82" y="646.5" width="12.4" height="16.19" fill="#bc3754"/>
<rect x="704.46" y="646.5" width="12.4" height="16.19" fill="#932667"/>
<rect x="718.1" y="646.5" width="12.4" height="16.19" fill="#060311"/>
<rect x="731.74" y="646.5" width="12.4" height="16.19" fill="#420a68"/>
<rect x="745.38" y="646.5" width="12.4" height="16.19" fill="#160b39"/>
<rect x="759.02" y="646.5" width="12.4" height="16.19" fill="#060311"/>
<rect x="772.65" y="646.5" width="12.4" height="16.19" fill="#160b39"/>
<rect x="786.29" y="646.5" width="12.4" height="16.19" fill="#160b39"/>
<rect x="799.93" y="646.5" width="12.4" height="16.19" fill="#160b39"/>
<rect x="813.57" y="646.5" width="12.4" height="16.19" fill="#6a176e"/>
<rect x="827.21" y="646.5" width="12.4" height="16.19" fill="#420a68"/>
<rect x="840.84" y="646.5" width="12.4" height="16.19" fill="#060311"/>
<rect x="854.48" y="646.5" width="13.02" height="16.19" fill="#060311"/>
<rect x="581.1" y="663.93" width="13.02" height="16.19" fill="#420a68"/>
<rect x="595.36" y="663.93" width="12.4" height="16.19" fill="#160b39"/>
<rect x="609" y="663.93" width="12.4" height="16.19" fill="#060311"/>
<rect x="622.63" y="663.93" width="12.4" height="16.19" fill="#160b39"/>
<rect x="636.27" y="663.93" width="12.4" height="16.19" fill="#420a68"/>
<rect x="649.91" y="663.93" width="12.4" height="16.19" fill="#060311"/>
<rect x="663.55" y="663.93" width="12.4" height="16.19" fill="#160b39"/>
<rect x="677.19" y="663.93" width="12.4" height="16.19" fill="#160b39"/>
<rect x="690.82" y="663.93" width="12.4" height="16.19" fill="#160b39"/>
<rect x="704.46" y="663.93" width="12.4" height="16.19" fill="#160b39"/>
<rect x="718.1" y="663.93" width="12.4" height="16.19" fill="#060311"/>
<rect x="731.74" y="663.93" width="12.4" height="16.19" fill="#160b39"/>
<rect x="745.38" y="663.93" width="12.4" height="16.19" fill="#160b39"/>
<rect x="759.02" y="663.93" width="12.4" height="16.19" fill="#060311"/>
<rect x="772.65" y="663.93" width="12.4" height="16.19" fill="#060311"/>
<rect x="786.29" y="663.93" width="12.4" height="16.19" fill="#060311"/>
<rect x="799.93" y="663.93" width="12.4" height="16.19" fill="#160b39"/>
<rect x="813.57" y="663.93" width="12.4" height="16.19" fill="#dd513a"/>
<rect x="827.21" y="663.93" width="12.4" height="16.19" fill="#f37819"/>
<rect x="840.84" y="663.93" width="12.4" height="16.19" fill="#060311"/>
<rect x="854.48" y="663.93" width="13.02" height="16.19" fill="#060311"/>
<rect x="581.1" y="681.36" width="13.02" height="16.19" fill="#420a68"/>
<rect x="595.36" y="681.36" width="12.4" height="16.19" fill="#160b39"/>
<rect x="609" y="681.36" width="12.4" height="16.19" fill="#060311"/>
<rect x="622.63" y="681.36" width="12.4" height="16.19" fill="#160b39"/>
<rect x="636.27" y="681.36" width="12.4" height="16.19" fill="#160b39"/>
<rect x="649.91" y="681.36" width="12.4" height="16.19" fill="#060311"/>
<rect x="663.55" y="681.36" width="12.4" height="16.19" fill="#160b39"/>
<rect x="677.19" y="681.36" width="12.4" height="16.19" fill="#160b39"/>
<rect x="690.82" y="681.36" width="12.4" height="16.19" fill="#160b39"/>
<rect x="704.46" y="681.36" width="12.4" height="16.19" fill="#060311"/>
<rect x="718.1" y="681.36" width="12.4" height="16.19" fill="#060311"/>
<rect x="731.74" y="681.36" width="12.4" height="16.19" fill="#060311"/>
<rect x="745.38" y="681.36" width="12.4" height="16.19" fill="#060311"/>
<rect x="759.02" y="681.36" width="12.4" height="16.19" fill="#060311"/>
<rect x="772.65" y="681.36" width="12.4" height="16.19" fill="#060311"/>
<rect x="786.29" y="681.36" width="12.4" height="16.19" fill="#060311"/>
<rect x="799.93" y="681.36" width="12.4" height="16.19" fill="#060311"/>
<rect x="813.57" y="681.36" width="12.4" height="16.19" fill="#f37819"/>
<rect x="827.21" y="681.36" width="12.4" height="16.19" fill="#f37819"/>
<rect x="840.84" y="681.36" width="12.4" height="16.19" fill="#060311"/>
<rect x="854.48" y="681.36" width="13.02" height="16.19" fill="#060311"/>
<rect x="581.1" y="698.79" width="13.02" height="16.19" fill="#160b39"/>
<rect x="595.36" y="698.79" width="12.4" height="16.19" fill="#060311"/>
<rect x="609" y="698.79" width="12.4" height="16.19" fill="#060311"/>
<rect x="622.63" y="698.79" width="12.4" height="16.19" fill="#160b39"/>
<rect x="636.27" y="698.79" width="12.4" height="16.19" fill="#6a176e"/>
<rect x="649.91" y="698.79" width="12.4" height="16.19" fill="#060311"/>
<rect x="663.55" y="698.79" width="12.4" height="16.19" fill="#160b39"/>
<rect x="677.19" y="698.79" width="12.4" height="16.19" fill="#160b39"/>
<rect x="690.82" y="698.79" width="12.4" height="16.19" fill="#160b39"/>
<rect x="704.46" y="698.79" width="12.4" height="16.19" fill="#160b39"/>
<rect x="718.1" y="698.79" width="12.4" height="16.19" fill="#060311"/>
<rect x="731.74" y="698.79" width="12.4" height="16.19" fill="#420a68"/>
<rect x="745.38" y="698.79" width="12.4" height="16.19" fill="#160b39"/>
<rect x="759.02" y="698.79" width="12.4" height="16.19" fill="#060311"/>
<rect x="772.65" y="698.79" width="12.4" height="16.19" fill="#060311"/>
<rect x="786.29" y="698.79" width="12.4" height="16.19" fill="#060311"/>
<rect x="799.93" y="698.79" width="12.4" height="16.19" fill="#060311"/>
<rect x="813.57" y="698.79" width="12.4" height="16.19" fill="#6a176e"/>
<rect x="827.21" y="698.79" width="12.4" height="16.19" fill="#420a68"/>
<rect x="840.84" y="698.79" width="12.4" height="16.19" fill="#060311"/>
<rect x="854.48" y="698.79" width="13.02" height="16.19" fill="#060311"/>
<rect x="581.1" y="716.22" width="13.02" height="16.19" fill="#420a68"/>
<rect x="595.36" y="716.22" width="12.4" height="16.19" fill="#160b39"/>
<rect x="609" y="716.22" width="12.4" height="16.19" fill="#160b39"/>
<rect x="622.63" y="716.22" width="12.4" height="16.19" fill="#160b39"/>
<rect x="636.27" y="716.22" width="12.4" height="16.19" fill="#420a68"/>
<rect x="649.91" y="716.22" width="12.4" height="16.19" fill="#160b39"/>
<rect x="663.55" y="716.22" width="12.4" height="16.19" fill="#420a68"/>
<rect x="677.19" y="716.22" width="12.4" height="16.19" fill="#420a68"/>
<rect x="690.82" y="716.22" width="12.4" height="16.19" fill="#160b39"/>
<rect x="704.46" y="716.22" width="12.4" height="16.19" fill="#160b39"/>
<rect x="718.1" y="716.22" width="12.4" height="16.19" fill="#060311"/>
<rect x="731.74" y="716.22" width="12.4" height="16.19" fill="#160b39"/>
<rect x="745.38" y="716.22" width="12.4" height="16.19" fill="#160b39"/>
<rect x="759.02" y="716.22" width="12.4" height="16.19" fill="#160b39"/>
<rect x="772.65" y="716.22" width="12.4" height="16.19" fill="#060311"/>
<rect x="786.29" y="716.22" width="12.4" height="16.19" fill="#060311"/>
<rect x="799.93" y="716.22" width="12.4" height="16.19" fill="#932667"/>
<rect x="813.57" y="716.22" width="12.4" height="16.19" fill="#420a68"/>
<rect x="827.21" y="716.22" width="12.4" height="16.19" fill="#160b39"/>
<rect x="840.84" y="716.22" width="12.4" height="16.19" fill="#060311"/>
<rect x="854.48" y="716.22" width="13.02" height="16.19" fill="#060311"/>
<rect x="581.1" y="733.65" width="13.02" height="16.81" fill="#160b39"/>
<rect x="595.36" y="733.65" width="12.4" height="16.81" fill="#060311"/>
<rect x="609" y="733.65" width="12.4" height="16.81" fill="#160b39"/>
<rect x="622.63" y="733.65" width="12.4" height="16.81" fill="#6a176e"/>
<rect x="636.27" y="733.65" width="12.4" height="16.81" fill="#420a68"/>
<rect x="649.91" y="733.65" width="12.4" height="16.81" fill="#160b39"/>
<rect x="663.55" y="733.65" width="12.4" height="16.81" fill="#420a68"/>
<rect x="677.19" y="733.65" width="12.4" height="16.81" fill="#420a68"/>
<rect x="690.82" y="733.65" width="12.4" height="16.81" fill="#420a68"/>
<rect x="704.46" y="733.65" width="12.4" height="16.81" fill="#420a68"/>
<rect x="718.1" y="733.65" width="12.4" height="16.81" fill="#060311"/>
<rect x="731.74" y="733.65" width="12.4" height="16.81" fill="#060311"/>
<rect x="745.38" y="733.65" width="12.4" height="16.81" fill="#160b39"/>
<rect x="759.02" y="733.65" width="12.4" height="16.81" fill="#160b39"/>
<rect x="772.65" y="733.65" width="12.4" height="16.81" fill="#060311"/>
<rect x="786.29" y="733.65" width="12.4" height="16.81" fill="#160b39"/>
<rect x="799.93" y="733.65" width="12.4" height="16.81" fill="#160b39"/>
<rect x="813.57" y="733.65" width="12.4" height="16.81" fill="#060311"/>
<rect x="827.21" y="733.65" width="12.4" height="16.81" fill="#060311"/>
<rect x="840.84" y="733.65" width="12.4" height="16.81" fill="#060311"/>
<rect x="854.48" y="733.65" width="13.02" height="16.81" fill="#060311"/>
<rect x="581.1" y="611.02" width="286.4" height="139.44" fill="none" stroke="#1c1c1c" stroke-width="1.3"/>
<rect x="872.5" y="611.02" width="231.4" height="139.44" fill="#f6f0f6"/>
<rect x="872.5" y="611.02" width="12.99" height="16.81" fill="#420a68"/>
<rect x="886.73" y="611.02" width="12.37" height="16.81" fill="#060311"/>
<rect x="900.34" y="611.02" width="12.37" height="16.81" fill="#932667"/>
<rect x="913.96" y="611.02" width="12.37" height="16.81" fill="#6a176e"/>
<rect x="927.57" y="611.02" width="12.37" height="16.81" fill="#060311"/>
<rect x="941.18" y="611.02" width="12.37" height="16.81" fill="#160b39"/>
<rect x="954.79" y="611.02" width="12.37" height="16.81" fill="#060311"/>
<rect x="968.4" y="611.02" width="12.37" height="16.81" fill="#160b39"/>
<rect x="982.01" y="611.02" width="12.37" height="16.81" fill="#060311"/>
<rect x="995.63" y="611.02" width="12.37" height="16.81" fill="#060311"/>
<rect x="1009.24" y="611.02" width="12.37" height="16.81" fill="#060311"/>
<rect x="1022.85" y="611.02" width="12.37" height="16.81" fill="#060311"/>
<rect x="1036.46" y="611.02" width="12.37" height="16.81" fill="#060311"/>
<rect x="1050.07" y="611.02" width="12.37" height="16.81" fill="#060311"/>
<rect x="1063.68" y="611.02" width="12.37" height="16.81" fill="#060311"/>
<rect x="1077.3" y="611.02" width="12.37" height="16.81" fill="#160b39"/>
<rect x="1090.91" y="611.02" width="12.99" height="16.81" fill="#060311"/>
<rect x="872.5" y="629.07" width="12.99" height="16.19" fill="#420a68"/>
<rect x="886.73" y="629.07" width="12.37" height="16.19" fill="#060311"/>
<rect x="900.34" y="629.07" width="12.37" height="16.19" fill="#6a176e"/>
<rect x="913.96" y="629.07" width="12.37" height="16.19" fill="#6a176e"/>
<rect x="927.57" y="629.07" width="12.37" height="16.19" fill="#060311"/>
<rect x="941.18" y="629.07" width="12.37" height="16.19" fill="#060311"/>
<rect x="954.79" y="629.07" width="12.37" height="16.19" fill="#160b39"/>
<rect x="968.4" y="629.07" width="12.37" height="16.19" fill="#160b39"/>
<rect x="982.01" y="629.07" width="12.37" height="16.19" fill="#060311"/>
<rect x="995.63" y="629.07" width="12.37" height="16.19" fill="#060311"/>
<rect x="1009.24" y="629.07" width="12.37" height="16.19" fill="#060311"/>
<rect x="1022.85" y="629.07" width="12.37" height="16.19" fill="#060311"/>
<rect x="1036.46" y="629.07" width="12.37" height="16.19" fill="#060311"/>
<rect x="1050.07" y="629.07" width="12.37" height="16.19" fill="#060311"/>
<rect x="1063.68" y="629.07" width="12.37" height="16.19" fill="#060311"/>
<rect x="1077.3" y="629.07" width="12.37" height="16.19" fill="#060311"/>
<rect x="1090.91" y="629.07" width="12.99" height="16.19" fill="#160b39"/>
<rect x="872.5" y="646.5" width="12.99" height="16.19" fill="#420a68"/>
<rect x="886.73" y="646.5" width="12.37" height="16.19" fill="#060311"/>
<rect x="900.34" y="646.5" width="12.37" height="16.19" fill="#932667"/>
<rect x="913.96" y="646.5" width="12.37" height="16.19" fill="#420a68"/>
<rect x="927.57" y="646.5" width="12.37" height="16.19" fill="#160b39"/>
<rect x="941.18" y="646.5" width="12.37" height="16.19" fill="#160b39"/>
<rect x="954.79" y="646.5" width="12.37" height="16.19" fill="#160b39"/>
<rect x="968.4" y="646.5" width="12.37" height="16.19" fill="#060311"/>
<rect x="982.01" y="646.5" width="12.37" height="16.19" fill="#060311"/>
<rect x="995.63" y="646.5" width="12.37" height="16.19" fill="#060311"/>
<rect x="1009.24" y="646.5" width="12.37" height="16.19" fill="#060311"/>
<rect x="1022.85" y="646.5" width="12.37" height="16.19" fill="#160b39"/>
<rect x="1036.46" y="646.5" width="12.37" height="16.19" fill="#160b39"/>
<rect x="1050.07" y="646.5" width="12.37" height="16.19" fill="#160b39"/>
<rect x="1063.68" y="646.5" width="12.37" height="16.19" fill="#160b39"/>
<rect x="1077.3" y="646.5" width="12.37" height="16.19" fill="#6a176e"/>
<rect x="1090.91" y="646.5" width="12.99" height="16.19" fill="#932667"/>
<rect x="872.5" y="663.93" width="12.99" height="16.19" fill="#420a68"/>
<rect x="886.73" y="663.93" width="12.37" height="16.19" fill="#060311"/>
<rect x="900.34" y="663.93" width="12.37" height="16.19" fill="#6a176e"/>
<rect x="913.96" y="663.93" width="12.37" height="16.19" fill="#932667"/>
<rect x="927.57" y="663.93" width="12.37" height="16.19" fill="#160b39"/>
<rect x="941.18" y="663.93" width="12.37" height="16.19" fill="#420a68"/>
<rect x="954.79" y="663.93" width="12.37" height="16.19" fill="#160b39"/>
<rect x="968.4" y="663.93" width="12.37" height="16.19" fill="#060311"/>
<rect x="982.01" y="663.93" width="12.37" height="16.19" fill="#060311"/>
<rect x="995.63" y="663.93" width="12.37" height="16.19" fill="#060311"/>
<rect x="1009.24" y="663.93" width="12.37" height="16.19" fill="#060311"/>
<rect x="1022.85" y="663.93" width="12.37" height="16.19" fill="#160b39"/>
<rect x="1036.46" y="663.93" width="12.37" height="16.19" fill="#160b39"/>
<rect x="1050.07" y="663.93" width="12.37" height="16.19" fill="#160b39"/>
<rect x="1063.68" y="663.93" width="12.37" height="16.19" fill="#160b39"/>
<rect x="1077.3" y="663.93" width="12.37" height="16.19" fill="#420a68"/>
<rect x="1090.91" y="663.93" width="12.99" height="16.19" fill="#060311"/>
<rect x="872.5" y="681.36" width="12.99" height="16.19" fill="#160b39"/>
<rect x="886.73" y="681.36" width="12.37" height="16.19" fill="#060311"/>
<rect x="900.34" y="681.36" width="12.37" height="16.19" fill="#160b39"/>
<rect x="913.96" y="681.36" width="12.37" height="16.19" fill="#6a176e"/>
<rect x="927.57" y="681.36" width="12.37" height="16.19" fill="#bc3754"/>
<rect x="941.18" y="681.36" width="12.37" height="16.19" fill="#420a68"/>
<rect x="954.79" y="681.36" width="12.37" height="16.19" fill="#060311"/>
<rect x="968.4" y="681.36" width="12.37" height="16.19" fill="#060311"/>
<rect x="982.01" y="681.36" width="12.37" height="16.19" fill="#160b39"/>
<rect x="995.63" y="681.36" width="12.37" height="16.19" fill="#160b39"/>
<rect x="1009.24" y="681.36" width="12.37" height="16.19" fill="#160b39"/>
<rect x="1022.85" y="681.36" width="12.37" height="16.19" fill="#160b39"/>
<rect x="1036.46" y="681.36" width="12.37" height="16.19" fill="#160b39"/>
<rect x="1050.07" y="681.36" width="12.37" height="16.19" fill="#420a68"/>
<rect x="1063.68" y="681.36" width="12.37" height="16.19" fill="#160b39"/>
<rect x="1077.3" y="681.36" width="12.37" height="16.19" fill="#6a176e"/>
<rect x="1090.91" y="681.36" width="12.99" height="16.19" fill="#060311"/>
<rect x="872.5" y="698.79" width="12.99" height="16.19" fill="#160b39"/>
<rect x="886.73" y="698.79" width="12.37" height="16.19" fill="#060311"/>
<rect x="900.34" y="698.79" width="12.37" height="16.19" fill="#6a176e"/>
<rect x="913.96" y="698.79" width="12.37" height="16.19" fill="#420a68"/>
<rect x="927.57" y="698.79" width="12.37" height="16.19" fill="#160b39"/>
<rect x="941.18" y="698.79" width="12.37" height="16.19" fill="#060311"/>
<rect x="954.79" y="698.79" width="12.37" height="16.19" fill="#160b39"/>
<rect x="968.4" y="698.79" width="12.37" height="16.19" fill="#6a176e"/>
<rect x="982.01" y="698.79" width="12.37" height="16.19" fill="#060311"/>
<rect x="995.63" y="698.79" width="12.37" height="16.19" fill="#160b39"/>
<rect x="1009.24" y="698.79" width="12.37" height="16.19" fill="#160b39"/>
<rect x="1022.85" y="698.79" width="12.37" height="16.19" fill="#420a68"/>
<rect x="1036.46" y="698.79" width="12.37" height="16.19" fill="#420a68"/>
<rect x="1050.07" y="698.79" width="12.37" height="16.19" fill="#420a68"/>
<rect x="1063.68" y="698.79" width="12.37" height="16.19" fill="#420a68"/>
<rect x="1077.3" y="698.79" width="12.37" height="16.19" fill="#060311"/>
<rect x="1090.91" y="698.79" width="12.99" height="16.19" fill="#060311"/>
<rect x="872.5" y="716.22" width="12.99" height="16.19" fill="#160b39"/>
<rect x="886.73" y="716.22" width="12.37" height="16.19" fill="#060311"/>
<rect x="900.34" y="716.22" width="12.37" height="16.19" fill="#932667"/>
<rect x="913.96" y="716.22" width="12.37" height="16.19" fill="#160b39"/>
<rect x="927.57" y="716.22" width="12.37" height="16.19" fill="#420a68"/>
<rect x="941.18" y="716.22" width="12.37" height="16.19" fill="#6a176e"/>
<rect x="954.79" y="716.22" width="12.37" height="16.19" fill="#420a68"/>
<rect x="968.4" y="716.22" width="12.37" height="16.19" fill="#160b39"/>
<rect x="982.01" y="716.22" width="12.37" height="16.19" fill="#160b39"/>
<rect x="995.63" y="716.22" width="12.37" height="16.19" fill="#160b39"/>
<rect x="1009.24" y="716.22" width="12.37" height="16.19" fill="#160b39"/>
<rect x="1022.85" y="716.22" width="12.37" height="16.19" fill="#420a68"/>
<rect x="1036.46" y="716.22" width="12.37" height="16.19" fill="#160b39"/>
<rect x="1050.07" y="716.22" width="12.37" height="16.19" fill="#420a68"/>
<rect x="1063.68" y="716.22" width="12.37" height="16.19" fill="#420a68"/>
<rect x="1077.3" y="716.22" width="12.37" height="16.19" fill="#6a176e"/>
<rect x="1090.91" y="716.22" width="12.99" height="16.19" fill="#160b39"/>
<rect x="872.5" y="733.65" width="12.99" height="16.81" fill="#060311"/>
<rect x="886.73" y="733.65" width="12.37" height="16.81" fill="#420a68"/>
<rect x="900.34" y="733.65" width="12.37" height="16.81" fill="#160b39"/>
<rect x="913.96" y="733.65" width="12.37" height="16.81" fill="#160b39"/>
<rect x="927.57" y="733.65" width="12.37" height="16.81" fill="#160b39"/>
<rect x="941.18" y="733.65" width="12.37" height="16.81" fill="#420a68"/>
<rect x="954.79" y="733.65" width="12.37" height="16.81" fill="#6a176e"/>
<rect x="968.4" y="733.65" width="12.37" height="16.81" fill="#060311"/>
<rect x="982.01" y="733.65" width="12.37" height="16.81" fill="#060311"/>
<rect x="995.63" y="733.65" width="12.37" height="16.81" fill="#160b39"/>
<rect x="1009.24" y="733.65" width="12.37" height="16.81" fill="#060311"/>
<rect x="1022.85" y="733.65" width="12.37" height="16.81" fill="#420a68"/>
<rect x="1036.46" y="733.65" width="12.37" height="16.81" fill="#060311"/>
<rect x="1050.07" y="733.65" width="12.37" height="16.81" fill="#420a68"/>
<rect x="1063.68" y="733.65" width="12.37" height="16.81" fill="#420a68"/>
<rect x="1077.3" y="733.65" width="12.37" height="16.81" fill="#420a68"/>
<rect x="1090.91" y="733.65" width="12.99" height="16.81" fill="#420a68"/>
<rect x="872.5" y="611.02" width="231.4" height="139.44" fill="none" stroke="#1c1c1c" stroke-width="1.3"/>
</g>
<rect x="82.1" y="254.6" width="25" height="17.43" fill="#ff2600" stroke="#111" stroke-width="1.2"/>
<rect x="82.1" y="272.03" width="25" height="17.43" fill="#ff2600" stroke="#111" stroke-width="1.2"/>
<rect x="82.1" y="294.51" width="25" height="17.43" fill="#add8e6" stroke="#111" stroke-width="1.2"/>
<rect x="82.1" y="311.94" width="25" height="17.43" fill="#add8e6" stroke="#111" stroke-width="1.2"/>
<rect x="82.1" y="329.37" width="25" height="17.43" fill="#add8e6" stroke="#111" stroke-width="1.2"/>
<rect x="82.1" y="346.8" width="25" height="17.43" fill="#add8e6" stroke="#111" stroke-width="1.2"/>
<rect x="82.1" y="369.28" width="25" height="17.43" fill="#0433ff" stroke="#111" stroke-width="1.2"/>
<rect x="82.1" y="386.71" width="25" height="17.43" fill="#0433ff" stroke="#111" stroke-width="1.2"/>
<rect x="82.1" y="404.14" width="25" height="17.43" fill="#0433ff" stroke="#111" stroke-width="1.2"/>
<rect x="82.1" y="426.62" width="25" height="17.43" fill="#ff40ff" stroke="#111" stroke-width="1.2"/>
<rect x="82.1" y="444.05" width="25" height="17.43" fill="#ff40ff" stroke="#111" stroke-width="1.2"/>
<rect x="82.1" y="461.48" width="25" height="17.43" fill="#ff40ff" stroke="#111" stroke-width="1.2"/>
<rect x="82.1" y="478.91" width="25" height="17.43" fill="#ff40ff" stroke="#111" stroke-width="1.2"/>
<rect x="82.1" y="501.39" width="25" height="17.43" fill="#00f900" stroke="#111" stroke-width="1.2"/>
<rect x="82.1" y="518.82" width="25" height="17.43" fill="#00f900" stroke="#111" stroke-width="1.2"/>
<rect x="82.1" y="536.25" width="25" height="17.43" fill="#00f900" stroke="#111" stroke-width="1.2"/>
<rect x="82.1" y="553.68" width="25" height="17.43" fill="#00f900" stroke="#111" stroke-width="1.2"/>
<rect x="82.1" y="571.11" width="25" height="17.43" fill="#00f900" stroke="#111" stroke-width="1.2"/>
<rect x="82.1" y="588.54" width="25" height="17.43" fill="#00f900" stroke="#111" stroke-width="1.2"/>
<rect x="82.1" y="611.02" width="25" height="17.43" fill="#7f7f7f" stroke="#111" stroke-width="1.2"/>
<rect x="82.1" y="628.45" width="25" height="17.43" fill="#7f7f7f" stroke="#111" stroke-width="1.2"/>
<rect x="82.1" y="645.88" width="25" height="17.43" fill="#7f7f7f" stroke="#111" stroke-width="1.2"/>
<rect x="82.1" y="663.31" width="25" height="17.43" fill="#7f7f7f" stroke="#111" stroke-width="1.2"/>
<rect x="82.1" y="680.74" width="25" height="17.43" fill="#7f7f7f" stroke="#111" stroke-width="1.2"/>
<rect x="82.1" y="698.17" width="25" height="17.43" fill="#7f7f7f" stroke="#111" stroke-width="1.2"/>
<rect x="82.1" y="715.6" width="25" height="17.43" fill="#7f7f7f" stroke="#111" stroke-width="1.2"/>
<rect x="82.1" y="733.03" width="25" height="17.43" fill="#7f7f7f" stroke="#111" stroke-width="1.2"/>
<rect x="1109" y="254.6" width="14.8" height="17.43" fill="#ff2600" stroke="#2a2a2a" stroke-width="1.3"/>
<rect x="1109" y="272.03" width="14.8" height="17.43" fill="#ff2600" stroke="#2a2a2a" stroke-width="1.3"/>
<rect x="1109" y="294.51" width="14.8" height="17.43" fill="#ff2600" stroke="#2a2a2a" stroke-width="1.3"/>
<rect x="1109" y="311.94" width="14.8" height="17.43" fill="#bebebe" stroke="#2a2a2a" stroke-width="1.3"/>
<rect x="1109" y="329.37" width="14.8" height="17.43" fill="#bebebe" stroke="#2a2a2a" stroke-width="1.3"/>
<rect x="1109" y="346.8" width="14.8" height="17.43" fill="#ff2600" stroke="#2a2a2a" stroke-width="1.3"/>
<rect x="1109" y="369.28" width="14.8" height="17.43" fill="#bebebe" stroke="#2a2a2a" stroke-width="1.3"/>
<rect x="1109" y="386.71" width="14.8" height="17.43" fill="#ff2600" stroke="#2a2a2a" stroke-width="1.3"/>
<rect x="1109" y="404.14" width="14.8" height="17.43" fill="#808080" stroke="#2a2a2a" stroke-width="1.3"/>
<rect x="1109" y="426.62" width="14.8" height="17.43" fill="#bebebe" stroke="#2a2a2a" stroke-width="1.3"/>
<rect x="1109" y="444.05" width="14.8" height="17.43" fill="#bebebe" stroke="#2a2a2a" stroke-width="1.3"/>
<rect x="1109" y="461.48" width="14.8" height="17.43" fill="#bebebe" stroke="#2a2a2a" stroke-width="1.3"/>
<rect x="1109" y="478.91" width="14.8" height="17.43" fill="#bebebe" stroke="#2a2a2a" stroke-width="1.3"/>
<rect x="1109" y="501.39" width="14.8" height="17.43" fill="#ff2600" stroke="#2a2a2a" stroke-width="1.3"/>
<rect x="1109" y="518.82" width="14.8" height="17.43" fill="#808080" stroke="#2a2a2a" stroke-width="1.3"/>
<rect x="1109" y="536.25" width="14.8" height="17.43" fill="#ff2600" stroke="#2a2a2a" stroke-width="1.3"/>
<rect x="1109" y="553.68" width="14.8" height="17.43" fill="#808080" stroke="#2a2a2a" stroke-width="1.3"/>
<rect x="1109" y="571.11" width="14.8" height="17.43" fill="#808080" stroke="#2a2a2a" stroke-width="1.3"/>
<rect x="1109" y="588.54" width="14.8" height="17.43" fill="#808080" stroke="#2a2a2a" stroke-width="1.3"/>
<rect x="1109" y="611.02" width="14.8" height="17.43" fill="#bebebe" stroke="#2a2a2a" stroke-width="1.3"/>
<rect x="1109" y="628.45" width="14.8" height="17.43" fill="#bebebe" stroke="#2a2a2a" stroke-width="1.3"/>
<rect x="1109" y="645.88" width="14.8" height="17.43" fill="#bebebe" stroke="#2a2a2a" stroke-width="1.3"/>
<rect x="1109" y="663.31" width="14.8" height="17.43" fill="#bebebe" stroke="#2a2a2a" stroke-width="1.3"/>
<rect x="1109" y="680.74" width="14.8" height="17.43" fill="#bebebe" stroke="#2a2a2a" stroke-width="1.3"/>
<rect x="1109" y="698.17" width="14.8" height="17.43" fill="#bebebe" stroke="#2a2a2a" stroke-width="1.3"/>
<rect x="1109" y="715.6" width="14.8" height="17.43" fill="#bebebe" stroke="#2a2a2a" stroke-width="1.3"/>
<rect x="1109" y="733.03" width="14.8" height="17.43" fill="#bebebe" stroke="#2a2a2a" stroke-width="1.3"/>
<rect x="1127.9" y="254.6" width="14.8" height="17.43" fill="#ff2600" stroke="#2a2a2a" stroke-width="1.3"/>
<rect x="1127.9" y="272.03" width="14.8" height="17.43" fill="#808080" stroke="#2a2a2a" stroke-width="1.3"/>
<rect x="1127.9" y="294.51" width="14.8" height="17.43" fill="#808080" stroke="#2a2a2a" stroke-width="1.3"/>
<rect x="1127.9" y="311.94" width="14.8" height="17.43" fill="#bebebe" stroke="#2a2a2a" stroke-width="1.3"/>
<rect x="1127.9" y="329.37" width="14.8" height="17.43" fill="#bebebe" stroke="#2a2a2a" stroke-width="1.3"/>
<rect x="1127.9" y="346.8" width="14.8" height="17.43" fill="#808080" stroke="#2a2a2a" stroke-width="1.3"/>
<rect x="1127.9" y="369.28" width="14.8" height="17.43" fill="#bebebe" stroke="#2a2a2a" stroke-width="1.3"/>
<rect x="1127.9" y="386.71" width="14.8" height="17.43" fill="#808080" stroke="#2a2a2a" stroke-width="1.3"/>
<rect x="1127.9" y="404.14" width="14.8" height="17.43" fill="#ff2600" stroke="#2a2a2a" stroke-width="1.3"/>
<rect x="1127.9" y="426.62" width="14.8" height="17.43" fill="#bebebe" stroke="#2a2a2a" stroke-width="1.3"/>
<rect x="1127.9" y="444.05" width="14.8" height="17.43" fill="#bebebe" stroke="#2a2a2a" stroke-width="1.3"/>
<rect x="1127.9" y="461.48" width="14.8" height="17.43" fill="#bebebe" stroke="#2a2a2a" stroke-width="1.3"/>
<rect x="1127.9" y="478.91" width="14.8" height="17.43" fill="#bebebe" stroke="#2a2a2a" stroke-width="1.3"/>
<rect x="1127.9" y="501.39" width="14.8" height="17.43" fill="#808080" stroke="#2a2a2a" stroke-width="1.3"/>
<rect x="1127.9" y="518.82" width="14.8" height="17.43" fill="#ff2600" stroke="#2a2a2a" stroke-width="1.3"/>
<rect x="1127.9" y="536.25" width="14.8" height="17.43" fill="#808080" stroke="#2a2a2a" stroke-width="1.3"/>
<rect x="1127.9" y="553.68" width="14.8" height="17.43" fill="#808080" stroke="#2a2a2a" stroke-width="1.3"/>
<rect x="1127.9" y="571.11" width="14.8" height="17.43" fill="#808080" stroke="#2a2a2a" stroke-width="1.3"/>
<rect x="1127.9" y="588.54" width="14.8" height="17.43" fill="#808080" stroke="#2a2a2a" stroke-width="1.3"/>
<rect x="1127.9" y="611.02" width="14.8" height="17.43" fill="#bebebe" stroke="#2a2a2a" stroke-width="1.3"/>
<rect x="1127.9" y="628.45" width="14.8" height="17.43" fill="#bebebe" stroke="#2a2a2a" stroke-width="1.3"/>
<rect x="1127.9" y="645.88" width="14.8" height="17.43" fill="#bebebe" stroke="#2a2a2a" stroke-width="1.3"/>
<rect x="1127.9" y="663.31" width="14.8" height="17.43" fill="#bebebe" stroke="#2a2a2a" stroke-width="1.3"/>
<rect x="1127.9" y="680.74" width="14.8" height="17.43" fill="#bebebe" stroke="#2a2a2a" stroke-width="1.3"/>
<rect x="1127.9" y="698.17" width="14.8" height="17.43" fill="#bebebe" stroke="#2a2a2a" stroke-width="1.3"/>
<rect x="1127.9" y="715.6" width="14.8" height="17.43" fill="#bebebe" stroke="#2a2a2a" stroke-width="1.3"/>
<rect x="1127.9" y="733.03" width="14.8" height="17.43" fill="#bebebe" stroke="#2a2a2a" stroke-width="1.3"/>
<rect x="1146.7" y="254.6" width="14.8" height="17.43" fill="#ff2600" stroke="#2a2a2a" stroke-width="1.3"/>
<rect x="1146.7" y="272.03" width="14.8" height="17.43" fill="#ff2600" stroke="#2a2a2a" stroke-width="1.3"/>
<rect x="1146.7" y="294.51" width="14.8" height="17.43" fill="#ff2600" stroke="#2a2a2a" stroke-width="1.3"/>
<rect x="1146.7" y="311.94" width="14.8" height="17.43" fill="#bebebe" stroke="#2a2a2a" stroke-width="1.3"/>
<rect x="1146.7" y="329.37" width="14.8" height="17.43" fill="#bebebe" stroke="#2a2a2a" stroke-width="1.3"/>
<rect x="1146.7" y="346.8" width="14.8" height="17.43" fill="#ff2600" stroke="#2a2a2a" stroke-width="1.3"/>
<rect x="1146.7" y="369.28" width="14.8" height="17.43" fill="#bebebe" stroke="#2a2a2a" stroke-width="1.3"/>
<rect x="1146.7" y="386.71" width="14.8" height="17.43" fill="#ff2600" stroke="#2a2a2a" stroke-width="1.3"/>
<rect x="1146.7" y="404.14" width="14.8" height="17.43" fill="#ff2600" stroke="#2a2a2a" stroke-width="1.3"/>
<rect x="1146.7" y="426.62" width="14.8" height="17.43" fill="#bebebe" stroke="#2a2a2a" stroke-width="1.3"/>
<rect x="1146.7" y="444.05" width="14.8" height="17.43" fill="#bebebe" stroke="#2a2a2a" stroke-width="1.3"/>
<rect x="1146.7" y="461.48" width="14.8" height="17.43" fill="#bebebe" stroke="#2a2a2a" stroke-width="1.3"/>
<rect x="1146.7" y="478.91" width="14.8" height="17.43" fill="#bebebe" stroke="#2a2a2a" stroke-width="1.3"/>
<rect x="1146.7" y="501.39" width="14.8" height="17.43" fill="#ff2600" stroke="#2a2a2a" stroke-width="1.3"/>
<rect x="1146.7" y="518.82" width="14.8" height="17.43" fill="#ff2600" stroke="#2a2a2a" stroke-width="1.3"/>
<rect x="1146.7" y="536.25" width="14.8" height="17.43" fill="#ff2600" stroke="#2a2a2a" stroke-width="1.3"/>
<rect x="1146.7" y="553.68" width="14.8" height="17.43" fill="#808080" stroke="#2a2a2a" stroke-width="1.3"/>
<rect x="1146.7" y="571.11" width="14.8" height="17.43" fill="#808080" stroke="#2a2a2a" stroke-width="1.3"/>
<rect x="1146.7" y="588.54" width="14.8" height="17.43" fill="#808080" stroke="#2a2a2a" stroke-width="1.3"/>
<rect x="1146.7" y="611.02" width="14.8" height="17.43" fill="#bebebe" stroke="#2a2a2a" stroke-width="1.3"/>
<rect x="1146.7" y="628.45" width="14.8" height="17.43" fill="#bebebe" stroke="#2a2a2a" stroke-width="1.3"/>
<rect x="1146.7" y="645.88" width="14.8" height="17.43" fill="#bebebe" stroke="#2a2a2a" stroke-width="1.3"/>
<rect x="1146.7" y="663.31" width="14.8" height="17.43" fill="#bebebe" stroke="#2a2a2a" stroke-width="1.3"/>
<rect x="1146.7" y="680.74" width="14.8" height="17.43" fill="#bebebe" stroke="#2a2a2a" stroke-width="1.3"/>
<rect x="1146.7" y="698.17" width="14.8" height="17.43" fill="#bebebe" stroke="#2a2a2a" stroke-width="1.3"/>
<rect x="1146.7" y="715.6" width="14.8" height="17.43" fill="#bebebe" stroke="#2a2a2a" stroke-width="1.3"/>
<rect x="1146.7" y="733.03" width="14.8" height="17.43" fill="#bebebe" stroke="#2a2a2a" stroke-width="1.3"/>
<text x="124.67" y="250" font-size="17.05" stroke="#000" stroke-width="0.12" transform="rotate(-90 124.67 250)" textLength="44.84" lengthAdjust="spacingAndGlyphs">BAFF</text>
<text x="138.31" y="250" font-size="17.05" stroke="#000" stroke-width="0.12" transform="rotate(-90 138.31 250)" textLength="34.15" lengthAdjust="spacingAndGlyphs">IL22</text>
<text x="151.95" y="250" font-size="17.05" stroke="#000" stroke-width="0.12" transform="rotate(-90 151.95 250)" textLength="73.14" lengthAdjust="spacingAndGlyphs">IFNAlpha</text>
<text x="165.59" y="250" font-size="17.05" stroke="#000" stroke-width="0.12" transform="rotate(-90 165.59 250)" textLength="68.28" lengthAdjust="spacingAndGlyphs">Eotaxin3</text>
<text x="179.23" y="250" font-size="17.05" stroke="#000" stroke-width="0.12" transform="rotate(-90 179.23 250)" textLength="24.39" lengthAdjust="spacingAndGlyphs">IL3</text>
<text x="192.87" y="250" font-size="17.05" stroke="#000" stroke-width="0.12" transform="rotate(-90 192.87 250)" textLength="69.26" lengthAdjust="spacingAndGlyphs">IL1Alpha</text>
<text x="206.51" y="250" font-size="17.05" stroke="#000" stroke-width="0.12" transform="rotate(-90 206.51 250)" textLength="34.15" lengthAdjust="spacingAndGlyphs">IL21</text>
<text x="220.15" y="250" font-size="17.05" stroke="#000" stroke-width="0.12" transform="rotate(-90 220.15 250)" textLength="52.65" lengthAdjust="spacingAndGlyphs">MIP1A</text>
<text x="233.79" y="250" font-size="17.05" stroke="#000" stroke-width="0.12" transform="rotate(-90 233.79 250)" textLength="49.72" lengthAdjust="spacingAndGlyphs">TRAIL</text>
<text x="247.43" y="250" font-size="17.05" stroke="#000" stroke-width="0.12" transform="rotate(-90 247.43 250)" textLength="33.14" lengthAdjust="spacingAndGlyphs">MIG</text>
<text x="261.07" y="250" font-size="17.05" stroke="#000" stroke-width="0.12" transform="rotate(-90 261.07 250)" textLength="84.84" lengthAdjust="spacingAndGlyphs">GROAlpha</text>
<text x="274.71" y="250" font-size="17.05" stroke="#000" stroke-width="0.12" transform="rotate(-90 274.71 250)" textLength="39.96" lengthAdjust="spacingAndGlyphs">MDC</text>
<text x="288.35" y="250" font-size="17.05" stroke="#000" stroke-width="0.12" transform="rotate(-90 288.35 250)" textLength="36.09" lengthAdjust="spacingAndGlyphs">IP10</text>
<text x="301.99" y="250" font-size="17.05" stroke="#000" stroke-width="0.12" transform="rotate(-90 301.99 250)" textLength="24.39" lengthAdjust="spacingAndGlyphs">IL6</text>
<text x="315.63" y="250" font-size="17.05" stroke="#000" stroke-width="0.12" transform="rotate(-90 315.63 250)" textLength="58.5" lengthAdjust="spacingAndGlyphs">VEGFA</text>
<text x="334.02" y="250" font-size="17.05" stroke="#000" stroke-width="0.12" transform="rotate(-90 334.02 250)" textLength="85.81" lengthAdjust="spacingAndGlyphs">Fractalkine</text>
<text x="347.76" y="250" font-size="17.05" stroke="#000" stroke-width="0.12" transform="rotate(-90 347.76 250)" textLength="62.38" lengthAdjust="spacingAndGlyphs">TWEAK</text>
<text x="361.5" y="250" font-size="17.05" stroke="#000" stroke-width="0.12" transform="rotate(-90 361.5 250)" textLength="30.21" lengthAdjust="spacingAndGlyphs">MIF</text>
<text x="375.24" y="250" font-size="17.05" stroke="#000" stroke-width="0.12" transform="rotate(-90 375.24 250)" textLength="34.15" lengthAdjust="spacingAndGlyphs">IL15</text>
<text x="388.98" y="250" font-size="17.05" stroke="#000" stroke-width="0.12" transform="rotate(-90 388.98 250)" textLength="44.86" lengthAdjust="spacingAndGlyphs">CD27</text>
<text x="407.09" y="250" font-size="17.05" stroke="#000" stroke-width="0.12" transform="rotate(-90 407.09 250)" textLength="63.42" lengthAdjust="spacingAndGlyphs">IL12p70</text>
<text x="420.77" y="250" font-size="17.05" stroke="#000" stroke-width="0.12" transform="rotate(-90 420.77 250)" textLength="37.03" lengthAdjust="spacingAndGlyphs">HGF</text>
<text x="434.44" y="250" font-size="17.05" stroke="#000" stroke-width="0.12" transform="rotate(-90 434.44 250)" textLength="50.71" lengthAdjust="spacingAndGlyphs">APRIL</text>
<text x="448.12" y="250" font-size="17.05" stroke="#000" stroke-width="0.12" transform="rotate(-90 448.12 250)" textLength="45.81" lengthAdjust="spacingAndGlyphs">TNFB</text>
<text x="461.8" y="250" font-size="17.05" stroke="#000" stroke-width="0.12" transform="rotate(-90 461.8 250)" textLength="44.84" lengthAdjust="spacingAndGlyphs">FGF2</text>
<text x="475.48" y="250" font-size="17.05" stroke="#000" stroke-width="0.12" transform="rotate(-90 475.48 250)" textLength="25.35" lengthAdjust="spacingAndGlyphs">LIF</text>
<text x="489.16" y="250" font-size="17.05" stroke="#000" stroke-width="0.12" transform="rotate(-90 489.16 250)" textLength="34.15" lengthAdjust="spacingAndGlyphs">IL23</text>
<text x="502.83" y="250" font-size="17.05" stroke="#000" stroke-width="0.12" transform="rotate(-90 502.83 250)" textLength="44.84" lengthAdjust="spacingAndGlyphs">TNFA</text>
<text x="516.51" y="250" font-size="17.05" stroke="#000" stroke-width="0.12" transform="rotate(-90 516.51 250)" textLength="56.52" lengthAdjust="spacingAndGlyphs">TNFRII</text>
<text x="534.67" y="250" font-size="17.05" stroke="#000" stroke-width="0.12" transform="rotate(-90 534.67 250)" textLength="44.86" lengthAdjust="spacingAndGlyphs">CD30</text>
<text x="548.32" y="250" font-size="17.05" stroke="#000" stroke-width="0.12" transform="rotate(-90 548.32 250)" textLength="48.75" lengthAdjust="spacingAndGlyphs">MCP2</text>
<text x="561.97" y="250" font-size="17.05" stroke="#000" stroke-width="0.12" transform="rotate(-90 561.97 250)" textLength="24.39" lengthAdjust="spacingAndGlyphs">IL8</text>
<text x="575.62" y="250" font-size="17.05" stroke="#000" stroke-width="0.12" transform="rotate(-90 575.62 250)" textLength="24.39" lengthAdjust="spacingAndGlyphs">IL9</text>
<text x="593.97" y="250" font-size="17.05" stroke="#000" stroke-width="0.12" transform="rotate(-90 593.97 250)" textLength="34.15" lengthAdjust="spacingAndGlyphs">IL27</text>
<text x="607.61" y="250" font-size="17.05" stroke="#000" stroke-width="0.12" transform="rotate(-90 607.61 250)" textLength="34.15" lengthAdjust="spacingAndGlyphs">IL31</text>
<text x="621.25" y="250" font-size="17.05" stroke="#000" stroke-width="0.12" transform="rotate(-90 621.25 250)" textLength="52.65" lengthAdjust="spacingAndGlyphs">MIP3A</text>
<text x="634.88" y="250" font-size="17.05" stroke="#000" stroke-width="0.12" transform="rotate(-90 634.88 250)" textLength="50.69" lengthAdjust="spacingAndGlyphs">HVEM</text>
<text x="648.52" y="250" font-size="17.05" stroke="#000" stroke-width="0.12" transform="rotate(-90 648.52 250)" textLength="43.89" lengthAdjust="spacingAndGlyphs">PDL2</text>
<text x="662.16" y="250" font-size="17.05" stroke="#000" stroke-width="0.12" transform="rotate(-90 662.16 250)" textLength="31.19" lengthAdjust="spacingAndGlyphs">IDO</text>
<text x="675.8" y="250" font-size="17.05" stroke="#000" stroke-width="0.12" transform="rotate(-90 675.8 250)" textLength="43.88" lengthAdjust="spacingAndGlyphs">BTLA</text>
<text x="689.44" y="250" font-size="17.05" stroke="#000" stroke-width="0.12" transform="rotate(-90 689.44 250)" textLength="54.61" lengthAdjust="spacingAndGlyphs">CTLA4</text>
<text x="703.07" y="250" font-size="17.05" stroke="#000" stroke-width="0.12" transform="rotate(-90 703.07 250)" textLength="41.91" lengthAdjust="spacingAndGlyphs">GITR</text>
<text x="716.71" y="250" font-size="17.05" stroke="#000" stroke-width="0.12" transform="rotate(-90 716.71 250)" textLength="34.13" lengthAdjust="spacingAndGlyphs">PD1</text>
<text x="730.35" y="250" font-size="17.05" stroke="#000" stroke-width="0.12" transform="rotate(-90 730.35 250)" textLength="34.15" lengthAdjust="spacingAndGlyphs">IL20</text>
<text x="743.99" y="250" font-size="17.05" stroke="#000" stroke-width="0.12" transform="rotate(-90 743.99 250)" textLength="42.92" lengthAdjust="spacingAndGlyphs">41BB</text>
<text x="757.63" y="250" font-size="17.05" stroke="#000" stroke-width="0.12" transform="rotate(-90 757.63 250)" textLength="44.86" lengthAdjust="spacingAndGlyphs">CD80</text>
<text x="771.26" y="250" font-size="17.05" stroke="#000" stroke-width="0.12" transform="rotate(-90 771.26 250)" textLength="43.89" lengthAdjust="spacingAndGlyphs">PDL1</text>
<text x="784.9" y="250" font-size="17.05" stroke="#000" stroke-width="0.12" transform="rotate(-90 784.9 250)" textLength="60.48" lengthAdjust="spacingAndGlyphs">IL1Beta</text>
<text x="798.54" y="250" font-size="17.05" stroke="#000" stroke-width="0.12" transform="rotate(-90 798.54 250)" textLength="48.74" lengthAdjust="spacingAndGlyphs">GCSF</text>
<text x="812.18" y="250" font-size="17.05" stroke="#000" stroke-width="0.12" transform="rotate(-90 812.18 250)" textLength="43.88" lengthAdjust="spacingAndGlyphs">TSLP</text>
<text x="825.82" y="250" font-size="17.05" stroke="#000" stroke-width="0.12" transform="rotate(-90 825.82 250)" textLength="45.85" lengthAdjust="spacingAndGlyphs">IL17A</text>
<text x="839.45" y="250" font-size="17.05" stroke="#000" stroke-width="0.12" transform="rotate(-90 839.45 250)" textLength="55.59" lengthAdjust="spacingAndGlyphs">ENA78</text>
<text x="853.09" y="250" font-size="17.05" stroke="#000" stroke-width="0.12" transform="rotate(-90 853.09 250)" textLength="48.75" lengthAdjust="spacingAndGlyphs">MCP3</text>
<text x="866.73" y="250" font-size="17.05" stroke="#000" stroke-width="0.12" transform="rotate(-90 866.73 250)" textLength="49.71" lengthAdjust="spacingAndGlyphs">MCSF</text>
<text x="885.36" y="250" font-size="17.05" stroke="#000" stroke-width="0.12" transform="rotate(-90 885.36 250)" textLength="37.06" lengthAdjust="spacingAndGlyphs">IL2R</text>
<text x="898.97" y="250" font-size="17.05" stroke="#000" stroke-width="0.12" transform="rotate(-90 898.97 250)" textLength="38.66" lengthAdjust="spacingAndGlyphs">ITAC</text>
<text x="912.58" y="250" font-size="17.05" stroke="#000" stroke-width="0.12" transform="rotate(-90 912.58 250)" textLength="34.15" lengthAdjust="spacingAndGlyphs">IL10</text>
<text x="926.19" y="250" font-size="17.05" stroke="#000" stroke-width="0.12" transform="rotate(-90 926.19 250)" textLength="50.69" lengthAdjust="spacingAndGlyphs">MMP1</text>
<text x="939.8" y="250" font-size="17.05" stroke="#000" stroke-width="0.12" transform="rotate(-90 939.8 250)" textLength="68.28" lengthAdjust="spacingAndGlyphs">Eotaxin2</text>
<text x="953.41" y="250" font-size="17.05" stroke="#000" stroke-width="0.12" transform="rotate(-90 953.41 250)" textLength="48.75" lengthAdjust="spacingAndGlyphs">MCP1</text>
<text x="967.03" y="250" font-size="17.05" stroke="#000" stroke-width="0.12" transform="rotate(-90 967.03 250)" textLength="39.96" lengthAdjust="spacingAndGlyphs">TIM3</text>
<text x="980.64" y="250" font-size="17.05" stroke="#000" stroke-width="0.12" transform="rotate(-90 980.64 250)" textLength="24.39" lengthAdjust="spacingAndGlyphs">IL4</text>
<text x="994.25" y="250" font-size="17.05" stroke="#000" stroke-width="0.12" transform="rotate(-90 994.25 250)" textLength="66.32" lengthAdjust="spacingAndGlyphs">CXCL13</text>
<text x="1007.86" y="250" font-size="17.05" stroke="#000" stroke-width="0.12" transform="rotate(-90 1007.86 250)" textLength="58.52" lengthAdjust="spacingAndGlyphs">Eotaxin</text>
<text x="1021.47" y="250" font-size="17.05" stroke="#000" stroke-width="0.12" transform="rotate(-90 1021.47 250)" textLength="56.55" lengthAdjust="spacingAndGlyphs">SDF1A</text>
<text x="1035.09" y="250" font-size="17.05" stroke="#000" stroke-width="0.12" transform="rotate(-90 1035.09 250)" textLength="34.15" lengthAdjust="spacingAndGlyphs">IL18</text>
<text x="1048.7" y="250" font-size="17.05" stroke="#000" stroke-width="0.12" transform="rotate(-90 1048.7 250)" textLength="24.39" lengthAdjust="spacingAndGlyphs">IL5</text>
<text x="1062.31" y="250" font-size="17.05" stroke="#000" stroke-width="0.12" transform="rotate(-90 1062.31 250)" textLength="63.39" lengthAdjust="spacingAndGlyphs">sCD40L</text>
<text x="1075.92" y="250" font-size="17.05" stroke="#000" stroke-width="0.12" transform="rotate(-90 1075.92 250)" textLength="24.39" lengthAdjust="spacingAndGlyphs">IL7</text>
<text x="1089.53" y="250" font-size="17.05" stroke="#000" stroke-width="0.12" transform="rotate(-90 1089.53 250)" textLength="34.15" lengthAdjust="spacingAndGlyphs">IL16</text>
<text x="1103.14" y="250" font-size="17.05" stroke="#000" stroke-width="0.12" transform="rotate(-90 1103.14 250)" textLength="44.86" lengthAdjust="spacingAndGlyphs">LAG3</text>
<text x="102.1" y="250" font-size="21" stroke="#000" stroke-width="0.3" transform="rotate(-90 102.1 250)">Response</text>
<text x="1123.9" y="250" font-size="21" stroke="#000" stroke-width="0.3" transform="rotate(-90 1123.9 250)">CD8 Response</text>
<text x="1142.8" y="250" font-size="21" stroke="#000" stroke-width="0.3" transform="rotate(-90 1142.8 250)">CD4 Response</text>
<text x="1161.6" y="250" font-size="21" stroke="#000" stroke-width="0.3" transform="rotate(-90 1161.6 250)">CD8+CD4 Response</text>
<g id="rowdend">
<line x1="46.4" y1="253.5" x2="46.4" y2="731" stroke="#808080" stroke-width="1.6" stroke-dasharray="2.8 4.15"/>
<path d="M80.3 263.31 L63.9 263.31 L63.9 280.74 L80.3 280.74" fill="none" stroke="#1a1a1a" stroke-width="1.5" stroke-linejoin="miter"/>
<path d="M80.3 303.22 L70.9 303.22 L70.9 320.65 L80.3 320.65" fill="none" stroke="#1a1a1a" stroke-width="1.5" stroke-linejoin="miter"/>
<path d="M70.9 311.94 L69.8 311.94 L69.8 338.08 L80.3 338.08" fill="none" stroke="#1a1a1a" stroke-width="1.5" stroke-linejoin="miter"/>
<path d="M69.8 325.01 L66 325.01 L66 355.51 L80.3 355.51" fill="none" stroke="#1a1a1a" stroke-width="1.5" stroke-linejoin="miter"/>
<path d="M80.3 395.42 L69.3 395.42 L69.3 412.85 L80.3 412.85" fill="none" stroke="#1a1a1a" stroke-width="1.5" stroke-linejoin="miter"/>
<path d="M80.3 377.99 L58.5 377.99 L58.5 404.14 L69.3 404.14" fill="none" stroke="#1a1a1a" stroke-width="1.5" stroke-linejoin="miter"/>
<path d="M66 340.26 L40.8 340.26 L40.8 391.07 L58.5 391.07" fill="none" stroke="#1a1a1a" stroke-width="1.5" stroke-linejoin="miter"/>
<path d="M63.9 272.03 L37.4 272.03 L37.4 365.67 L40.8 365.67" fill="none" stroke="#1a1a1a" stroke-width="1.5" stroke-linejoin="miter"/>
<path d="M80.3 435.33 L64.3 435.33 L64.3 452.76 L80.3 452.76" fill="none" stroke="#1a1a1a" stroke-width="1.5" stroke-linejoin="miter"/>
<path d="M64.3 444.05 L57.6 444.05 L57.6 470.19 L80.3 470.19" fill="none" stroke="#1a1a1a" stroke-width="1.5" stroke-linejoin="miter"/>
<path d="M57.6 457.12 L53.8 457.12 L53.8 487.62 L80.3 487.62" fill="none" stroke="#1a1a1a" stroke-width="1.5" stroke-linejoin="miter"/>
<path d="M80.3 527.53 L65.2 527.53 L65.2 544.96 L80.3 544.96" fill="none" stroke="#1a1a1a" stroke-width="1.5" stroke-linejoin="miter"/>
<path d="M80.3 510.1 L60.1 510.1 L60.1 536.25 L65.2 536.25" fill="none" stroke="#1a1a1a" stroke-width="1.5" stroke-linejoin="miter"/>
<path d="M60.1 523.18 L58 523.18 L58 562.39 L80.3 562.39" fill="none" stroke="#1a1a1a" stroke-width="1.5" stroke-linejoin="miter"/>
<path d="M58 542.79 L49.9 542.79 L49.9 579.82 L80.3 579.82" fill="none" stroke="#1a1a1a" stroke-width="1.5" stroke-linejoin="miter"/>
<path d="M49.9 561.31 L49.4 561.31 L49.4 597.25 L80.3 597.25" fill="none" stroke="#1a1a1a" stroke-width="1.5" stroke-linejoin="miter"/>
<path d="M53.8 472.37 L35.4 472.37 L35.4 579.28 L49.4 579.28" fill="none" stroke="#1a1a1a" stroke-width="1.5" stroke-linejoin="miter"/>
<path d="M37.4 318.85 L32.7 318.85 L32.7 525.83 L35.4 525.83" fill="none" stroke="#1a1a1a" stroke-width="1.5" stroke-linejoin="miter"/>
<path d="M80.3 619.74 L74.6 619.74 L74.6 637.16 L80.3 637.16" fill="none" stroke="#1a1a1a" stroke-width="1.5" stroke-linejoin="miter"/>
<path d="M74.6 628.45 L70.7 628.45 L70.7 654.6 L80.3 654.6" fill="none" stroke="#1a1a1a" stroke-width="1.5" stroke-linejoin="miter"/>
<path d="M80.3 672.02 L73.9 672.02 L73.9 689.46 L80.3 689.46" fill="none" stroke="#1a1a1a" stroke-width="1.5" stroke-linejoin="miter"/>
<path d="M80.3 706.88 L71.7 706.88 L71.7 724.32 L80.3 724.32" fill="none" stroke="#1a1a1a" stroke-width="1.5" stroke-linejoin="miter"/>
<path d="M73.9 680.74 L70.2 680.74 L70.2 715.6 L71.7 715.6" fill="none" stroke="#1a1a1a" stroke-width="1.5" stroke-linejoin="miter"/>
<path d="M70.7 641.52 L68.8 641.52 L68.8 698.17 L70.2 698.17" fill="none" stroke="#1a1a1a" stroke-width="1.5" stroke-linejoin="miter"/>
<path d="M68.8 669.85 L67.5 669.85 L67.5 741.75 L80.3 741.75" fill="none" stroke="#1a1a1a" stroke-width="1.5" stroke-linejoin="miter"/>
<path d="M32.7 422.34 L30.1 422.34 L30.1 705.8 L67.5 705.8" fill="none" stroke="#1a1a1a" stroke-width="1.5" stroke-linejoin="miter"/>
</g>
<g id="coldend">
<path d="M118.62 752.3 L118.62 774.9 L132.26 774.9 L132.26 752.3" fill="none" stroke="#1a1a1a" stroke-width="1.5" stroke-linejoin="miter"/>
<path d="M159.54 752.3 L159.54 763.7 L173.18 763.7 L173.18 752.3" fill="none" stroke="#1a1a1a" stroke-width="1.5" stroke-linejoin="miter"/>
<path d="M145.9 752.3 L145.9 768.1 L166.36 768.1 L166.36 763.7" fill="none" stroke="#1a1a1a" stroke-width="1.5" stroke-linejoin="miter"/>
<path d="M186.82 752.3 L186.82 763.1 L200.46 763.1 L200.46 752.3" fill="none" stroke="#1a1a1a" stroke-width="1.5" stroke-linejoin="miter"/>
<path d="M214.1 752.3 L214.1 768.1 L227.74 768.1 L227.74 752.3" fill="none" stroke="#1a1a1a" stroke-width="1.5" stroke-linejoin="miter"/>
<path d="M193.64 763.1 L193.64 769.2 L220.92 769.2 L220.92 768.1" fill="none" stroke="#1a1a1a" stroke-width="1.5" stroke-linejoin="miter"/>
<path d="M156.13 768.1 L156.13 771.3 L207.28 771.3 L207.28 769.2" fill="none" stroke="#1a1a1a" stroke-width="1.5" stroke-linejoin="miter"/>
<path d="M255.02 752.3 L255.02 764.6 L268.66 764.6 L268.66 752.3" fill="none" stroke="#1a1a1a" stroke-width="1.5" stroke-linejoin="miter"/>
<path d="M295.94 752.3 L295.94 765.4 L309.58 765.4 L309.58 752.3" fill="none" stroke="#1a1a1a" stroke-width="1.5" stroke-linejoin="miter"/>
<path d="M282.3 752.3 L282.3 768.1 L302.76 768.1 L302.76 765.4" fill="none" stroke="#1a1a1a" stroke-width="1.5" stroke-linejoin="miter"/>
<path d="M261.84 764.6 L261.84 768.7 L292.53 768.7 L292.53 768.1" fill="none" stroke="#1a1a1a" stroke-width="1.5" stroke-linejoin="miter"/>
<path d="M241.38 752.3 L241.38 771.7 L277.18 771.7 L277.18 768.7" fill="none" stroke="#1a1a1a" stroke-width="1.5" stroke-linejoin="miter"/>
<path d="M181.7 771.3 L181.7 777.5 L259.28 777.5 L259.28 771.7" fill="none" stroke="#1a1a1a" stroke-width="1.5" stroke-linejoin="miter"/>
<path d="M125.44 774.9 L125.44 783.7 L220.49 783.7 L220.49 777.5" fill="none" stroke="#1a1a1a" stroke-width="1.5" stroke-linejoin="miter"/>
<path d="M327.97 752.3 L327.97 768.1 L341.71 768.1 L341.71 752.3" fill="none" stroke="#1a1a1a" stroke-width="1.5" stroke-linejoin="miter"/>
<path d="M369.19 752.3 L369.19 766.3 L382.93 766.3 L382.93 752.3" fill="none" stroke="#1a1a1a" stroke-width="1.5" stroke-linejoin="miter"/>
<path d="M355.45 752.3 L355.45 770.4 L376.06 770.4 L376.06 766.3" fill="none" stroke="#1a1a1a" stroke-width="1.5" stroke-linejoin="miter"/>
<path d="M334.84 768.1 L334.84 779.1 L365.75 779.1 L365.75 770.4" fill="none" stroke="#1a1a1a" stroke-width="1.5" stroke-linejoin="miter"/>
<path d="M428.39 752.3 L428.39 761 L442.07 761 L442.07 752.3" fill="none" stroke="#1a1a1a" stroke-width="1.5" stroke-linejoin="miter"/>
<path d="M414.72 752.3 L414.72 763.1 L435.23 763.1 L435.23 761" fill="none" stroke="#1a1a1a" stroke-width="1.5" stroke-linejoin="miter"/>
<path d="M401.04 752.3 L401.04 767.2 L424.98 767.2 L424.98 763.1" fill="none" stroke="#1a1a1a" stroke-width="1.5" stroke-linejoin="miter"/>
<path d="M496.78 752.3 L496.78 760.6 L510.46 760.6 L510.46 752.3" fill="none" stroke="#1a1a1a" stroke-width="1.5" stroke-linejoin="miter"/>
<path d="M483.11 752.3 L483.11 764.2 L503.62 764.2 L503.62 760.6" fill="none" stroke="#1a1a1a" stroke-width="1.5" stroke-linejoin="miter"/>
<path d="M469.43 752.3 L469.43 769 L493.36 769 L493.36 764.2" fill="none" stroke="#1a1a1a" stroke-width="1.5" stroke-linejoin="miter"/>
<path d="M455.75 752.3 L455.75 772.9 L481.4 772.9 L481.4 769" fill="none" stroke="#1a1a1a" stroke-width="1.5" stroke-linejoin="miter"/>
<path d="M413.01 767.2 L413.01 777 L468.57 777 L468.57 772.9" fill="none" stroke="#1a1a1a" stroke-width="1.5" stroke-linejoin="miter"/>
<path d="M555.92 752.3 L555.92 767.2 L569.57 767.2 L569.57 752.3" fill="none" stroke="#1a1a1a" stroke-width="1.5" stroke-linejoin="miter"/>
<path d="M542.27 752.3 L542.27 777.3 L562.75 777.3 L562.75 767.2" fill="none" stroke="#1a1a1a" stroke-width="1.5" stroke-linejoin="miter"/>
<path d="M528.62 752.3 L528.62 782.9 L552.51 782.9 L552.51 777.3" fill="none" stroke="#1a1a1a" stroke-width="1.5" stroke-linejoin="miter"/>
<path d="M601.56 752.3 L601.56 763.1 L615.2 763.1 L615.2 752.3" fill="none" stroke="#1a1a1a" stroke-width="1.5" stroke-linejoin="miter"/>
<path d="M587.92 752.3 L587.92 767.6 L608.38 767.6 L608.38 763.1" fill="none" stroke="#1a1a1a" stroke-width="1.5" stroke-linejoin="miter"/>
<path d="M697.02 752.3 L697.02 757.1 L710.66 757.1 L710.66 752.3" fill="none" stroke="#1a1a1a" stroke-width="1.5" stroke-linejoin="miter"/>
<path d="M683.39 752.3 L683.39 758.9 L703.84 758.9 L703.84 757.1" fill="none" stroke="#1a1a1a" stroke-width="1.5" stroke-linejoin="miter"/>
<path d="M669.75 752.3 L669.75 760.6 L693.61 760.6 L693.61 758.9" fill="none" stroke="#1a1a1a" stroke-width="1.5" stroke-linejoin="miter"/>
<path d="M656.11 752.3 L656.11 762.4 L681.68 762.4 L681.68 760.6" fill="none" stroke="#1a1a1a" stroke-width="1.5" stroke-linejoin="miter"/>
<path d="M642.47 752.3 L642.47 763.7 L668.9 763.7 L668.9 762.4" fill="none" stroke="#1a1a1a" stroke-width="1.5" stroke-linejoin="miter"/>
<path d="M628.83 752.3 L628.83 765.8 L655.68 765.8 L655.68 763.7" fill="none" stroke="#1a1a1a" stroke-width="1.5" stroke-linejoin="miter"/>
<path d="M751.58 752.3 L751.58 761.5 L765.21 761.5 L765.21 752.3" fill="none" stroke="#1a1a1a" stroke-width="1.5" stroke-linejoin="miter"/>
<path d="M737.94 752.3 L737.94 762.8 L758.4 762.8 L758.4 761.5" fill="none" stroke="#1a1a1a" stroke-width="1.5" stroke-linejoin="miter"/>
<path d="M724.3 752.3 L724.3 765.8 L748.17 765.8 L748.17 762.8" fill="none" stroke="#1a1a1a" stroke-width="1.5" stroke-linejoin="miter"/>
<path d="M778.85 752.3 L778.85 764.6 L792.49 764.6 L792.49 752.3" fill="none" stroke="#1a1a1a" stroke-width="1.5" stroke-linejoin="miter"/>
<path d="M785.67 764.6 L785.67 768.6 L806.13 768.6 L806.13 752.3" fill="none" stroke="#1a1a1a" stroke-width="1.5" stroke-linejoin="miter"/>
<path d="M736.23 765.8 L736.23 771.3 L795.9 771.3 L795.9 768.6" fill="none" stroke="#1a1a1a" stroke-width="1.5" stroke-linejoin="miter"/>
<path d="M642.26 765.8 L642.26 773.8 L766.07 773.8 L766.07 771.3" fill="none" stroke="#1a1a1a" stroke-width="1.5" stroke-linejoin="miter"/>
<path d="M598.15 767.6 L598.15 775.7 L704.16 775.7 L704.16 773.8" fill="none" stroke="#1a1a1a" stroke-width="1.5" stroke-linejoin="miter"/>
<path d="M819.77 752.3 L819.77 766.7 L833.4 766.7 L833.4 752.3" fill="none" stroke="#1a1a1a" stroke-width="1.5" stroke-linejoin="miter"/>
<path d="M847.04 752.3 L847.04 753 L860.68 753 L860.68 752.3" fill="none" stroke="#1a1a1a" stroke-width="1.5" stroke-linejoin="miter"/>
<path d="M826.59 766.7 L826.59 781.1 L853.86 781.1 L853.86 753" fill="none" stroke="#1a1a1a" stroke-width="1.5" stroke-linejoin="miter"/>
<path d="M651.16 775.7 L651.16 783.2 L840.22 783.2 L840.22 781.1" fill="none" stroke="#1a1a1a" stroke-width="1.5" stroke-linejoin="miter"/>
<path d="M879.31 752.3 L879.31 767.2 L892.92 767.2 L892.92 752.3" fill="none" stroke="#1a1a1a" stroke-width="1.5" stroke-linejoin="miter"/>
<path d="M906.53 752.3 L906.53 772 L920.14 772 L920.14 752.3" fill="none" stroke="#1a1a1a" stroke-width="1.5" stroke-linejoin="miter"/>
<path d="M886.11 767.2 L886.11 778.2 L913.34 778.2 L913.34 772" fill="none" stroke="#1a1a1a" stroke-width="1.5" stroke-linejoin="miter"/>
<path d="M947.36 752.3 L947.36 766.7 L960.98 766.7 L960.98 752.3" fill="none" stroke="#1a1a1a" stroke-width="1.5" stroke-linejoin="miter"/>
<path d="M933.75 752.3 L933.75 768.5 L954.17 768.5 L954.17 766.7" fill="none" stroke="#1a1a1a" stroke-width="1.5" stroke-linejoin="miter"/>
<path d="M988.2 752.3 L988.2 758.3 L1001.81 758.3 L1001.81 752.3" fill="none" stroke="#1a1a1a" stroke-width="1.5" stroke-linejoin="miter"/>
<path d="M995.01 758.3 L995.01 763.7 L1015.42 763.7 L1015.42 752.3" fill="none" stroke="#1a1a1a" stroke-width="1.5" stroke-linejoin="miter"/>
<path d="M974.59 752.3 L974.59 770.2 L1005.21 770.2 L1005.21 763.7" fill="none" stroke="#1a1a1a" stroke-width="1.5" stroke-linejoin="miter"/>
<path d="M943.96 768.5 L943.96 773.1 L989.9 773.1 L989.9 770.2" fill="none" stroke="#1a1a1a" stroke-width="1.5" stroke-linejoin="miter"/>
<path d="M1042.65 752.3 L1042.65 762.8 L1056.26 762.8 L1056.26 752.3" fill="none" stroke="#1a1a1a" stroke-width="1.5" stroke-linejoin="miter"/>
<path d="M1029.04 752.3 L1029.04 768.1 L1049.45 768.1 L1049.45 762.8" fill="none" stroke="#1a1a1a" stroke-width="1.5" stroke-linejoin="miter"/>
<path d="M1083.48 752.3 L1083.48 767.2 L1097.09 767.2 L1097.09 752.3" fill="none" stroke="#1a1a1a" stroke-width="1.5" stroke-linejoin="miter"/>
<path d="M1069.87 752.3 L1069.87 772.2 L1090.29 772.2 L1090.29 767.2" fill="none" stroke="#1a1a1a" stroke-width="1.5" stroke-linejoin="miter"/>
<path d="M1039.24 768.1 L1039.24 774 L1080.08 774 L1080.08 772.2" fill="none" stroke="#1a1a1a" stroke-width="1.5" stroke-linejoin="miter"/>
<path d="M966.93 773.1 L966.93 778.4 L1059.66 778.4 L1059.66 774" fill="none" stroke="#1a1a1a" stroke-width="1.5" stroke-linejoin="miter"/>
<path d="M899.72 778.2 L899.72 783.7 L1013.3 783.7 L1013.3 778.4" fill="none" stroke="#1a1a1a" stroke-width="1.5" stroke-linejoin="miter"/>
<path d="M440.79 777 L440.79 785.6 L540.57 785.6 L540.57 782.9" fill="none" stroke="#1a1a1a" stroke-width="1.5" stroke-linejoin="miter"/>
<path d="M350.3 779.1 L350.3 786.5 L490.68 786.5 L490.68 785.6" fill="none" stroke="#1a1a1a" stroke-width="1.5" stroke-linejoin="miter"/>
<path d="M745.69 783.2 L745.69 787.7 L956.51 787.7 L956.51 783.7" fill="none" stroke="#1a1a1a" stroke-width="1.5" stroke-linejoin="miter"/>
<path d="M420.49 786.5 L420.49 791 L851.1 791 L851.1 787.7" fill="none" stroke="#1a1a1a" stroke-width="1.5" stroke-linejoin="miter"/>
<path d="M172.97 783.7 L172.97 802.8 L635.79 802.8 L635.79 791" fill="none" stroke="#1a1a1a" stroke-width="1.5" stroke-linejoin="miter"/>
</g>
<g id="legends">
<defs><linearGradient id="inf" x1="0" x2="1" y1="0" y2="0">
<stop offset="0" stop-color="#000004"/><stop offset="0.048" stop-color="#000004"/>
<stop offset="0.135" stop-color="#160b39"/><stop offset="0.223" stop-color="#420a68"/><stop offset="0.31" stop-color="#6a176e"/>
<stop offset="0.398" stop-color="#932667"/><stop offset="0.485" stop-color="#bc3754"/><stop offset="0.573" stop-color="#dd513a"/>
<stop offset="0.66" stop-color="#f37819"/><stop offset="0.748" stop-color="#fca50a"/><stop offset="0.835" stop-color="#f6d746"/>
<stop offset="0.923" stop-color="#fcffa4"/><stop offset="1" stop-color="#fcffa4"/></linearGradient></defs>
<text x="399.3" y="853.9" font-size="20.6" stroke="#000" stroke-width="0.3" font-weight="bold" textLength="130.5" lengthAdjust="spacingAndGlyphs">Marker Level</text>
<rect x="397.8" y="865.6" width="96.2" height="26" fill="url(#inf)"/>
<line x1="402.4" y1="865.6" x2="402.4" y2="869.6" stroke="#fff" stroke-width="1.2"/>
<line x1="402.4" y1="887.6" x2="402.4" y2="891.6" stroke="#fff" stroke-width="1.2"/>
<line x1="444.6" y1="865.6" x2="444.6" y2="869.6" stroke="#fff" stroke-width="1.2"/>
<line x1="444.6" y1="887.6" x2="444.6" y2="891.6" stroke="#fff" stroke-width="1.2"/>
<line x1="486.6" y1="865.6" x2="486.6" y2="869.6" stroke="#fff" stroke-width="1.2"/>
<line x1="486.6" y1="887.6" x2="486.6" y2="891.6" stroke="#fff" stroke-width="1.2"/>
<text x="403" y="911.9" font-size="19.5" stroke="#000" stroke-width="0.3" text-anchor="middle">0</text>
<text x="444.6" y="911.9" font-size="19.5" stroke="#000" stroke-width="0.3" text-anchor="middle">0.5</text>
<text x="486.6" y="911.9" font-size="19.5" stroke="#000" stroke-width="0.3" text-anchor="middle">1</text>
<text x="576.6" y="854.5" font-size="18.2" stroke="#000" stroke-width="0.3" font-weight="bold">Response</text>
<rect x="576.6" y="866.3" width="19.5" height="19.4" fill="#ff40ff"/>
<text x="602.3" y="882.5" font-size="18.1" stroke="#1a1a1a" stroke-width="0.3" fill="#1a1a1a">HD</text>
<rect x="576.6" y="887.1" width="19.5" height="19.4" fill="#ff2600"/>
<text x="602.3" y="903.3" font-size="18.1" stroke="#1a1a1a" stroke-width="0.3" fill="#1a1a1a">PR</text>
<rect x="576.6" y="907.9" width="19.5" height="19.4" fill="#00f900"/>
<text x="602.3" y="924.1" font-size="18.1" stroke="#1a1a1a" stroke-width="0.3" fill="#1a1a1a">SD</text>
<rect x="576.6" y="928.7" width="19.5" height="19.4" fill="#add8e6"/>
<text x="602.3" y="944.9" font-size="18.1" stroke="#1a1a1a" stroke-width="0.3" fill="#1a1a1a">NED1</text>
<rect x="576.6" y="949.5" width="19.5" height="19.4" fill="#0433ff"/>
<text x="602.3" y="965.7" font-size="18.1" stroke="#1a1a1a" stroke-width="0.3" fill="#1a1a1a">NED2</text>
<rect x="576.6" y="970.3" width="19.5" height="19.4" fill="#7f7f7f"/>
<text x="602.3" y="986.5" font-size="18.1" stroke="#1a1a1a" stroke-width="0.3" fill="#1a1a1a">PD</text>
<text x="739.5" y="854.5" font-size="18.2" stroke="#000" stroke-width="0.3" font-weight="bold">CD8 Response</text>
<rect x="740.1" y="866.3" width="19.5" height="19.4" fill="#808080"/>
<text x="765.7" y="882.5" font-size="18.1" stroke="#1a1a1a" stroke-width="0.3" fill="#1a1a1a">No</text>
<rect x="740.1" y="887.1" width="19.5" height="19.4" fill="#ff2600"/>
<text x="765.7" y="903.3" font-size="18.1" stroke="#1a1a1a" stroke-width="0.3" fill="#1a1a1a">Yes</text>
<text x="739.5" y="940.9" font-size="18.2" stroke="#000" stroke-width="0.3" font-weight="bold">CD4 Response</text>
<rect x="740.1" y="952" width="19.5" height="19.4" fill="#808080"/>
<text x="765.7" y="968.2" font-size="18.1" stroke="#1a1a1a" stroke-width="0.3" fill="#1a1a1a">No</text>
<rect x="740.1" y="972.8" width="19.5" height="19.4" fill="#ff2600"/>
<text x="765.7" y="989" font-size="18.1" stroke="#1a1a1a" stroke-width="0.3" fill="#1a1a1a">Yes</text>
<text x="739.5" y="1026.4" font-size="18.2" stroke="#000" stroke-width="0.3" font-weight="bold">CD8+CD4 Response</text>
<rect x="740.1" y="1037.5" width="19.5" height="19.4" fill="#808080"/>
<text x="765.7" y="1053.7" font-size="18.1" stroke="#1a1a1a" stroke-width="0.3" fill="#1a1a1a">No</text>
<rect x="740.1" y="1058.3" width="19.5" height="19.4" fill="#ff2600"/>
<text x="765.7" y="1074.5" font-size="18.1" stroke="#1a1a1a" stroke-width="0.3" fill="#1a1a1a">Yes</text>
</g>
</g>
<g id="panelB">
<text font-size="51" transform="translate(1216.58 56.5) scale(0.8197 1)" font-weight="bold" stroke="#000" stroke-width="0.5">B</text>
<text font-size="35.3" transform="translate(1485.71 53.2) scale(1.0131 1)" stroke="#000" stroke-width="0.35">Culture Luminex Clinical</text>
<text font-size="35.3" transform="translate(1485.9 100.6) scale(1.0086 1)" stroke="#000" stroke-width="0.35">Outcome associations</text>
<text font-size="42.7" transform="translate(1446.17 157.2) scale(0.9740 1)" stroke="#000" stroke-width="0.35">Bad</text>
<text font-size="42.7" transform="translate(1780.3 157.2) scale(1.0323 1)" stroke="#000" stroke-width="0.35">Good</text>
<line x1="1425" y1="168.5" x2="1900" y2="168.5" stroke="#000" stroke-width="2.2"/>
<path d="M1409.8 168.5 L1433 160.1 L1433 176.9 Z" fill="#000"/>
<path d="M1915.8 168.5 L1892.6 160.1 L1892.6 176.9 Z" fill="#000"/>
<line x1="1601.95" y1="187.8" x2="1601.95" y2="1151" stroke="#ff9393" stroke-width="3.5" stroke-dasharray="14.4 14.43"/>
<text x="1332" y="217.2" font-size="23.4" stroke="#111" stroke-width="0.3" text-anchor="end" fill="#111">LAG3</text>
<line x1="1628.4" y1="208.6" x2="1695.9" y2="208.6" stroke="#000" stroke-width="2.5"/>
<circle cx="1662.2" cy="208.6" r="5.9" fill="#000"/>
<text x="1705" y="204.3" font-size="19" stroke="#111" stroke-width="0.3" text-anchor="middle" fill="#111">0.0014</text>
<text x="1332" y="246.03" font-size="23.4" stroke="#111" stroke-width="0.3" text-anchor="end" fill="#111">sCD40L</text>
<line x1="1629.7" y1="237.43" x2="1711" y2="237.43" stroke="#000" stroke-width="2.5"/>
<circle cx="1669.7" cy="237.43" r="5.9" fill="#000"/>
<text x="1712.5" y="233.13" font-size="19" stroke="#111" stroke-width="0.3" text-anchor="middle" fill="#111">0.0022</text>
<text x="1332" y="274.86" font-size="23.4" stroke="#111" stroke-width="0.3" text-anchor="end" fill="#111">IL5</text>
<line x1="1627.6" y1="266.26" x2="1703.9" y2="266.26" stroke="#000" stroke-width="2.5"/>
<circle cx="1665.5" cy="266.26" r="5.9" fill="#000"/>
<text x="1708.3" y="261.96" font-size="19" stroke="#111" stroke-width="0.3" text-anchor="middle" fill="#111">0.0023</text>
<text x="1332" y="303.69" font-size="23.4" stroke="#111" stroke-width="0.3" text-anchor="end" fill="#111">IL12p70</text>
<circle cx="1606.8" cy="295.09" r="5.9" fill="#000"/>
<text x="1649.6" y="290.79" font-size="19" stroke="#111" stroke-width="0.3" text-anchor="middle" fill="#111">0.0034</text>
<text x="1332" y="332.52" font-size="23.4" stroke="#111" stroke-width="0.3" text-anchor="end" fill="#111">Eotaxin3</text>
<line x1="1627.2" y1="323.92" x2="1715.6" y2="323.92" stroke="#000" stroke-width="2.5"/>
<circle cx="1671.4" cy="323.92" r="5.9" fill="#000"/>
<text x="1714.2" y="319.62" font-size="19" stroke="#111" stroke-width="0.3" text-anchor="middle" fill="#111">0.0036</text>
<text x="1332" y="361.35" font-size="23.4" stroke="#111" stroke-width="0.3" text-anchor="end" fill="#111">SDF1A</text>
<circle cx="1611" cy="352.75" r="5.9" fill="#000"/>
<text x="1653.8" y="348.45" font-size="19" stroke="#111" stroke-width="0.3" text-anchor="middle" fill="#111">0.0038</text>
<text x="1332" y="390.18" font-size="23.4" stroke="#111" stroke-width="0.3" text-anchor="end" fill="#111">IFNAlpha</text>
<line x1="1638.5" y1="381.58" x2="1788.6" y2="381.58" stroke="#000" stroke-width="2.5"/>
<circle cx="1712.9" cy="381.58" r="5.9" fill="#000"/>
<text x="1755.7" y="377.28" font-size="19" stroke="#111" stroke-width="0.3" text-anchor="middle" fill="#111">0.0054</text>
<text x="1332" y="419.01" font-size="23.4" stroke="#111" stroke-width="0.3" text-anchor="end" fill="#111">IL1Alpha</text>
<line x1="1610.4" y1="410.41" x2="1648.9" y2="410.41" stroke="#000" stroke-width="2.5"/>
<circle cx="1629.5" cy="410.41" r="5.9" fill="#000"/>
<text x="1672.3" y="406.11" font-size="19" stroke="#111" stroke-width="0.3" text-anchor="middle" fill="#111">0.0061</text>
<text x="1332" y="447.84" font-size="23.4" stroke="#111" stroke-width="0.3" text-anchor="end" fill="#111">TNFA</text>
<circle cx="1611.4" cy="439.24" r="5.9" fill="#000"/>
<text x="1654.2" y="434.94" font-size="19" stroke="#111" stroke-width="0.3" text-anchor="middle" fill="#111">0.0062</text>
<text x="1332" y="476.67" font-size="23.4" stroke="#111" stroke-width="0.3" text-anchor="end" fill="#111">IL21</text>
<line x1="1606.6" y1="468.07" x2="1630.1" y2="468.07" stroke="#000" stroke-width="2.5"/>
<circle cx="1618.1" cy="468.07" r="5.9" fill="#000"/>
<text x="1660.9" y="463.77" font-size="19" stroke="#111" stroke-width="0.3" text-anchor="middle" fill="#111">0.0064</text>
<text x="1332" y="505.5" font-size="23.4" stroke="#111" stroke-width="0.3" text-anchor="end" fill="#111">MIG</text>
<circle cx="1609.7" cy="496.9" r="5.9" fill="#000"/>
<text x="1652.5" y="492.6" font-size="19" stroke="#111" stroke-width="0.3" text-anchor="middle" fill="#111">0.007</text>
<text x="1332" y="534.33" font-size="23.4" stroke="#111" stroke-width="0.3" text-anchor="end" fill="#111">IL18</text>
<line x1="1611.6" y1="525.73" x2="1658.2" y2="525.73" stroke="#000" stroke-width="2.5"/>
<circle cx="1634.9" cy="525.73" r="5.9" fill="#000"/>
<text x="1677.7" y="521.43" font-size="19" stroke="#111" stroke-width="0.3" text-anchor="middle" fill="#111">0.0072</text>
<text x="1332" y="563.16" font-size="23.4" stroke="#111" stroke-width="0.3" text-anchor="end" fill="#111">IL4</text>
<circle cx="1611" cy="554.56" r="5.9" fill="#000"/>
<text x="1653.8" y="550.26" font-size="19" stroke="#111" stroke-width="0.3" text-anchor="middle" fill="#111">0.0094</text>
<text x="1332" y="591.99" font-size="23.4" stroke="#111" stroke-width="0.3" text-anchor="end" fill="#111">MIP3A</text>
<circle cx="1605.5" cy="583.39" r="5.9" fill="#000"/>
<text x="1648.3" y="579.09" font-size="19" stroke="#111" stroke-width="0.3" text-anchor="middle" fill="#111">0.0099</text>
<text x="1332" y="620.82" font-size="23.4" stroke="#111" stroke-width="0.3" text-anchor="end" fill="#111">IL22</text>
<line x1="1607.4" y1="612.22" x2="1641.4" y2="612.22" stroke="#000" stroke-width="2.5"/>
<circle cx="1624.4" cy="612.22" r="5.9" fill="#000"/>
<text x="1667.2" y="607.92" font-size="19" stroke="#111" stroke-width="0.3" text-anchor="middle" fill="#111">0.0103</text>
<text x="1332" y="649.65" font-size="23.4" stroke="#111" stroke-width="0.3" text-anchor="end" fill="#111">CD27</text>
<line x1="1566.3" y1="641.05" x2="1596.5" y2="641.05" stroke="#000" stroke-width="2.5"/>
<circle cx="1581.6" cy="641.05" r="5.9" fill="#000"/>
<text x="1624.4" y="636.75" font-size="19" stroke="#111" stroke-width="0.3" text-anchor="middle" fill="#111">0.0114</text>
<text x="1332" y="678.48" font-size="23.4" stroke="#111" stroke-width="0.3" text-anchor="end" fill="#111">IL3</text>
<line x1="1609.9" y1="669.88" x2="1666.5" y2="669.88" stroke="#000" stroke-width="2.5"/>
<circle cx="1638.2" cy="669.88" r="5.9" fill="#000"/>
<text x="1681" y="665.58" font-size="19" stroke="#111" stroke-width="0.3" text-anchor="middle" fill="#111">0.0137</text>
<text x="1332" y="707.31" font-size="23.4" stroke="#111" stroke-width="0.3" text-anchor="end" fill="#111">IL23</text>
<circle cx="1607.6" cy="698.71" r="5.9" fill="#000"/>
<text x="1650.4" y="694.41" font-size="19" stroke="#111" stroke-width="0.3" text-anchor="middle" fill="#111">0.0139</text>
<text x="1332" y="736.14" font-size="23.4" stroke="#111" stroke-width="0.3" text-anchor="end" fill="#111">CD80</text>
<circle cx="1610.5" cy="727.54" r="5.9" fill="#000"/>
<text x="1653.3" y="723.24" font-size="19" stroke="#111" stroke-width="0.3" text-anchor="middle" fill="#111">0.0143</text>
<text x="1332" y="764.97" font-size="23.4" stroke="#111" stroke-width="0.3" text-anchor="end" fill="#111">TIM3</text>
<line x1="1604.8" y1="756.37" x2="1619.6" y2="756.37" stroke="#000" stroke-width="2.5"/>
<circle cx="1611.8" cy="756.37" r="5.9" fill="#000"/>
<text x="1654.6" y="752.07" font-size="19" stroke="#111" stroke-width="0.3" text-anchor="middle" fill="#111">0.0153</text>
<text x="1332" y="793.8" font-size="23.4" stroke="#111" stroke-width="0.3" text-anchor="end" fill="#111">ITAC</text>
<circle cx="1606.8" cy="785.2" r="5.9" fill="#000"/>
<text x="1649.6" y="780.9" font-size="19" stroke="#111" stroke-width="0.3" text-anchor="middle" fill="#111">0.0164</text>
<text x="1332" y="822.63" font-size="23.4" stroke="#111" stroke-width="0.3" text-anchor="end" fill="#111">IL16</text>
<line x1="1604.8" y1="814.03" x2="1633.8" y2="814.03" stroke="#000" stroke-width="2.5"/>
<circle cx="1619" cy="814.03" r="5.9" fill="#000"/>
<text x="1661.8" y="809.73" font-size="19" stroke="#111" stroke-width="0.3" text-anchor="middle" fill="#111">0.0165</text>
<text x="1332" y="851.46" font-size="23.4" stroke="#111" stroke-width="0.3" text-anchor="end" fill="#111">MIF</text>
<line x1="1526.5" y1="842.86" x2="1594.4" y2="842.86" stroke="#000" stroke-width="2.5"/>
<circle cx="1559.8" cy="842.86" r="5.9" fill="#000"/>
<text x="1602.6" y="838.56" font-size="19" stroke="#111" stroke-width="0.3" text-anchor="middle" fill="#111">0.0186</text>
<text x="1332" y="880.29" font-size="23.4" stroke="#111" stroke-width="0.3" text-anchor="end" fill="#111">CXCL13</text>
<line x1="1606.2" y1="871.69" x2="1643.9" y2="871.69" stroke="#000" stroke-width="2.5"/>
<circle cx="1624.8" cy="871.69" r="5.9" fill="#000"/>
<text x="1667.6" y="867.39" font-size="19" stroke="#111" stroke-width="0.3" text-anchor="middle" fill="#111">0.0192</text>
<text x="1332" y="909.12" font-size="23.4" stroke="#111" stroke-width="0.3" text-anchor="end" fill="#111">IL6</text>
<line x1="1604.1" y1="900.52" x2="1621.2" y2="900.52" stroke="#000" stroke-width="2.5"/>
<circle cx="1612.2" cy="900.52" r="5.9" fill="#000"/>
<text x="1655" y="896.22" font-size="19" stroke="#111" stroke-width="0.3" text-anchor="middle" fill="#111">0.0196</text>
<text x="1332" y="937.95" font-size="23.4" stroke="#111" stroke-width="0.3" text-anchor="end" fill="#111">VEGFA</text>
<line x1="1604.8" y1="929.35" x2="1619.6" y2="929.35" stroke="#000" stroke-width="2.5"/>
<circle cx="1611.4" cy="929.35" r="5.9" fill="#000"/>
<text x="1654.2" y="925.05" font-size="19" stroke="#111" stroke-width="0.3" text-anchor="middle" fill="#111">0.0213</text>
<text x="1332" y="966.78" font-size="23.4" stroke="#111" stroke-width="0.3" text-anchor="end" fill="#111">IL15</text>
<line x1="1372.2" y1="958.18" x2="1586" y2="958.18" stroke="#000" stroke-width="2.5"/>
<circle cx="1478.5" cy="958.18" r="5.9" fill="#000"/>
<text x="1521.3" y="953.88" font-size="19" stroke="#111" stroke-width="0.3" text-anchor="middle" fill="#111">0.0258</text>
<text x="1332" y="995.61" font-size="23.4" stroke="#111" stroke-width="0.3" text-anchor="end" fill="#111">MIP1A</text>
<line x1="1603.2" y1="987.01" x2="1630.1" y2="987.01" stroke="#000" stroke-width="2.5"/>
<circle cx="1616.4" cy="987.01" r="5.9" fill="#000"/>
<text x="1659.2" y="982.71" font-size="19" stroke="#111" stroke-width="0.3" text-anchor="middle" fill="#111">0.0295</text>
<text x="1332" y="1024.44" font-size="23.4" stroke="#111" stroke-width="0.3" text-anchor="end" fill="#111">Eotaxin</text>
<line x1="1622.1" y1="1015.84" x2="1960" y2="1015.84" stroke="#000" stroke-width="2.5"/>
<circle cx="1791.3" cy="1015.84" r="5.9" fill="#000"/>
<text x="1834.1" y="1011.54" font-size="19" stroke="#111" stroke-width="0.3" text-anchor="middle" fill="#111">0.03</text>
<text x="1332" y="1053.27" font-size="23.4" stroke="#111" stroke-width="0.3" text-anchor="end" fill="#111">MDC</text>
<circle cx="1606.4" cy="1044.67" r="5.9" fill="#000"/>
<text x="1649.2" y="1040.37" font-size="19" stroke="#111" stroke-width="0.3" text-anchor="middle" fill="#111">0.035</text>
<text x="1332" y="1082.1" font-size="23.4" stroke="#111" stroke-width="0.3" text-anchor="end" fill="#111">BAFF</text>
<line x1="1604.1" y1="1073.5" x2="1660.2" y2="1073.5" stroke="#000" stroke-width="2.5"/>
<circle cx="1631.5" cy="1073.5" r="5.9" fill="#000"/>
<text x="1674.3" y="1069.2" font-size="19" stroke="#111" stroke-width="0.3" text-anchor="middle" fill="#111">0.0351</text>
<text x="1332" y="1110.93" font-size="23.4" stroke="#111" stroke-width="0.3" text-anchor="end" fill="#111">MCP1</text>
<circle cx="1608" cy="1102.33" r="5.9" fill="#000"/>
<text x="1650.8" y="1098.03" font-size="19" stroke="#111" stroke-width="0.3" text-anchor="middle" fill="#111">0.0371</text>
<text x="1332" y="1139.76" font-size="23.4" stroke="#111" stroke-width="0.3" text-anchor="end" fill="#111">GROAlpha</text>
<line x1="1602.4" y1="1131.16" x2="1620.4" y2="1131.16" stroke="#000" stroke-width="2.5"/>
<circle cx="1610.6" cy="1131.16" r="5.9" fill="#000"/>
<text x="1653.4" y="1126.86" font-size="19" stroke="#111" stroke-width="0.3" text-anchor="middle" fill="#111">0.044</text>
<rect x="1340.8" y="1150.5" width="641.2" height="7.4" fill="#000"/>
<text x="1447.5" y="1180" font-size="24.2" stroke="#111" stroke-width="0.3" text-anchor="middle" fill="#111">-25</text>
<text x="1601.4" y="1180" font-size="24.2" stroke="#111" stroke-width="0.3" text-anchor="middle" fill="#111">0</text>
<text x="1755.2" y="1180" font-size="24.2" stroke="#111" stroke-width="0.3" text-anchor="middle" fill="#111">25</text>
<text x="1909.5" y="1180" font-size="24.2" stroke="#111" stroke-width="0.3" text-anchor="middle" fill="#111">50</text>
<text x="1690.2" y="1208.2" font-size="20.4" stroke="#111" stroke-width="0.3" text-anchor="middle" fill="#111">(95% CI)</text>
<text x="1213" y="658" font-size="23.3" stroke="#111" stroke-width="0.3" text-anchor="middle" fill="#111" transform="rotate(-90 1213 658)">Luminex Markers</text>
</g>
<g id="panelC">
<text font-size="50.5" transform="translate(11.73 1284.6) scale(0.7770 1)" font-weight="bold" stroke="#000" stroke-width="0.5">C</text>
<text font-size="35.3" transform="translate(93.65 1380.9) scale(0.9923 1)" stroke="#000" stroke-width="0.35">Correlation with SCENITH Glucose Dependence</text>
<text font-size="35.3" transform="translate(907.1 1382.3) scale(1.0206 1)" stroke="#000" stroke-width="0.35">Correlation with Seahorse glycolytic capacity</text>
<text font-size="35.3" transform="translate(890.19 1657.9) scale(1.0250 1)" stroke="#000" stroke-width="0.35">Correlation with Seahorse maximal oxygen consumption</text>
<text font-size="45" transform="rotate(-90 93.6 1748.9) translate(90.19 1748.9) scale(0.9471 1)">Luminex markers</text>
<rect x="216.2" y="1431.5" width="529.9" height="264.9" fill="#fff" stroke="#8a8a8a" stroke-width="1.7"/>
<rect x="376.66" y="1437.9" width="104.44" height="32.8" fill="#000"/>
<line x1="210.7" y1="1454.3" x2="216.2" y2="1454.3" stroke="#444" stroke-width="1.3"/>
<text x="206.1" y="1462.86" font-size="23.9" stroke="#1f1f1f" stroke-width="0.3" text-anchor="end" fill="#1f1f1f">CTLA4</text>
<text x="541.4" y="1461.23" font-size="19.8" stroke="#222" stroke-width="0.3" text-anchor="middle" fill="#222">p=0.0638</text>
<rect x="375.7" y="1474.7" width="105.4" height="32.8" fill="#000"/>
<line x1="210.7" y1="1491.1" x2="216.2" y2="1491.1" stroke="#444" stroke-width="1.3"/>
<text x="206.1" y="1499.66" font-size="23.9" stroke="#1f1f1f" stroke-width="0.3" text-anchor="end" fill="#1f1f1f">PD1</text>
<text x="541.4" y="1498.03" font-size="19.8" stroke="#222" stroke-width="0.3" text-anchor="middle" fill="#222">p=0.0615</text>
<rect x="374.97" y="1511.5" width="106.13" height="32.8" fill="#000"/>
<line x1="210.7" y1="1527.9" x2="216.2" y2="1527.9" stroke="#444" stroke-width="1.3"/>
<text x="206.1" y="1536.46" font-size="23.9" stroke="#1f1f1f" stroke-width="0.3" text-anchor="end" fill="#1f1f1f">TSLP</text>
<text x="541.4" y="1534.83" font-size="19.8" stroke="#222" stroke-width="0.3" text-anchor="middle" fill="#222">p=0.0581</text>
<rect x="374.49" y="1548.3" width="106.61" height="32.8" fill="#000"/>
<line x1="210.7" y1="1564.7" x2="216.2" y2="1564.7" stroke="#444" stroke-width="1.3"/>
<text x="206.1" y="1573.26" font-size="23.9" stroke="#1f1f1f" stroke-width="0.3" text-anchor="end" fill="#1f1f1f">MCP2</text>
<text x="541.4" y="1571.63" font-size="19.8" stroke="#222" stroke-width="0.3" text-anchor="middle" fill="#222">p=0.057</text>
<rect x="369.42" y="1585.1" width="111.68" height="32.8" fill="#000"/>
<line x1="210.7" y1="1601.5" x2="216.2" y2="1601.5" stroke="#444" stroke-width="1.3"/>
<text x="206.1" y="1610.06" font-size="23.9" stroke="#1f1f1f" stroke-width="0.3" text-anchor="end" fill="#1f1f1f">GITR</text>
<text x="541.4" y="1608.43" font-size="19.8" stroke="#222" stroke-width="0.3" text-anchor="middle" fill="#222">p=0.0458</text>
<rect x="367.01" y="1621.9" width="114.09" height="32.8" fill="#000"/>
<line x1="210.7" y1="1638.3" x2="216.2" y2="1638.3" stroke="#444" stroke-width="1.3"/>
<text x="206.1" y="1646.86" font-size="23.9" stroke="#1f1f1f" stroke-width="0.3" text-anchor="end" fill="#1f1f1f">BTLA</text>
<text x="541.4" y="1645.23" font-size="19.8" stroke="#222" stroke-width="0.3" text-anchor="middle" fill="#222">p=0.0405</text>
<rect x="347.23" y="1658.7" width="133.87" height="32.8" fill="#000"/>
<line x1="210.7" y1="1675.1" x2="216.2" y2="1675.1" stroke="#444" stroke-width="1.3"/>
<text x="206.1" y="1683.66" font-size="23.9" stroke="#1f1f1f" stroke-width="0.3" text-anchor="end" fill="#1f1f1f">IDO</text>
<text x="541.4" y="1682.03" font-size="19.8" stroke="#222" stroke-width="0.3" text-anchor="middle" fill="#222">p=0.0138</text>
<rect x="478.7" y="1431.5" width="5.5" height="264.9" fill="#000"/>
<line x1="239.9" y1="1696.4" x2="239.9" y2="1701.9" stroke="#444" stroke-width="1.3"/>
<text x="239.9" y="1723.1" font-size="24" stroke="#1f1f1f" stroke-width="0.3" text-anchor="middle" fill="#1f1f1f">-1.0</text>
<line x1="360.5" y1="1696.4" x2="360.5" y2="1701.9" stroke="#444" stroke-width="1.3"/>
<text x="360.5" y="1723.1" font-size="24" stroke="#1f1f1f" stroke-width="0.3" text-anchor="middle" fill="#1f1f1f">-0.5</text>
<line x1="481.1" y1="1696.4" x2="481.1" y2="1701.9" stroke="#444" stroke-width="1.3"/>
<text x="481.1" y="1723.1" font-size="24" stroke="#1f1f1f" stroke-width="0.3" text-anchor="middle" fill="#1f1f1f">0.0</text>
<line x1="601.7" y1="1696.4" x2="601.7" y2="1701.9" stroke="#444" stroke-width="1.3"/>
<text x="601.7" y="1723.1" font-size="24" stroke="#1f1f1f" stroke-width="0.3" text-anchor="middle" fill="#1f1f1f">0.5</text>
<line x1="722.3" y1="1696.4" x2="722.3" y2="1701.9" stroke="#444" stroke-width="1.3"/>
<text x="722.3" y="1723.1" font-size="24" stroke="#1f1f1f" stroke-width="0.3" text-anchor="middle" fill="#1f1f1f">1.0</text>
<text x="481.1" y="1749.8" font-size="24.3" stroke="#111" stroke-width="0.3" text-anchor="middle" fill="#111">Correlation Coefficient</text>
<rect x="956.3" y="1436.6" width="425.7" height="105" fill="#fff" stroke="#8a8a8a" stroke-width="1.7"/>
<rect x="1168.4" y="1443.7" width="111.78" height="42.8" fill="#000"/>
<line x1="950.8" y1="1465.1" x2="956.3" y2="1465.1" stroke="#444" stroke-width="1.3"/>
<text x="945.6" y="1473.84" font-size="24.4" stroke="#1f1f1f" stroke-width="0.3" text-anchor="end" fill="#1f1f1f">MIF</text>
<text x="1333.9" y="1472.17" font-size="20.2" stroke="#222" stroke-width="0.3" text-anchor="middle" fill="#222">p=0.0655</text>
<rect x="1035.24" y="1491.9" width="133.16" height="42.8" fill="#000"/>
<line x1="950.8" y1="1513.3" x2="956.3" y2="1513.3" stroke="#444" stroke-width="1.3"/>
<text x="945.6" y="1522.04" font-size="24.4" stroke="#1f1f1f" stroke-width="0.3" text-anchor="end" fill="#1f1f1f">LAG3</text>
<text x="1333.9" y="1520.37" font-size="20.2" stroke="#222" stroke-width="0.3" text-anchor="middle" fill="#222">p=0.0186</text>
<rect x="1166.3" y="1436.6" width="4.9" height="105" fill="#000"/>
<line x1="974" y1="1541.6" x2="974" y2="1547.1" stroke="#444" stroke-width="1.3"/>
<text x="974" y="1569.2" font-size="24.2" stroke="#1f1f1f" stroke-width="0.3" text-anchor="middle" fill="#1f1f1f">-1.0</text>
<line x1="1071.2" y1="1541.6" x2="1071.2" y2="1547.1" stroke="#444" stroke-width="1.3"/>
<text x="1071.2" y="1569.2" font-size="24.2" stroke="#1f1f1f" stroke-width="0.3" text-anchor="middle" fill="#1f1f1f">-0.5</text>
<line x1="1168.4" y1="1541.6" x2="1168.4" y2="1547.1" stroke="#444" stroke-width="1.3"/>
<text x="1168.4" y="1569.2" font-size="24.2" stroke="#1f1f1f" stroke-width="0.3" text-anchor="middle" fill="#1f1f1f">0.0</text>
<line x1="1265.6" y1="1541.6" x2="1265.6" y2="1547.1" stroke="#444" stroke-width="1.3"/>
<text x="1265.6" y="1569.2" font-size="24.2" stroke="#1f1f1f" stroke-width="0.3" text-anchor="middle" fill="#1f1f1f">0.5</text>
<line x1="1362.8" y1="1541.6" x2="1362.8" y2="1547.1" stroke="#444" stroke-width="1.3"/>
<text x="1362.8" y="1569.2" font-size="24.2" stroke="#1f1f1f" stroke-width="0.3" text-anchor="middle" fill="#1f1f1f">1.0</text>
<text x="1168.4" y="1597.4" font-size="24.9" stroke="#111" stroke-width="0.3" text-anchor="middle" fill="#111">Correlation Coefficient</text>
<rect x="952.2" y="1698.9" width="504.1" height="252.1" fill="#fff" stroke="#8a8a8a" stroke-width="1.7"/>
<rect x="1203.7" y="1705.1" width="136.9" height="36.2" fill="#000"/>
<line x1="946.7" y1="1723.2" x2="952.2" y2="1723.2" stroke="#444" stroke-width="1.3"/>
<text x="942.5" y="1731.25" font-size="22.5" stroke="#1f1f1f" stroke-width="0.3" text-anchor="end" fill="#1f1f1f">IP10</text>
<text x="1387.7" y="1729.67" font-size="18.5" stroke="#222" stroke-width="0.3" text-anchor="middle" fill="#222">p=0.0415</text>
<rect x="1070.47" y="1745.9" width="133.23" height="36.2" fill="#000"/>
<line x1="946.7" y1="1764" x2="952.2" y2="1764" stroke="#444" stroke-width="1.3"/>
<text x="942.5" y="1772.05" font-size="22.5" stroke="#1f1f1f" stroke-width="0.3" text-anchor="end" fill="#1f1f1f">IL23</text>
<text x="1387.7" y="1770.47" font-size="18.5" stroke="#222" stroke-width="0.3" text-anchor="middle" fill="#222">p=0.0479</text>
<rect x="1064.5" y="1786.7" width="139.2" height="36.2" fill="#000"/>
<line x1="946.7" y1="1804.8" x2="952.2" y2="1804.8" stroke="#444" stroke-width="1.3"/>
<text x="942.5" y="1812.85" font-size="22.5" stroke="#1f1f1f" stroke-width="0.3" text-anchor="end" fill="#1f1f1f">APRIL</text>
<text x="1387.7" y="1811.27" font-size="18.5" stroke="#222" stroke-width="0.3" text-anchor="middle" fill="#222">p=0.0358</text>
<rect x="1056.23" y="1827.5" width="147.47" height="36.2" fill="#000"/>
<line x1="946.7" y1="1845.6" x2="952.2" y2="1845.6" stroke="#444" stroke-width="1.3"/>
<text x="942.5" y="1853.65" font-size="22.5" stroke="#1f1f1f" stroke-width="0.3" text-anchor="end" fill="#1f1f1f">IL27</text>
<text x="1387.7" y="1852.07" font-size="18.5" stroke="#222" stroke-width="0.3" text-anchor="middle" fill="#222">p=0.024</text>
<rect x="1056.23" y="1868.3" width="147.47" height="36.2" fill="#000"/>
<line x1="946.7" y1="1886.4" x2="952.2" y2="1886.4" stroke="#444" stroke-width="1.3"/>
<text x="942.5" y="1894.45" font-size="22.5" stroke="#1f1f1f" stroke-width="0.3" text-anchor="end" fill="#1f1f1f">FGF2</text>
<text x="1387.7" y="1892.87" font-size="18.5" stroke="#222" stroke-width="0.3" text-anchor="middle" fill="#222">p=0.024</text>
<rect x="1017.64" y="1909.1" width="186.06" height="36.2" fill="#000"/>
<line x1="946.7" y1="1927.2" x2="952.2" y2="1927.2" stroke="#444" stroke-width="1.3"/>
<text x="942.5" y="1935.25" font-size="22.5" stroke="#1f1f1f" stroke-width="0.3" text-anchor="end" fill="#1f1f1f">TNFB</text>
<text x="1387.7" y="1933.67" font-size="18.5" stroke="#222" stroke-width="0.3" text-anchor="middle" fill="#222">p=0.0014</text>
<rect x="1201.4" y="1698.9" width="5.3" height="252.1" fill="#000"/>
<line x1="974" y1="1951" x2="974" y2="1956.5" stroke="#444" stroke-width="1.3"/>
<text x="974" y="1977.6" font-size="23.3" stroke="#1f1f1f" stroke-width="0.3" text-anchor="middle" fill="#1f1f1f">-1.0</text>
<line x1="1088.85" y1="1951" x2="1088.85" y2="1956.5" stroke="#444" stroke-width="1.3"/>
<text x="1088.85" y="1977.6" font-size="23.3" stroke="#1f1f1f" stroke-width="0.3" text-anchor="middle" fill="#1f1f1f">-0.5</text>
<line x1="1203.7" y1="1951" x2="1203.7" y2="1956.5" stroke="#444" stroke-width="1.3"/>
<text x="1203.7" y="1977.6" font-size="23.3" stroke="#1f1f1f" stroke-width="0.3" text-anchor="middle" fill="#1f1f1f">0.0</text>
<line x1="1318.55" y1="1951" x2="1318.55" y2="1956.5" stroke="#444" stroke-width="1.3"/>
<text x="1318.55" y="1977.6" font-size="23.3" stroke="#1f1f1f" stroke-width="0.3" text-anchor="middle" fill="#1f1f1f">0.5</text>
<line x1="1433.4" y1="1951" x2="1433.4" y2="1956.5" stroke="#444" stroke-width="1.3"/>
<text x="1433.4" y="1977.6" font-size="23.3" stroke="#1f1f1f" stroke-width="0.3" text-anchor="middle" fill="#1f1f1f">1.0</text>
<text x="1203.7" y="2001.8" font-size="23.05" stroke="#111" stroke-width="0.3" text-anchor="middle" fill="#111">Correlation Coefficient</text>
<rect x="860" y="1790" width="19" height="30" fill="#fff"/>
</g>
</svg>
</body>
</html>
